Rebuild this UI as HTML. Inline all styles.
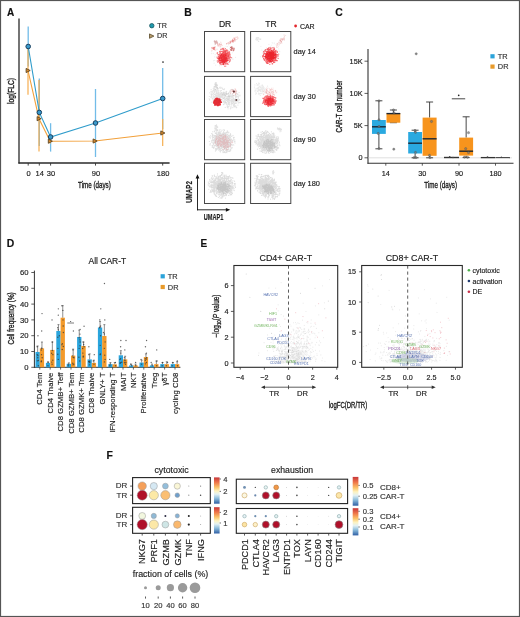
<!DOCTYPE html>
<html><head><meta charset="utf-8"><style>
html,body{margin:0;padding:0;background:#fff;}
svg{display:block;font-family:"Liberation Sans", sans-serif;will-change:transform;}
text{stroke-width:0.16px;}
</style></head><body>
<svg width="520" height="617" viewBox="0 0 520 617" fill="#222">
<defs><filter id="b4" x="-20%" y="-20%" width="140%" height="140%"><feGaussianBlur stdDeviation="0.45"/></filter><filter id="b3" x="-20%" y="-20%" width="140%" height="140%"><feGaussianBlur stdDeviation="0.3"/></filter></defs>
<rect x="0.5" y="0.5" width="519" height="616" fill="none" stroke="#555" stroke-width="1.2"/>
<text x="7" y="16.08" font-size="10" text-anchor="start" font-weight="bold" fill="#111" stroke="#111">A</text>
<line x1="19" y1="18.5" x2="19" y2="163.6" stroke="#2a2a2a" stroke-width="1.3"/>
<line x1="18.4" y1="163" x2="169.6" y2="163" stroke="#2a2a2a" stroke-width="1.3"/>
<line x1="28.2" y1="163" x2="28.2" y2="165.6" stroke="#333" stroke-width="0.9"/>
<text x="28.6" y="175.59" font-size="7.5" text-anchor="middle" fill="#222" stroke="#222">0</text>
<line x1="39.3" y1="163" x2="39.3" y2="165.6" stroke="#333" stroke-width="0.9"/>
<text x="39.7" y="175.59" font-size="7.5" text-anchor="middle" fill="#222" stroke="#222">14</text>
<line x1="50.6" y1="163" x2="50.6" y2="165.6" stroke="#333" stroke-width="0.9"/>
<text x="51" y="175.59" font-size="7.5" text-anchor="middle" fill="#222" stroke="#222">30</text>
<line x1="95.5" y1="163" x2="95.5" y2="165.6" stroke="#333" stroke-width="0.9"/>
<text x="95.9" y="175.59" font-size="7.5" text-anchor="middle" fill="#222" stroke="#222">90</text>
<line x1="162.7" y1="163" x2="162.7" y2="165.6" stroke="#333" stroke-width="0.9"/>
<text x="163.1" y="175.59" font-size="7.5" text-anchor="middle" fill="#222" stroke="#222">180</text>
<text x="94.45" y="187.79" font-size="8.9" text-anchor="middle" fill="#222" stroke="#222" style="stroke-width:0.35px" textLength="32.7" lengthAdjust="spacingAndGlyphs">Time (days)</text>
<text x="14.01" y="91" font-size="8.4" text-anchor="middle" transform="rotate(-90 14.01 91)" textLength="26" lengthAdjust="spacingAndGlyphs" style="stroke-width:0.35px" fill="#222" stroke="#222">log(FLC)</text>
<line x1="28.2" y1="26.5" x2="28.2" y2="66.5" stroke="#72BCE8" stroke-width="1.3"/>
<line x1="39.3" y1="78.6" x2="39.3" y2="146" stroke="#72BCE8" stroke-width="1.3"/>
<line x1="50.6" y1="123.2" x2="50.6" y2="151.6" stroke="#72BCE8" stroke-width="1.3"/>
<line x1="95.5" y1="89" x2="95.5" y2="157" stroke="#72BCE8" stroke-width="1.3"/>
<line x1="162.7" y1="68" x2="162.7" y2="129" stroke="#72BCE8" stroke-width="1.3"/>
<line x1="28" y1="46.5" x2="28" y2="94.8" stroke="#F6AE50" stroke-width="1.2"/>
<line x1="39" y1="80" x2="39" y2="151.6" stroke="#F6AE50" stroke-width="1.2"/>
<line x1="50.2" y1="139" x2="50.2" y2="143.5" stroke="#F6AE50" stroke-width="1.2"/>
<line x1="95" y1="139" x2="95" y2="143" stroke="#F6AE50" stroke-width="1.2"/>
<line x1="162.7" y1="119" x2="162.7" y2="146" stroke="#F6AE50" stroke-width="1.2"/>
<polyline points="28.2,46.5 39.3,112.4 50.6,137 95.5,123 162.7,98.5" fill="none" stroke="#2F9CCB" stroke-width="1.1"/>
<polyline points="28,70.5 39,118.7 50.2,141.2 95,141 162.7,133" fill="none" stroke="#F2A03A" stroke-width="1.1"/>
<polygon points="26.1,68.4 26.1,72.6 30.2,70.5" fill="#D98A2E" stroke="#4d3818" stroke-width="0.8"/>
<polygon points="37.1,116.6 37.1,120.8 41.2,118.7" fill="#D98A2E" stroke="#4d3818" stroke-width="0.8"/>
<polygon points="48.3,139.1 48.3,143.3 52.4,141.2" fill="#D98A2E" stroke="#4d3818" stroke-width="0.8"/>
<polygon points="93.1,138.9 93.1,143.1 97.2,141" fill="#D98A2E" stroke="#4d3818" stroke-width="0.8"/>
<polygon points="160.8,130.9 160.8,135.1 164.9,133" fill="#D98A2E" stroke="#4d3818" stroke-width="0.8"/>
<circle cx="28.2" cy="46.5" r="2.3" fill="#3A9ACC" stroke="#173E5E" stroke-width="1"/>
<circle cx="39.3" cy="112.4" r="2.3" fill="#3A9ACC" stroke="#173E5E" stroke-width="1"/>
<circle cx="50.6" cy="137" r="2.3" fill="#3A9ACC" stroke="#173E5E" stroke-width="1"/>
<circle cx="95.5" cy="123" r="2.3" fill="#3A9ACC" stroke="#173E5E" stroke-width="1"/>
<circle cx="162.7" cy="98.5" r="2.3" fill="#3A9ACC" stroke="#173E5E" stroke-width="1"/>
<circle cx="163" cy="62" r="0.85" fill="#222"/>
<circle cx="151.8" cy="25.7" r="2.2" fill="#1F9AAE" stroke="#175560" stroke-width="0.8"/>
<text x="157.3" y="27.78" font-size="7.2" text-anchor="start" fill="#333" stroke="#333">TR</text>
<polygon points="149.5,33.9 149.5,38.3 153.9,36.1" fill="#B59A6A" stroke="#5a4a2a" stroke-width="0.8"/>
<text x="157.1" y="38.48" font-size="7.2" text-anchor="start" fill="#333" stroke="#333">DR</text>
<text x="184.3" y="15.52" font-size="10.4" text-anchor="start" font-weight="bold" fill="#111" stroke="#111">B</text>
<text x="225.1" y="26.58" font-size="8.6" text-anchor="middle" fill="#222" stroke="#222">DR</text>
<text x="271" y="26.58" font-size="8.6" text-anchor="middle" fill="#222" stroke="#222">TR</text>
<circle cx="295.6" cy="26" r="1.4" fill="#E3262B"/>
<text x="299.9" y="28.61" font-size="7" text-anchor="start" fill="#222" stroke="#222">CAR</text>
<text x="293.6" y="54.35" font-size="7.4" text-anchor="start" fill="#222" stroke="#222">day 14</text>
<text x="293.6" y="99.15" font-size="7.4" text-anchor="start" fill="#222" stroke="#222">day 30</text>
<text x="293.6" y="142.25" font-size="7.4" text-anchor="start" fill="#222" stroke="#222">day 90</text>
<text x="293.6" y="185.95" font-size="7.4" text-anchor="start" fill="#222" stroke="#222">day 180</text>
<path d="M221.96 58.57h0M222.14 53.61h0M217.92 54.22h0M230.17 58.04h0M229.72 56.99h0M225.87 56.61h0M213.5 60.63h0M226.54 58.49h0M218.16 52.69h0M225.33 55.22h0M226.63 51.65h0M225.35 57.86h0M219.53 65.81h0M226.84 62.68h0M219.78 51.06h0M221.44 54.86h0M227.29 56.99h0M220.82 49.76h0M220.38 62.83h0M218.65 56.97h0M226.06 46.56h0M223.79 63.34h0M211.41 53.57h0M222.86 50.6h0M226.48 55.13h0M214.71 60.47h0M227.52 61.18h0M232.14 57.67h0M224.22 47.7h0M227.19 51.83h0M220.78 47.91h0M217.69 52.31h0M214.75 56.94h0M232.16 58.97h0M225.64 51.08h0M216.78 61.36h0M230.11 56.44h0M224.97 58.11h0M233.06 59.21h0M226.61 58.79h0M214.09 63.19h0M229.23 58.68h0M211.66 51.7h0M228.55 44.63h0M222.4 61.62h0M215.63 65.16h0M226.81 54.6h0M225.45 59.4h0M224.22 62.37h0M219.53 53.01h0M229.75 55.66h0M218.22 61.18h0M232.29 52.83h0M215.22 54.69h0M222.61 53.71h0M231.93 49.34h0M231.06 47.89h0M218.78 59.29h0M230.27 60.65h0M225.57 56.35h0M224.41 58.95h0M222.44 57.16h0M226.94 55.51h0M228.08 58.9h0M235.56 57.45h0M220.93 53.26h0M223.42 61.04h0M221.48 57.81h0M216.76 56.96h0M225.89 56.93h0M220.91 59.43h0M225.19 52.37h0M220.17 54.9h0M222.15 55.12h0M229.55 48.49h0M223.1 61.22h0M228.64 64.45h0M213.29 53.38h0M221.45 59.24h0M230.03 46.81h0M227.6 46.55h0M224.56 62.67h0M222.6 56.65h0M228.28 56.35h0M222.97 64.7h0M229.79 53.74h0M228.99 53.91h0M224.29 59.73h0M224.83 59.33h0M214.34 46.44h0" stroke="#a8a8a8" stroke-opacity="0.2" stroke-width="1.2" stroke-linecap="round" fill="none"/>
<path d="M225.95 53.25h0M220.21 51.13h0M228.23 60.44h0M228.96 53.36h0M223.8 52.51h0M226.48 63.98h0M220.68 63.85h0M227.26 56.55h0M223.46 54.77h0M225.2 59.02h0M229.04 53.02h0M227.78 63.55h0M228.88 56.54h0M221.2 61.58h0M224.2 57.82h0M228.78 56.19h0M217.31 60.74h0M224.91 54.73h0M223.77 60.8h0M224.08 62.87h0M223.59 61.67h0M221.45 61h0M217.23 52.75h0M219.49 57.25h0M223.13 57.18h0M221.73 58.28h0M230.07 57.49h0M225.66 61.5h0M223.11 52.01h0M221.86 61.81h0M218.04 54.79h0M227.33 60.63h0M223.83 60.68h0M224.38 52.35h0M218.33 54.62h0M227.03 54.92h0M220.64 54.06h0M218.44 56.81h0M219.67 58.83h0M221.55 49.14h0M226.34 56.14h0M224.82 55.37h0M226.53 60.44h0M226.13 58.67h0M228.47 60.07h0M225.38 48.55h0M226.94 62.8h0M222.76 55.33h0M220.55 60.2h0M230.4 56.8h0M225.76 61.09h0M220.63 56.93h0M224.82 60.77h0M223.68 56.48h0M220.24 55.79h0M226.92 57.73h0M220.81 53.77h0M225.98 59.32h0M229.69 59.1h0M223.56 59.49h0M224.94 54.35h0M218.89 54.5h0M224.82 58.07h0M222.41 53.21h0M219.62 51.65h0M229.76 61.45h0M230.17 60.7h0M220.75 58.39h0M223.59 59.5h0M221.25 56.78h0M225.4 58.88h0M226.03 58.18h0M222.67 60.61h0M223.97 53.83h0M221.61 57.3h0M223.42 57.96h0M223.8 58.04h0M223.33 52.01h0M225.27 61.73h0M225.32 56.51h0M225.36 53.24h0M217.16 57.55h0M220.54 60.41h0M220.16 63.93h0M222.46 51.55h0M221.13 59.49h0M225.54 58.04h0M228.99 60.27h0M223.73 59.81h0M229.59 61.38h0M227.38 52.75h0M223.28 60.37h0M222.76 61.79h0M225.89 61.11h0M228.14 56.4h0M222.6 60.97h0M227.23 57.33h0M219.72 58.09h0M225.06 62.04h0M226.54 57.4h0M226.79 59.57h0M224.52 57.53h0M222.95 60.18h0M220.11 54.66h0M223.82 51.15h0M222.27 48.86h0M221.41 59.69h0M225.78 57.07h0M222.99 51.35h0M230.2 59.47h0M227.63 53.59h0M223.15 49.66h0M226.53 61.23h0M217.16 57.08h0M226.01 49.9h0M217.41 52.83h0M221.6 51.41h0M223.91 58.35h0M226.02 60.25h0M229.06 62.19h0M219.21 55.18h0M220.09 52.78h0M223.52 57.32h0M225.52 50.63h0M219.47 57.2h0M223.1 55.99h0M223.58 54.11h0M226.25 58.79h0M223.49 54.48h0M220.37 57.46h0M218.54 58.14h0M224.32 51.51h0M222.92 55.98h0M225.41 59.87h0M223.67 53.72h0M223.3 57.03h0M226.37 58.54h0M221.27 51.61h0M222.49 54.19h0M219.91 56.81h0M222.08 57.74h0M225.63 55.57h0M227.66 57.81h0M221.17 58.34h0M224.93 62.68h0M226.48 61.28h0M225.59 56.64h0M225.58 52.77h0M227.93 53.03h0M224.67 66.21h0M223.02 57.38h0M227.87 57.41h0M220.97 58.38h0M225.84 60.28h0M221.1 64.66h0M229.63 57.38h0M224.74 55.5h0M228.75 54.34h0M226.16 55.29h0M221.37 60.32h0M228.47 57.26h0M221.43 60.71h0M223.63 58.6h0M229.13 62.05h0M223.81 60.6h0M221.53 57.11h0M228.58 52.2h0M227.92 55.37h0M223.59 55.99h0M223.38 52.73h0M223.88 51.26h0M223.55 58.6h0M225.44 56.33h0M220.64 57.97h0M222.1 63.88h0M226.49 56.82h0M222.15 54.35h0M220.52 55.82h0M224.83 59.47h0M225.79 66.11h0M221.33 57.35h0M221.97 58.01h0M224.34 59.01h0M222.96 58.84h0M223.98 60.54h0M217.18 53.58h0M223.79 52.97h0M220.14 59.94h0M221.53 59.97h0M226.41 58.59h0M225.58 56.86h0M218.87 57.17h0M225.39 55.08h0M223.45 60.45h0M220.73 59.99h0M230.32 54.97h0M224.31 56.67h0M229.19 58.63h0M226.94 54.4h0M223.74 57.26h0M226.95 49.95h0M226.41 56.75h0M225.37 58.84h0M218.55 56.41h0M229.02 54.89h0M220.22 51.59h0M219.53 58.71h0M229.72 59.1h0M221.98 54.47h0M225.65 59.6h0M220.25 52.39h0M224.82 58.34h0M219.23 56.45h0M221.9 59.23h0M223.39 56.94h0M222.56 61.72h0M228.67 55.76h0M226.76 54.12h0M224.05 60.45h0M229.1 55.69h0M223.54 58.12h0M218.56 57.37h0M221.43 58.86h0M223.93 58.39h0M221.88 61.03h0M222.84 54.76h0M225.47 50.71h0M221.43 57.21h0M226.77 56.62h0M224.88 54.55h0M224.86 64.29h0M221.55 57.37h0M224.41 61.6h0M225.92 60.64h0M224.52 58.37h0M227.05 58.85h0M229.62 52.1h0M226.64 55.74h0M223.78 56.23h0M222.05 53.78h0M221.59 59.98h0M223.93 57.58h0M223.19 61.14h0M225.53 56.7h0M226.13 56.66h0M219.76 63.41h0M225.43 53.28h0M227.58 58.75h0M224.97 61.04h0M224.49 56.67h0M218.38 61.38h0M223.91 56.1h0M225.03 57.63h0M226.16 55.74h0M223.67 48.32h0M222.32 60.14h0M228.48 55.77h0M223.38 63.95h0M222.66 60.38h0M229.67 57.47h0M228.09 54.32h0M224.53 56.98h0M224.2 62.04h0M221.79 59.39h0M220.11 59.39h0M225.8 56.13h0M225.66 50.79h0M226.46 50.81h0M221.36 54.96h0M222.4 60.91h0M224.09 55.63h0M225.7 63.94h0M223.82 58.84h0M228.14 58.42h0M223.66 59.05h0M227.18 60.11h0M222.85 52.87h0M224.16 61.64h0M219.99 52.99h0M223.71 49.16h0M222.89 55.47h0M225.38 54.35h0M220.71 55.64h0M223.63 54.51h0M223.84 60.45h0M227.95 64.46h0M221.06 55.54h0M221.26 57.16h0M225.63 51.59h0M225.42 57.19h0M217.41 58.53h0M226.63 58.18h0M225.46 59.15h0M228.36 56.36h0M226.86 55.58h0M226.35 53.88h0M223.42 64.57h0M225.36 56.64h0M219.79 53.98h0M224.48 61.25h0M225.29 59.5h0M223.65 62.98h0M222.43 54.99h0M226.91 57.57h0M222.83 54.88h0M222.9 59.92h0M225.04 52.22h0M225.29 58.05h0M220.3 60.55h0M222.82 55.89h0M226.59 62.85h0M221.39 59.14h0M222.07 62.32h0M221.53 60.71h0M222.28 59.4h0M223.47 54.49h0M231.33 57.63h0M218.04 60.89h0M217.77 62.13h0M221.78 57.91h0M228.21 57.8h0M227.94 60.41h0M220.94 60.91h0M225.54 60.02h0M226.95 60.38h0M224.39 59.37h0M222.65 57.45h0M226.9 55.44h0M227.82 53.99h0M224.73 55.08h0M224.35 54.4h0M218.21 61.89h0M224.86 54.95h0M224.5 61.46h0M220.38 56.84h0M225.69 59.51h0M222.63 48.45h0M228.15 58.68h0M223.85 56.13h0M224.72 55.51h0M220.21 54.19h0M221.71 54.73h0M219.74 59.97h0M219.22 60.07h0M220.25 58.78h0M228.61 58.15h0M221.24 57.5h0M224.32 50.02h0M221.67 57.98h0M222.16 57.63h0M226.37 60.52h0M226.97 59.77h0M222.79 57.22h0M222.85 55.98h0M223.17 50.06h0M222.63 57.2h0M220.39 57.2h0M225.6 56.61h0M223.08 49.63h0M225.62 56.03h0M226.78 58.86h0M223.88 54.83h0M226.03 55.26h0M224.58 55.16h0M224.51 60.47h0M220.73 57.16h0M225.96 57.91h0M220.62 49.23h0M226.8 63.72h0M227.03 60.72h0M221.63 54.3h0M226.91 53.47h0M217.45 53.11h0M221.4 54.24h0M224.61 54.15h0M228.39 56.97h0M220 62.8h0M221.76 58.23h0M223.76 55.98h0M224.94 54.39h0" stroke="#F0141E" stroke-opacity="0.6" stroke-width="1.2" stroke-linecap="round" fill="none"/>
<path d="M220.15 57.1h0M222.95 59.14h0M224.25 59.3h0M221.21 57.23h0M218.23 58.58h0M224.09 60.32h0M222.73 58.56h0M225.11 59.04h0M224.66 60.46h0M223.48 62.27h0M221.71 58.1h0M221.18 57.01h0M223.05 60.42h0M225.64 61.02h0M225.71 55.84h0M221.56 60.13h0M226.23 59.26h0M221.07 58.11h0M221.51 56.85h0M226.38 57.44h0M223.05 64.41h0M225.67 59.84h0M221.62 60.03h0M226.65 60.56h0M225.84 59.25h0M224.16 58.5h0M223.96 62.25h0M219.78 58.84h0M223.54 57.57h0M222.31 60.97h0M227.5 60.57h0M223.73 55.12h0M227.34 59.19h0M222.92 56.2h0M222.87 56.26h0M223.16 60.17h0M223.07 59.7h0M221.08 62.57h0M221.53 54.45h0M222.58 57.09h0M220.73 58.11h0M223.66 56.05h0M222.69 62.57h0M224.54 58.62h0M223.29 58.7h0M222.89 60.83h0M222.95 56.78h0M224.47 57.47h0M223.33 64.44h0M220.64 56.19h0M218.77 59.91h0M221.56 54.33h0M219.66 60.54h0M221.26 58.08h0M223.74 62.39h0M223.32 59.46h0M222.3 60.14h0M223.65 59.13h0M221.87 55.68h0M221.8 55.14h0M225.75 60.34h0M220.29 62.49h0M225.01 54.23h0M227.14 61.02h0M224.19 60.06h0M223.45 59.43h0M225.37 55.26h0M220.21 55.51h0M221.75 57.49h0M223.83 59.67h0M223.07 57.31h0M222.01 61.38h0M224.72 59.25h0M222.27 62.88h0M221.66 60.62h0M225.6 58.34h0M224.86 56.21h0M225.28 59.5h0M219.43 60.67h0M220.99 62.2h0M221.47 58.59h0M223.64 58.17h0M223.58 57.62h0M224.51 59.01h0M225.61 59.08h0M218.99 59.24h0M224.05 61.68h0M220.56 62.87h0M222.67 60.7h0M222.18 56.21h0M225.47 61.27h0M226.46 61.14h0M221.71 54.84h0M221.54 57.31h0M221.17 60.46h0M223.74 58.33h0M223.39 58.64h0M223.48 60.88h0M225.16 57.29h0M219.61 62.57h0M223.26 61.76h0M219.3 58.18h0M223.06 55.4h0M221.84 60.81h0M225.43 62.99h0M221.06 55.5h0M224.17 61.35h0M223.43 55.75h0M224.76 60.98h0M224.25 57.78h0M223.68 60.98h0M221.74 54.39h0M223.74 60.2h0M223.03 61.22h0M221.68 58.79h0M222.31 60.43h0M226.59 58.37h0M224.78 60.47h0M226.98 58.55h0M222.75 56.34h0M224.06 62.36h0M224.2 60.06h0M222.55 59.42h0M219.79 61.62h0M222.08 56.24h0M221.31 56.94h0M224.92 61.65h0M219.95 61.32h0M225 57.55h0M219.66 57.14h0M221.57 59.86h0M222.2 53.93h0M223.53 55.16h0M225.04 55.98h0M221.44 56.86h0M221.78 62.25h0M224.92 60.5h0M223.72 55.13h0M221.83 57.62h0M220.8 60.27h0M221.33 57.23h0M224.34 62.33h0M223.39 56.56h0M225.74 59.74h0M225.09 62.7h0M225.54 57.9h0M225.37 60.94h0M219.54 57.99h0M219.8 58.73h0M224.3 56.33h0M223.85 62.68h0M220.02 61.65h0M222.53 59.67h0M222.65 61.5h0M225.34 59.22h0M219.94 60.85h0M221.94 60.57h0M223.59 63.06h0M225.56 57.87h0M223.79 63.41h0" stroke="#E8101A" stroke-opacity="0.7" stroke-width="1.2" stroke-linecap="round" fill="none"/>
<path d="M225.56 54.26h0M228.58 55.7h0M227.41 51.19h0M224.29 53.93h0M224.99 55.49h0M227.85 50.57h0M225.07 53.79h0M225.64 53.23h0M227.32 52.08h0M227.32 52.39h0M225.55 54.44h0M225.5 54h0M229.3 53.55h0M226.24 54.79h0M225.86 55.39h0M224.25 54.58h0M225.6 52.1h0M229.6 52.01h0M229.57 54.65h0M229.04 51.79h0M228.6 56.05h0M226.3 53.27h0M225.76 52.4h0M227.28 54.08h0M226.81 56.51h0M225.93 54.33h0M229.05 51.74h0M228.32 56.71h0M224.13 51.58h0M224.68 50.27h0M227.29 50.25h0M227.37 56.04h0M223.67 52.95h0M223.14 54.86h0M225.21 53.03h0M226.6 54.45h0M225.89 53.53h0M225.54 53.7h0M224.45 53.61h0M223.12 52.64h0M229.85 53.64h0M224.3 53.95h0M224.8 50.61h0M225.21 54.79h0M227.17 53.33h0M224.88 51.61h0M228.86 53.93h0M224.49 53.37h0M226.87 53.22h0M226.01 51.1h0M224.66 56.46h0M225.18 54.98h0M223.54 53.02h0M226.96 55.31h0M224.54 54.54h0M227.18 52.21h0M227.34 51.93h0M225.11 53.47h0M224.75 50.94h0M225.76 54.84h0" stroke="#F02028" stroke-opacity="0.5" stroke-width="1.2" stroke-linecap="round" fill="none"/>
<path d="M215.21 44.22h0M214.31 41.13h0M217.56 43.18h0M216.83 41.71h0M216.67 43.01h0M216.48 42.73h0M217.15 41.92h0M214.54 40.93h0M217.09 41.81h0M214.45 41.57h0M215.17 41.17h0M215.35 41.95h0M215.04 41.55h0M215.74 42.15h0M215.84 43h0M215.06 41.74h0M216.63 40.81h0M214.84 42.35h0M215.3 43.89h0M215.17 43.86h0M217.16 43.22h0M216.29 42.85h0M216.28 41.24h0M216.84 42.06h0M216.88 42.81h0M217.05 42.54h0M215.23 42.99h0M215.19 42.05h0M215.82 42.87h0M217.52 42.75h0" stroke="#B05050" stroke-opacity="0.45" stroke-width="1.2" stroke-linecap="round" fill="none"/>
<path d="M234.02 49.97h0M232.43 48.95h0M232.16 48h0M232.23 48.1h0M233.94 49.39h0M231.85 46.69h0M232.25 48.34h0M231.21 47.55h0M232.27 48.64h0M233.74 48.95h0M232.47 48.39h0M231.69 50.45h0M233.3 50.69h0M231.95 48.83h0M231.42 49.86h0M230.91 49.42h0M233.4 50.35h0M231.36 50h0M231.59 47.97h0M230.98 50.07h0M233.95 48.15h0M231.54 48.43h0M231.76 46.83h0M231.63 50.11h0M234.17 48.51h0M231.61 48.24h0M230.41 49.8h0M231.21 49.97h0M230.59 47.4h0M232.59 47.96h0" stroke="#B02020" stroke-opacity="0.6" stroke-width="1.2" stroke-linecap="round" fill="none"/>
<path d="M234.84 39.58h0M229.29 43.63h0M234.11 37.99h0M238.18 38.04h0M233.89 38.18h0M230.19 42.05h0M235.03 37.91h0M231.94 41.71h0M227.19 43.63h0M234.77 41.28h0M234.34 39.55h0M228.54 42.44h0M230.59 42.33h0M233.14 42.37h0M232.85 39.65h0M237.55 38.9h0M232.46 40.26h0M226.44 43.64h0M234.84 38.72h0M228.65 43.56h0M233.51 41.02h0M235.12 40.88h0M230.46 43.29h0M229.88 43.34h0M233.15 40.86h0M235.38 39.22h0M236.23 39.64h0M232.64 40.32h0M230 41.97h0M231.88 41.35h0M234.39 38.93h0M230.23 42.05h0M232.59 39.85h0M237.04 37.62h0M232.61 41.23h0M233.35 41.11h0M233.41 40.61h0M226.52 43.91h0M233.33 40.29h0M229.78 42.06h0M232.93 42.09h0M230.65 41.21h0M230.92 42.17h0M232.78 41.12h0M232.84 41.78h0M237.21 36.8h0M232.86 40.5h0M232.84 39.17h0M234.16 40.19h0M231.03 41.1h0M227.85 42.88h0M234.84 40.14h0M232.67 41.44h0M230.73 42.16h0M232.88 41.35h0M232.22 41.02h0M231.79 40.75h0M235.95 37.24h0M234.97 40.37h0M234.25 38.69h0" stroke="#E07070" stroke-opacity="0.4" stroke-width="1" stroke-linecap="round" fill="none"/>
<path d="M211.98 48.77h0M214.38 47.48h0M212.83 48.1h0M213.61 48.84h0M213 47.26h0M215.67 50.1h0M213.31 49.52h0M214.28 49.16h0M214.34 47.74h0M214.5 49.51h0M211.93 50.47h0M216.98 49.24h0M212.91 47.9h0M212.08 48.62h0M213.44 49.17h0M214.68 48.98h0M213.98 48.29h0M213.29 47.68h0M213.81 48.48h0M214.06 47.64h0M213.57 48.55h0M214.56 47.44h0M214.23 49.48h0M214.55 48.13h0M212.64 48.26h0M214.78 50.05h0M213.22 47.86h0M214.16 48.7h0M211.91 47.76h0M213.32 49.17h0M211.41 47.48h0M214.37 47.28h0M213.69 48.85h0M213.31 47.48h0M213.4 48.17h0M214.09 47.66h0M215.41 46.82h0M213.19 48.51h0M215.18 47.89h0M214.46 47.93h0" stroke="#E87070" stroke-opacity="0.4" stroke-width="1" stroke-linecap="round" fill="none"/>
<path d="M220.61 46.67h0M218.9 45.05h0M218.11 45.72h0M221.32 44.54h0M217.8 45h0M221.22 45.86h0M220.72 42.21h0M218.48 46.28h0M217.66 45.91h0M222.32 45.45h0M221.18 44.08h0M217.66 44.37h0M219.2 44.44h0M220.55 44.32h0M219.79 45.03h0M219.49 46.8h0M220.16 44.61h0M219.19 43.72h0M221.52 44.69h0M217.88 43.8h0M219.3 43.94h0M221.13 43.05h0M220.24 44.68h0M217.73 44.56h0M219.36 45.13h0M218.82 44.88h0M217 43.15h0M220.68 45.8h0M219.48 43.75h0M218.3 45.34h0" stroke="#E89090" stroke-opacity="0.35" stroke-width="1" stroke-linecap="round" fill="none"/>
<rect x="204.5" y="31.5" width="40.2" height="40.2" fill="none" stroke="#484848" stroke-width="1"/>
<path d="M273.52 47.82h0M270.52 48.57h0M269.93 58.46h0M274.23 43.71h0M276.44 55.69h0M269.63 59.26h0M265.76 49.62h0M267.37 53.1h0M263.11 56.16h0M272.86 53.89h0M279.8 51.7h0M277.44 50.49h0M274.13 42.86h0M270.79 52.54h0M266.63 50.14h0M267.52 49.54h0M266.3 50.62h0M263.25 52.75h0M274.31 52.12h0M266.64 60.97h0M275.46 58.57h0M276.53 51.7h0M268.82 59.62h0M266.28 52.84h0M271.87 55.55h0M267.94 58.91h0M268.53 57.49h0M276.02 57.13h0M274 47.12h0M261.73 50.1h0M272.45 61.75h0M262.27 55.19h0M264.48 49.47h0M267.94 57.3h0M270.88 59.99h0M263.69 58.39h0M275.18 53.88h0M272.46 50.4h0M263.06 51.27h0M266.69 62.58h0M270.81 55.22h0M274.06 49.22h0M275.1 55.57h0M260.51 56.81h0M272.92 55.99h0M279.11 51.22h0M272.67 57.62h0M264.2 60.1h0M260.9 46.35h0M272.73 47.51h0M268.9 44.45h0M270.01 47.27h0M271.65 45.07h0M272.29 52.03h0M269.98 53.13h0M270.38 46.23h0M263.99 51h0M272.16 42.58h0M265.02 50.14h0M263.26 55.3h0M268.76 48.99h0M263.69 57.94h0M265.64 56.72h0M272.3 43.08h0M263.1 53.52h0M271.65 57.79h0M274.41 59.19h0M267.36 52.34h0M274.25 51.16h0M275.94 44.76h0M273.52 52.55h0M271.47 53.62h0M263.14 50.94h0M278.67 48.95h0M262.4 52.77h0M267.24 48.48h0M264.55 59.26h0M266.34 47.49h0M274.32 56.6h0M263.34 57.62h0" stroke="#a8a8a8" stroke-opacity="0.18" stroke-width="1.2" stroke-linecap="round" fill="none"/>
<path d="M263.61 51.91h0M274.88 54.58h0M265.65 57.66h0M274.08 55.51h0M263.73 54.21h0M272.19 58.67h0M277.64 54.59h0M268.77 55.45h0M275.18 51.83h0M273.63 52.9h0M272.34 58.35h0M266.11 55.25h0M271.51 57.95h0M267.07 51.63h0M269.87 54.71h0M264.92 59.32h0M268.57 61.34h0M273.84 55.68h0M273.36 51.15h0M269.36 53.3h0M265.78 55.67h0M270.05 61.34h0M267.11 53.74h0M272.2 57.22h0M270.71 53.7h0M272.48 57.04h0M263.6 54.55h0M265.38 50.87h0M271.16 55.84h0M271.03 52.1h0M269.84 51.95h0M272.05 58.35h0M277.27 60.66h0M267.54 53.77h0M267.03 56.82h0M278.13 58.43h0M265.69 57.66h0M270.6 56.8h0M277.37 52.29h0M267.38 63.46h0M271.9 52.48h0M270.77 59.57h0M270.07 52.83h0M267.78 63.2h0M263.89 56.29h0M270.7 58.07h0M269.06 57.6h0M273.7 55.01h0M268.86 54.85h0M266.93 54.77h0M269.45 56.44h0M275.68 60.83h0M268.91 58.01h0M271.72 58.65h0M270.68 56.66h0M268.82 52.46h0M273.91 60.8h0M273.12 57.34h0M271.61 53.8h0M263.82 58.25h0M271.36 53.38h0M266.93 60.71h0M267.87 55.51h0M268.68 56.22h0M269.8 52.61h0M274.68 52.46h0M268.67 57.82h0M268.56 53.86h0M271.95 54.13h0M265.86 55.19h0M269.76 62.42h0M266.43 59.48h0M267.61 54.18h0M269.36 56.68h0M273.88 62.6h0M268.18 60.92h0M274.38 58.85h0M267.71 59.2h0M270.19 57.01h0M269.58 58.26h0M274.84 60.12h0M269.82 59.58h0M276.12 51.86h0M276.19 50.26h0M272.66 57.98h0M276.23 56.72h0M268.77 52.41h0M265.85 58.66h0M269.7 52.73h0M272.62 52.54h0M268.94 53.77h0M270 49.32h0M271.65 55.89h0M271.93 57.86h0M269.38 59.3h0M273.78 56.44h0M269.06 53.68h0M273.23 51.2h0M269.99 52.6h0M265.3 58.01h0M270.5 55.74h0M273.92 49.62h0M270.35 56.75h0M273.76 51.26h0M273.32 56.48h0M275.75 60.16h0M270.6 53.9h0M269.31 51.84h0M270.49 48.09h0M270.28 57.3h0M274.37 54.21h0M275.88 52.99h0M270.09 48.09h0M267.71 52.43h0M276.14 57.67h0M266.5 57.68h0M272.39 54.69h0M270.69 54.41h0M268.59 48.68h0M270.26 60.62h0M275.91 54.51h0M267.83 54.77h0M273.93 56.97h0M268.43 57.01h0M269.84 57.61h0M269.09 49.86h0M270.82 58.57h0M266.5 55.18h0M273.85 54.14h0M268.19 63.52h0M273.67 59.61h0M267.1 61.96h0M264.47 53.58h0M273.34 60.78h0M267.16 53.02h0M271.33 48.09h0M272.96 57.78h0M268.95 57.69h0M273.47 56.8h0M272.53 61.48h0M268.84 56.23h0M268.67 59.61h0M269.1 57.44h0M271.1 55.86h0M276.92 55.27h0M275.82 58.8h0M275.46 54.96h0M274.01 58.53h0M268.34 56.64h0M270.13 55.46h0M275.38 52.81h0M268.94 53.11h0M270.65 57.78h0M277.06 56.79h0M272.3 52.76h0M272.73 60.84h0M273.86 61.71h0M273.63 49.84h0M269.48 57.86h0M272.12 52.47h0M267.34 59.32h0M265.72 61.13h0M270.67 56.76h0M265.72 53.3h0M273.12 49.94h0M266.13 55.77h0M272.36 58.42h0M269.24 54.8h0M269.74 53.39h0M271.52 56.21h0M268.3 56.57h0M270.55 55.3h0M274.64 48.98h0M271.52 51.5h0M269.44 61.36h0M266.64 55.22h0M268.44 59.25h0M267.02 49.13h0M272.48 54.24h0M269.43 59.75h0M267.36 54.17h0M271.14 57.19h0M268.71 59.58h0M278.78 54.03h0M275.73 54.28h0M271.1 54.3h0M268.28 50.69h0M269.16 60.58h0M274.76 54.26h0M268.67 52.9h0M266.22 62.53h0M273.02 56.05h0M268.81 51.67h0M275.4 58.6h0M267.12 59.4h0M266.56 58.07h0M267.09 54.01h0M272.41 57.26h0M274.29 52.39h0M276.36 60.76h0M270.56 57.39h0M267.76 55.01h0M265.78 55.94h0M271.33 60.76h0M274.06 58.73h0M269.28 54.74h0M269.36 56.45h0M263.56 58.56h0M264.88 53.62h0M270.68 53.63h0M276.67 55.22h0M276.33 60.11h0M268.79 57.14h0M275.34 54.32h0M270.92 53.46h0M270.81 54.24h0M270.9 59.45h0M275.68 56.11h0M271.34 58.89h0M269.54 51.54h0M274.65 52.01h0M273.99 51.9h0M277.28 51.59h0M273.7 61.36h0M267.09 61.3h0M267.6 48.83h0M273.23 58.29h0M270.4 54.43h0M269.22 54.49h0M264.07 53.42h0M269.28 52.87h0M272.05 59.68h0M273.24 51.11h0M271.19 56.14h0M275.85 60.19h0M272.51 60.27h0M269.16 61.51h0M269.05 57.12h0M273.95 52.09h0M268.04 48.85h0M271.2 55.39h0M269.41 57.51h0M262.88 55.51h0M270.92 54.58h0M273.5 62.33h0M268.97 51.99h0M268.4 55.96h0M272.74 52.29h0M274.25 51.67h0M273.62 57.24h0M272.29 63.89h0M269.64 54.96h0M272.34 58.91h0M265.72 56.66h0M267.89 58.02h0M275.6 55.8h0M270.21 56.3h0M272.65 56.23h0M269.16 52.79h0M269.95 60.26h0M270.23 60.77h0M271.6 55.55h0M264.54 53.05h0M275.16 50.64h0M266.99 51.39h0M268.59 58.07h0M272.77 47.8h0M275.93 53.33h0M268.45 62h0M270.3 50.84h0M268.27 52.81h0M266.92 54.32h0M273.8 56.95h0M266.99 56.04h0M270.71 58.52h0M269.4 57.35h0M278.28 55.97h0M266.65 56.86h0M267.67 54.18h0M271.29 56.89h0M269.56 58.86h0M269.9 50.59h0M273.8 54.2h0M275.02 53.09h0M272.69 56.81h0M266.52 61h0M263.71 59.11h0M274.58 57.5h0M273.06 53.7h0M270.56 56.46h0M272.14 58.32h0M269.85 52.91h0M268.55 57.18h0M264.54 50.79h0M269.1 53.48h0M269.36 54.64h0M273.43 48h0M269.48 57.42h0M272.39 60.19h0M274.45 51.57h0M272.92 54.31h0M267.67 61.5h0M268.3 52.32h0M269.11 52.32h0M274.28 57.06h0M275.72 57.18h0M268.35 59.63h0M268.21 53.82h0M269.99 55.75h0M274.97 53.27h0M271.89 55.49h0M266 51.39h0M269.8 57.16h0M271.77 57.44h0M270.78 53.87h0M272.16 51.74h0M265.68 54.32h0M265.37 53.62h0M267.86 53.46h0M270.44 52.52h0M269.05 49.01h0M271.13 52.2h0M267.66 56.54h0M270.95 56h0M265.12 56.49h0M271.15 51.85h0M273.33 55.41h0M270.67 53.87h0M272.61 55.98h0M274.77 57.34h0M268.34 54.74h0M273.97 54.19h0M272 57.62h0M271.08 56.43h0M271.1 52.66h0M275.04 55.08h0M268.31 52.83h0M271.92 51.38h0M266.92 63.34h0M275.41 59.68h0M275.62 57.9h0M264.41 60.22h0M275.15 57.5h0M275.62 53.7h0M271.07 58.61h0M270.29 59.85h0M270.9 58.28h0M270.91 49.87h0M271.63 60.68h0M274.79 62.25h0M272.64 53.29h0M270.67 48.16h0M269.91 59.12h0M262.63 56.36h0M273.64 60.75h0M267.19 53.07h0M263.69 51.64h0M272.57 63.63h0M266.37 60.95h0M272.18 53.68h0M270.35 56.45h0M274.22 60.9h0M272.49 57h0M269.92 54.01h0M268.95 47.52h0M271.58 55.47h0M271.25 62.66h0M270.21 54.57h0M267.84 55.51h0M268.98 56.4h0M267.43 63.11h0M273.79 58.78h0M273.24 58.79h0M273.09 61.09h0M274.32 60.85h0M268.74 55.59h0M267.9 59.33h0M273.67 53.79h0M275.17 51.25h0M270.26 58.07h0M270.47 57.11h0M274.96 56.88h0M266.54 58.38h0M270.24 56.04h0M268.5 50.21h0M265.99 54.22h0M274.85 51.08h0M267.92 57.67h0M267.76 58.17h0M268.82 56.79h0M270.99 55.6h0M270.45 61.09h0M268.58 57.67h0M271.2 57.48h0M274.27 49.76h0M271.62 54.91h0M269.44 52.27h0M267.69 51.59h0M276.89 55.64h0M273.35 51.8h0M271.12 61.21h0M270.44 51.7h0M269.71 51.71h0M265.44 54.69h0M269.12 52.44h0M267.32 51.97h0M271.47 61.03h0M269.82 64.31h0M264.61 56.67h0M266.32 54.97h0M270.98 57.78h0M274.78 53.44h0M266 54.87h0M271.69 52.88h0M273.91 62.16h0M265.33 57.01h0M274.36 48.11h0M271.36 54.72h0M265.33 60.73h0M271.4 53.73h0M272.24 58.11h0M273.45 57.86h0M272.11 51.01h0M269.04 56.1h0M269.19 51.49h0M263.86 56.57h0M270.72 53.32h0M269.06 52.14h0M267.82 55.22h0M268.22 58.25h0M270.07 56.11h0M272.1 60.55h0M272.83 56.49h0M270 52.46h0M269.33 58.26h0M271.44 54.09h0M265.67 49.62h0M271.79 59.6h0M271.98 50.25h0M269.81 56.47h0M267.2 56.95h0M269.86 52.35h0M266 58.76h0M271.92 52.14h0M266.84 59.07h0M272.81 54.41h0M276.5 54.47h0M266.69 59.86h0M269.9 56.95h0M270.74 51.7h0M266.21 54.84h0M275.8 51.69h0M275.63 56.46h0M266.48 56.64h0M272.7 52.1h0M262.72 56.99h0M266.49 57.32h0M263.53 55.05h0M267.61 49.84h0M269.71 56.27h0" stroke="#F0141E" stroke-opacity="0.7" stroke-width="1.2" stroke-linecap="round" fill="none"/>
<path d="M269.24 53.01h0M271.12 51.58h0M271.9 57.24h0M274.68 58.23h0M271.46 56.67h0M270.67 52.65h0M274.16 57.33h0M269.9 53.1h0M274.21 57.34h0M267.72 57.7h0M275.21 55.94h0M271.57 54.95h0M269.07 58.71h0M270.3 58h0M269.86 57.84h0M272.61 53.43h0M268 55.81h0M272.62 56.7h0M273.61 52.52h0M271.8 54.43h0M270.84 56.81h0M268.25 55.42h0M267.78 56.67h0M268.54 54.75h0M271.13 54.35h0M273.39 54.39h0M272.66 56.71h0M268.09 55.45h0M268.57 55.09h0M269.94 60.59h0M269.58 59.96h0M271.68 52.71h0M265.78 57.81h0M273.09 56.98h0M270.09 55.37h0M271.23 55.24h0M269.3 55.07h0M273.43 54.44h0M271.52 53.1h0M268.87 52.54h0M270.12 57.72h0M271.34 54.76h0M272.08 55.13h0M271.5 56.69h0M267.45 57.95h0M270.34 61.65h0M270.03 54.61h0M274.21 57.4h0M275.19 57.28h0M270.11 57.82h0M268.69 54.88h0M269.26 55.44h0M272.48 54.79h0M271.38 54.75h0M270.1 56.42h0M267.99 58.55h0M271.12 59.22h0M272.92 57.61h0M270.24 53.27h0M270.07 54.84h0M271.2 54.83h0M273.44 54.82h0M270.01 58.33h0M270.61 52.95h0M271.6 55.51h0M265.63 56.5h0M268.05 54.13h0M271.77 56.75h0M269.9 61.45h0M271.61 54.46h0M271.17 55.7h0M270.16 55.31h0M269.24 58.46h0M270.67 60.28h0M272.5 60.13h0M270.32 56.94h0M269.56 55.58h0M266.43 54.54h0M268.31 54.37h0M273.53 56.66h0M273.55 58.15h0M272.82 58.52h0M269.14 58.01h0M269.82 54.67h0M268.24 60.35h0M272.6 53.88h0M271.26 56.93h0M271.5 55.11h0M267.5 56.08h0M272.68 57.97h0M272.19 58.76h0M268.21 55.89h0M271.42 58.5h0M270.98 57.3h0M270.92 61.26h0M265.34 55.94h0M266.19 56.34h0M267.15 54.3h0M271.14 60.29h0M271.71 57.67h0M273.05 56.5h0M268.54 55.75h0M271.41 55.31h0M268.99 55.1h0M266.98 53.43h0M270.38 55.1h0M270.69 59.51h0M271.32 55.92h0M267.78 53.3h0M271.5 53.81h0M271.63 53.31h0M270.92 55.82h0M273 55.02h0M269.7 56.62h0M270.73 60.23h0M269.98 54.66h0M269.83 57.19h0M271.16 57.73h0M275.03 55.92h0M267.69 56.39h0M271.6 50.41h0M270.63 52.3h0M271.7 59.46h0M273.09 52.23h0M273.92 58.27h0M269.73 57.26h0M274.25 55.17h0M270.56 54.6h0M274.01 53.58h0M272.83 51.93h0M268.35 54.5h0M272.59 51.94h0M272.05 54.41h0M273.59 55.22h0M271.77 55.57h0M274.91 55.1h0M270.54 60.96h0M270.79 57.72h0M268.83 56.5h0M265.14 56.26h0M269.04 52.24h0M267.19 58.86h0M271.63 52.21h0M274.96 54.26h0M269.71 56.62h0M267.86 51.95h0M268.81 58.96h0M272.89 52.05h0M273.5 56.09h0M271.8 56.13h0M271.59 53.5h0M268.41 54.24h0M269.71 57.55h0M267.67 59.99h0M269.08 54.53h0M272.29 57.09h0M269.78 53.32h0M268.19 52h0M273.35 58.71h0M275.09 57.25h0M271.4 57.89h0M272.89 55.35h0M271.45 61.39h0M266.52 52.48h0M268.28 57.89h0M273.46 55.15h0M272.22 55.88h0M271.32 54.65h0M270.53 55.99h0M266.23 57.33h0M270.59 58.42h0M273.15 57.95h0M272.55 53.62h0M273.51 53.62h0M273.71 57.67h0M268.22 58.92h0M268.96 54.14h0M266.88 55.46h0M273.05 54.32h0M275.04 57.73h0M269.31 52.97h0M266.65 57.4h0M273.73 53.35h0M270.6 55.3h0M269.98 57.26h0M275.64 54.4h0M272.65 58.73h0M269.92 55.63h0M267.37 58.7h0M269.32 54.36h0M270.76 53.85h0M268.09 55.25h0M274.18 55.49h0M271.87 52.32h0M269.64 52.14h0M270.34 57.52h0M266.44 53.79h0M271.23 53.69h0M272.52 58.41h0M271.67 54.92h0" stroke="#E8101A" stroke-opacity="0.75" stroke-width="1.2" stroke-linecap="round" fill="none"/>
<path d="M280.5 40.89h0M281.06 41.69h0M281.19 42.59h0M282.52 40.48h0M282.36 38.94h0M280.81 43.17h0M282.9 39.42h0M279.79 43.98h0M282.74 38.5h0M284.26 40.29h0M277.36 47.34h0M277.4 44.01h0M281 42.15h0M280.3 40.28h0M277.43 45.31h0M280.48 40.59h0M279.09 43.65h0M279.41 42.5h0M280.96 40.81h0M281.56 38.49h0M281.54 41.77h0M284.19 37.7h0M279.96 40.11h0M278.26 46.69h0M283.07 39.29h0M277.79 43.76h0M280.65 40.02h0M284.18 35.76h0M280.51 43.36h0M281.13 39.56h0M284.47 39.59h0M278.14 44.83h0M277.14 43.4h0M283.06 39.52h0M283.64 38.27h0M276.53 47.44h0M278.66 42.55h0M279.21 45.03h0M281.98 43.15h0M280.66 38.53h0M284.11 38.98h0M280.21 40.32h0M284.06 34.77h0M279.4 40.29h0M276.92 44.11h0M284.5 38.32h0M279.11 41.62h0M281.26 41.51h0M276.73 45.28h0M281.42 41.82h0M281.63 41.12h0M281.08 39.59h0M280.52 41.28h0M281.58 39.14h0M284.4 36.54h0M282.8 39.78h0M283.78 38.04h0M276.63 46.3h0M285.7 35.46h0M282.75 39.58h0" stroke="#E09090" stroke-opacity="0.35" stroke-width="1" stroke-linecap="round" fill="none"/>
<path d="M257.06 38.17h0M257.05 40.41h0M258.53 41.18h0M258.73 41.31h0M258.67 37.55h0M260.56 39.41h0M259.75 39.26h0M257.52 39.21h0M256.35 37.54h0M256.69 38.36h0M256.01 38.87h0M258.45 41.49h0M260.71 38.94h0M259.3 38.73h0M258.58 38.96h0M257.2 39.09h0M255.82 39.54h0M257.57 37.67h0M257.47 39.68h0M257 39.58h0" stroke="#a8a8a8" stroke-opacity="0.3" stroke-width="1.2" stroke-linecap="round" fill="none"/>
<rect x="250.6" y="31.5" width="40.2" height="40.2" fill="none" stroke="#484848" stroke-width="1"/>
<path d="M221.3 101.53h0M213.16 94.96h0M221.02 101.31h0M219.79 98.37h0M211.28 93.1h0M226.68 94.28h0M217.13 89.12h0M221.63 96.44h0M228.45 96.05h0M217.27 89.85h0M218.09 99.13h0M222.15 100.25h0M222.77 95.22h0M221.48 96.08h0M211.92 102.16h0M220.35 91.25h0M220.4 96.54h0M223.42 101.11h0M226.06 91.65h0M209.31 96.51h0M220.16 96.79h0M213.01 93.55h0M219.46 98.35h0M229.35 96.56h0M223.82 94.88h0M217.96 91.49h0M222.14 88.3h0M219.04 95.88h0M219.99 100.57h0M218.01 95.77h0M222.75 89.25h0M217.05 95.67h0M223.24 92.22h0M222.49 96.93h0M211.12 89.53h0M211.39 95.95h0M219.53 98.27h0M222.58 93.21h0M223.81 98.65h0M220.84 97.3h0M212.11 96.84h0M213.37 90.66h0M216.76 95.95h0M218.23 94.09h0M213.53 96.14h0M214.82 89.8h0M218.96 101.18h0M216.49 91.18h0M225.38 102.21h0M217.04 94.56h0M219.17 99.36h0M220.71 88.16h0M213.02 90.49h0M220.66 95.82h0M227.41 94.32h0M220.03 95.7h0M219.92 101.26h0M224.96 92.98h0M221.91 93.88h0M219.05 96.03h0M218.6 93.53h0M226.26 94.34h0M222 102.09h0M221.62 99.49h0M225.42 99.74h0M228.26 95.51h0M209.79 92.85h0M211.55 95.31h0M211.07 91.39h0M219.98 96.03h0M214.52 94.47h0M218.01 95.7h0M218.47 94.52h0M222.88 88.99h0M216.04 95.93h0M216.5 93.19h0M216.32 96.23h0M224.72 94.66h0M217.17 96.82h0M217.29 87.67h0M219.84 93.89h0M215.64 97.91h0M218.72 93.14h0M218.57 94.93h0M220.69 96.29h0M216.11 90.34h0M213.03 94.84h0M212.76 98.42h0M217.53 88.3h0M226.63 91.43h0M218.24 94.42h0M214.4 88.33h0M209.2 98.86h0M211.19 97.64h0M218.43 98.78h0M215.93 98.29h0M222.98 97.83h0M225.73 94.7h0M226.22 92.6h0M218.57 92.2h0M218.51 99.52h0M222.09 95.78h0M214.43 101.44h0M220.14 87.1h0M220.2 90.66h0M225.89 99.98h0M215.77 100.57h0M214.33 99.08h0M221.39 94.89h0M211.39 94.28h0M221.42 96.88h0M215.97 103.87h0M222.37 95.67h0M220.9 99.24h0M215.54 89.75h0M218.29 88.71h0M218.54 98.48h0M226.05 96.46h0M219.48 98.4h0M225.5 94.12h0M212.36 92.23h0M212.21 91.84h0M217.9 96.77h0M219.28 95.68h0M216.71 97.09h0M222.93 98.44h0M225.99 94.24h0M217.24 102.18h0M219.51 97.05h0M216.82 99.28h0M216.49 91.37h0M218.2 93.63h0M222.67 93.89h0M219.12 94.53h0M220.2 92.88h0M224.02 89.7h0M216.57 92.57h0M221.74 95.56h0M220.92 94.08h0M214.91 90.92h0M216.83 93.26h0M219.9 96.82h0M223.38 94.97h0M214.76 91.16h0M218.81 96.84h0M228.24 96.13h0M213.26 100.24h0M224.18 100.78h0M218.45 99.22h0M216.09 95.12h0M218.6 102.53h0M217.42 99.22h0M218.83 92.56h0M219.71 98.04h0M214.94 97.94h0M214.94 91.89h0M219.6 94.46h0M213.59 88.88h0M218.62 96.37h0M216.2 96.15h0M210.86 96.97h0M220.58 96.51h0M215.44 95.72h0M219.15 99.68h0M219.88 96.42h0M214.88 98.85h0M224.36 93.43h0M221.69 96.63h0M218.27 90.26h0M220.01 93.9h0M224.22 93.71h0M218.7 97.84h0M220.78 93.32h0M221.9 96.97h0M223.44 93.36h0M218.27 93.84h0M214.32 96.42h0M220.54 101.07h0M216.88 96.95h0M224.2 94.95h0M218.82 95.94h0M215.06 91.46h0M224.07 96.09h0M218.13 90.44h0M219.09 100.08h0M212.76 91.84h0M224.03 101.1h0M226.24 93.2h0M221.49 92.41h0M221.09 93.95h0M219.48 100.74h0M220.18 94.44h0M218.78 96.46h0M215.95 96.22h0M221.49 101.61h0M212.35 98.88h0M219.1 99.93h0M215.97 93.47h0M220.19 93.08h0M224.02 95.39h0M216.27 99.08h0M214.39 100.36h0M223.29 95.96h0M223.42 101.79h0M225.34 95.41h0M218.23 99.8h0M211.2 93.01h0M220.9 97.66h0M220.11 97.15h0M211.97 94.67h0M219.79 94.5h0M218.8 97.81h0M213.79 93.15h0M209.7 99.94h0M213.28 88.66h0M222.31 94.55h0M223.28 93.94h0M219.25 95.86h0M217.48 98.6h0M228.39 93.73h0M213.12 97.76h0M223.78 89.5h0M215.08 91.46h0M221.28 97.4h0M214.87 90.95h0M221.87 87.28h0M221.68 94.79h0M227.98 99.33h0M215.64 94.32h0M217.13 92.53h0M218.9 99.21h0M211.06 94.5h0M225.86 98.33h0M214.49 92.22h0M214.29 89.07h0M224.17 95.67h0M215.06 89.75h0M216.61 93.38h0M226.98 93.59h0M219.07 99.62h0M221.79 94.69h0M221.44 93.69h0M218.06 91.64h0M214.08 89.56h0M220.97 97.44h0M219.36 98.47h0M221.14 95.88h0M214.16 97.72h0M224.33 97.88h0M224.63 93.54h0M213.69 100.32h0M215.63 96.35h0M217.56 95.49h0M217.17 93.28h0M219.5 87.84h0M214.05 90.98h0M221.32 101.83h0M217.29 98.32h0M221.45 90.52h0M224.48 88.79h0" stroke="#a8a8a8" stroke-opacity="0.35" stroke-width="1.2" stroke-linecap="round" fill="none"/>
<path d="M228.96 97.64h0M237.04 99.98h0M230.95 95.46h0M231.9 99.61h0M234.72 106.23h0M234.75 99.49h0M230.83 107.24h0M232.39 99.32h0M234.01 98.87h0M228.7 104.62h0M229.5 104.1h0M228.05 99.91h0M233.27 100.11h0M232.53 101.27h0M226.56 93.97h0M230.85 108.23h0M230.95 94.87h0M228.6 99.57h0M236.7 96.63h0M233.97 100.31h0M229.93 94.78h0M230.83 95.87h0M233.86 90.79h0M236.46 103.11h0M234.04 106.72h0M234.15 91.05h0M231.73 101.6h0M228.5 93.88h0M233.4 101.9h0M229.63 98.22h0M229.27 96.63h0M231.25 104.64h0M224.43 97.74h0M238.59 100.95h0M232.18 103.48h0M227.1 93.5h0M224.22 92.29h0M232.59 103.54h0M229.67 96.09h0M233.27 102.39h0M232.63 90.12h0M232.57 95.26h0M228.62 106.72h0M237.3 101.75h0M232.71 100.24h0M228.93 99.15h0M239.88 95.14h0M228.6 100.19h0M235.41 103.46h0M227.27 98.77h0M230.34 93.4h0M231.84 97.06h0M235.53 101.51h0M228.08 99.79h0M229.94 96.31h0M229.37 104.58h0M229.69 91.06h0M228.11 103.33h0M229.94 97.8h0M225.34 101.35h0M231.28 100.76h0M234.97 103.46h0M228.72 96.52h0M238.32 102.88h0M232.13 94.08h0M235.37 101.97h0M235.02 100.7h0M231.77 96.72h0M232.85 100.59h0M234.35 104.68h0M232.87 96.76h0M235.03 106.95h0M227.85 101.44h0M233.9 102.01h0M233.71 98.96h0M231.06 107.6h0M239.08 92.59h0M228.55 96.89h0M224.53 101.12h0M231.26 96.78h0M237.95 105.11h0M229.7 102.6h0M231.34 105.02h0M234.05 99.23h0M233.92 95.91h0M234.97 106.71h0M229.92 102.1h0M224.22 103.95h0M235.34 94.44h0M239.12 99.96h0M223.94 92.75h0M235.32 98.08h0M236.33 91.87h0M231.07 104.15h0M228.54 102.71h0M229.93 101.07h0M226.09 103.19h0M237.24 93.94h0M230.46 91.1h0M232.83 95.87h0M229.05 95.34h0M232.79 97.14h0M227.55 98.3h0M233.28 95.24h0M236.36 91.34h0M233.28 97.51h0M238.38 96.28h0M228.6 92.88h0M240.18 102.4h0M226.76 97.77h0M227.31 106.8h0M233.33 89.51h0M232.42 103.85h0M231.51 101.7h0M231.02 100.42h0M232.43 95.96h0M233.02 100.2h0M231.33 96.08h0M227.07 100.6h0M229.16 105.98h0M235.5 95.94h0M237.41 94.61h0M228.05 108.83h0M229.59 98.35h0M224.29 94.49h0M226.36 98.73h0M223.47 104.57h0M229.94 96.46h0M228.73 103.02h0M238.21 97.42h0M237.37 100.85h0M224.98 102.68h0M229.71 100.35h0M223.25 98.03h0M232.52 94.84h0M232.79 107.54h0M232.51 96.07h0M227.47 101.39h0M232.64 103.44h0M228.02 106.54h0M233.69 105.2h0M224.81 99.39h0M237.28 99.4h0M232.3 96.35h0M236.31 96.01h0M232.04 89.35h0M231.76 100.45h0M221.87 99.24h0M229.17 98.38h0M225.98 92.78h0M226.08 102.53h0M231.29 103.41h0M226.76 102.28h0M229.56 99.84h0M235.6 99.56h0M229.96 91.27h0M231.78 103.23h0M228.72 99.08h0M223.72 92.88h0M233.27 105.74h0M230.13 91.22h0M229.83 91.75h0M230.29 108.85h0M232.82 98.65h0M236.07 97.54h0M232.96 100.38h0M233.47 92.2h0M234.63 103.72h0M227.55 106.71h0M231.59 102.73h0M233.95 103.76h0M228.68 96.53h0M233.16 102.39h0M234.04 101.07h0M229.36 104.83h0M233.58 104.63h0M228.56 99.99h0M229.39 97.87h0M232.35 101.1h0M228.04 102.07h0M227.76 101.51h0M229.87 94.75h0M236.68 107.57h0M231.04 99.15h0M235.75 92.85h0M227.63 104.99h0M235.5 96.97h0M228.05 101.13h0M225.25 96.94h0M234.13 103.18h0M236.24 92.29h0M225.79 95.37h0M227.15 97.85h0M232.42 101.66h0M237.96 94.01h0M235.42 100.14h0M226.28 100.15h0M225.25 107.43h0M228.25 104.39h0M237.3 96.34h0M227.5 100.05h0M226.82 103.86h0M232.28 95.61h0M228.44 103h0M227.99 98.43h0M227.37 107.47h0M235.18 105.87h0M234.42 99.85h0M239.08 102.7h0M233.45 102.27h0M234.79 100.79h0M230.75 91.46h0M228.8 100.72h0M231.39 89.51h0M230 100.85h0M236.76 93.41h0M232.98 99.8h0M232.17 100.14h0M229.86 92.59h0M233.54 101.33h0M234.09 105.62h0M227.39 101.39h0M231.43 103.04h0M230.74 96.42h0M232.6 102h0M227.14 105.98h0M236.66 101.62h0M231 98.22h0M224.11 102.68h0M227.11 96.89h0M235.98 94.8h0M229.15 103.69h0M239.86 95.95h0M236.47 96.13h0M233.25 101.82h0M226.38 104.53h0M239.6 99.66h0M232.71 93.54h0M239.54 99.72h0M225.76 103.22h0M224.92 95.97h0M228.56 96.51h0M228.96 102.17h0M238.06 94.36h0M233.48 90.39h0M238.36 98.96h0M228.35 107.05h0M231.02 106.25h0M236.33 107.68h0M227.9 99.68h0M233.16 98.43h0M238.35 95.83h0M236.01 106.22h0M222.71 94.55h0M227.43 96.67h0M233.26 98.53h0M231.86 97.1h0M231.13 101.82h0M234.85 95.49h0M230.99 95.59h0" stroke="#a8a8a8" stroke-opacity="0.35" stroke-width="1.2" stroke-linecap="round" fill="none"/>
<path d="M215.52 83.03h0M216.65 87.24h0M215.58 84.53h0M215.24 84.57h0M214.53 87.06h0M216.31 82.75h0M213.78 86.98h0M215.2 86.07h0M215.7 84.78h0M215.56 85.3h0M216.94 85.72h0M215.67 84.84h0M215.07 84.43h0M215.71 89.57h0M216.82 86.37h0M217.37 87.93h0M215.91 85.57h0M214.6 86.4h0M215.38 82.73h0M215.91 86.9h0M215.9 84.97h0M216.16 88.07h0M215.39 86.92h0M216.73 84.93h0M215.87 84.42h0M216.3 85.16h0M216.85 84.37h0M217.39 85.28h0M214.86 84.09h0M216.36 84.19h0" stroke="#a8a8a8" stroke-opacity="0.45" stroke-width="1.2" stroke-linecap="round" fill="none"/>
<path d="M234.88 88.9h0M233.85 90.22h0M230.46 92.41h0M235.44 94.04h0M232.07 90.95h0M234.41 92.5h0M231.72 92.01h0M233.7 93.41h0M230.86 90.53h0M232.94 91h0M235.27 90.41h0M235.5 93.54h0M235.73 91.21h0M232.32 91.12h0M235.16 91.83h0M235.01 92.69h0M232.22 89.82h0M236.64 90.68h0M232.32 89.83h0M235.74 89.45h0M232.25 93.59h0M234.15 91.71h0M232.68 91.18h0M232.95 91.56h0M235.37 89.18h0M236.76 91.46h0M233.87 91.49h0M235.81 92.21h0M235.52 91.28h0M233.67 91.49h0M230.36 93.67h0M230.9 89.71h0M235.17 91.7h0M235.44 94.84h0M233.47 95.49h0M232.23 91.44h0M235.79 91.19h0M233.67 90.93h0M236.32 93.61h0M233.76 92.67h0" stroke="#E8A0A0" stroke-opacity="0.45" stroke-width="1" stroke-linecap="round" fill="none"/>
<path d="M215.36 104.11h0M220.09 101.89h0M216.62 101.07h0M216.92 99.62h0M214.58 105.16h0M217.26 103.05h0M217.92 102.91h0M214.25 100.2h0M218.57 103.9h0M215.01 100.9h0M215.16 103.24h0M217.99 102.06h0M216 102.65h0M217.36 100.59h0M217.97 100.74h0M219.2 103.19h0M215.92 103.12h0M217.43 100.66h0M215.47 98.84h0M215.04 102.66h0M219.72 100.81h0M217.62 102.65h0M218.86 102.84h0M219.75 103.46h0M215.78 102.75h0M217.34 103.1h0M216.7 103.58h0M219.94 100.41h0M216.21 102.49h0M218.28 102.27h0M218.96 99.75h0M218.85 104.22h0M219.52 102.81h0M216.82 102.76h0M217.15 98.99h0M216.09 101.92h0M216.27 100.23h0M216.84 101.29h0M217.44 101.91h0M217.64 103.89h0M217.57 102.77h0M216.5 103.29h0M216.62 100.82h0M214.82 103.69h0M216.24 102.47h0M219.56 103.02h0M219.21 103.32h0M215.99 102.09h0M216.17 100.05h0M217.9 100.53h0M220.66 100.59h0M216.21 102.17h0M216.26 102.1h0M216.08 99.3h0M220.34 102.84h0M217.61 101.12h0M217.01 102.57h0M214.52 100.48h0M215.52 104.39h0M215.19 104.23h0M217.14 102.06h0M220 103.66h0M219.18 99.97h0M219.57 105.19h0M217.1 101.08h0M215.12 103.93h0M217.89 102.01h0M214.83 105.08h0M219.05 101.96h0M220.25 100.19h0M219.06 100.1h0M220.12 101.48h0M219.75 101.21h0M218.1 104.17h0M215.5 102.18h0M215.62 103.62h0M216.09 101.29h0M216.89 104.21h0M215.22 101.95h0M216.64 100.96h0M215.73 101.7h0M217.69 99.06h0M217.77 99.75h0M215.36 101.87h0M216.79 103.87h0M216.35 98.61h0M214.08 102.34h0M217.81 104.03h0M216.23 103.27h0M215.17 104.46h0M217.16 100.71h0M217.66 105.31h0M215.61 99.64h0M215.27 99.81h0M217.2 102.67h0M216.97 102.37h0M219.67 101.45h0M217.78 100.71h0M216.8 102.78h0M218.23 99.02h0M215.39 102.14h0M217.01 104.18h0M216.3 98.08h0M219.64 98.89h0M215.36 102.74h0M217.78 103.02h0M218.38 100.64h0M219.81 98.79h0M216.13 102.55h0M217.58 100.18h0M220.46 104.8h0M215.43 102.71h0M216.03 101.18h0M219.27 102.24h0M217.08 102.2h0M214.96 104.32h0M215.8 104.49h0M216.38 101.13h0M220.27 102.36h0M216.02 100.98h0M218.51 105.55h0M218.53 101.25h0M215.06 100.72h0M217.06 102.47h0M215.99 104.43h0M215.38 100.64h0M218.29 102.91h0M216.52 103.83h0M214.48 105.1h0M217.54 105.74h0M217.41 104.53h0M216.9 102.37h0M218.35 98.68h0M216.88 105.26h0M219.14 102.62h0M217.69 104.64h0M217.97 98.41h0M215.41 101.44h0M217.59 101.15h0M217.09 105.17h0M219.17 103.14h0M217.33 102.12h0M218.03 102.46h0M215.85 103.48h0M215.65 101.92h0M216.58 99.81h0M218.51 101.87h0M214.97 101.85h0M214.55 104.72h0M218.33 105.77h0M216.17 103.34h0M215.37 100.38h0M217.12 102.78h0M219.15 101.49h0M219.5 103.83h0M215.55 101.66h0M215.47 105.23h0M216.2 103.68h0M219.12 101.52h0M216.33 102.65h0M215.75 99.6h0M215.37 102.64h0M217.68 105.34h0M213.66 102.95h0M215 104.19h0M218.69 102.24h0M220.24 101.29h0M216.24 100.01h0M215.99 102.22h0M218.64 104.42h0M216.77 100.62h0M216.63 101.19h0M216.37 101.24h0M215.57 101.9h0M216.28 101.68h0M214.55 102.27h0M218.44 103.22h0M216.21 99.85h0M214.71 99.79h0M216.02 101.42h0M213.78 103.26h0M214.24 100.71h0M215.87 103.56h0M220.95 101.33h0M216.76 101.26h0M216.9 101.68h0M217.08 100.51h0M218.01 101.02h0M218.44 99.97h0M221.48 102.39h0M213.8 103.32h0M216.37 99.83h0M218.17 101.03h0M218.76 100.97h0M219.09 102.28h0M218.01 102.3h0M216.58 101.32h0M218.19 103.33h0M220.65 99.85h0M219.45 101.87h0M217.76 100.52h0M220.57 100.46h0M217.14 100.64h0M214.69 101.16h0M218.02 101.19h0M216.6 99.98h0M217.8 99.96h0M216.66 105.08h0M218.04 100.75h0M216.62 100.2h0M217.53 103.31h0M219.14 101.48h0M214.95 101.86h0M220.6 102.53h0M217.18 98.12h0M216.45 103.02h0M215.43 104.52h0M216.18 100.38h0M216.16 101.83h0M219.27 100.95h0M213.79 101.86h0M218.33 104.88h0M215.09 104.77h0M218.63 102.85h0M215.79 100.36h0M215.42 103.75h0M217.73 104h0M220.88 102.04h0M217.21 105.58h0M214.73 101.17h0M216.57 101.3h0M217.58 100.44h0M219.59 99.47h0M215.7 98.86h0M214.54 103.1h0M218.54 101.64h0M218.96 103.16h0M216.17 101.94h0M218.02 105.75h0M216.43 102.7h0M218.37 104.28h0M218.14 104.01h0M215.21 101.52h0M213.49 101.92h0M217.48 102.5h0M217.59 99.55h0M215.94 101.69h0M217.63 100.41h0M217.09 100.65h0M214.71 100.79h0M215.72 103.57h0M219.93 103.09h0M216.88 100.98h0M214.21 101.03h0M220.38 104.15h0M217.74 101.56h0M217.31 102.8h0M217.29 102.81h0M215.79 102.1h0M216.61 104.01h0" stroke="#E00A14" stroke-opacity="0.85" stroke-width="1.2" stroke-linecap="round" fill="none"/>
<circle cx="233.9" cy="91.6" r="1.1" fill="#6a3a3a"/>
<circle cx="236.3" cy="99.9" r="1" fill="#5a3a3a"/>
<rect x="204.5" y="76.4" width="40.2" height="40.2" fill="none" stroke="#484848" stroke-width="1"/>
<path d="M256.33 93.36h0M260.31 87.2h0M260.67 89.34h0M259.8 90.37h0M258.61 83.14h0M263 88.84h0M266.33 90.24h0M258.24 90.79h0M256.84 88.61h0M255.07 91.21h0M262.53 85.42h0M262.16 92.12h0M263.38 86.64h0M258.22 85.1h0M256.16 90h0M260.74 93.37h0M261.54 87.83h0M255.7 94.19h0M261.17 88.82h0M257.15 85.36h0M262.78 85.61h0M262.61 91.07h0M259.29 83.4h0M262.01 93.72h0M257.77 84.63h0M264.34 89.42h0M258.46 93.11h0M259.65 90.47h0M259.22 86.37h0M261.36 86.01h0M254.5 87.09h0M264.84 92.67h0M266.15 89.78h0M259.11 90.52h0M257.34 91.43h0M259.06 89.81h0M257.67 88.48h0M263.97 88.2h0M258.29 89.9h0M263.63 88.3h0M256.59 83.64h0M256 92.55h0M260.3 90.56h0M264.29 89.9h0M262.26 87.22h0M255.07 91.07h0M260.27 90.89h0M256.94 88.46h0M267.52 86.09h0M260.94 93.38h0M259.81 89.36h0M259.09 93.3h0M260.29 87.68h0M262.1 88.13h0M258.83 94.16h0M263.97 89.31h0M263.37 91.73h0M262.59 89.1h0M260.85 90.32h0M262.54 90.14h0M258.71 88.69h0M262.17 85.62h0M260.57 91.5h0M261.18 87.98h0M260.52 87.32h0M263.97 87.68h0M254.89 84.88h0M261.63 89.65h0M258.98 84.53h0M260.09 86.12h0M258.35 88.94h0M257.97 90h0M258.07 87.39h0M259.82 93.86h0M266 92.12h0M258.08 88.97h0M263.73 91.66h0M255.02 88.76h0M258.07 91.47h0M262.79 87.15h0M267.94 88.02h0M260.31 95.32h0M258.8 87.37h0M265.65 88.82h0M262.24 84.74h0M266.73 92.25h0M261.82 91.32h0M258.89 87.37h0M255.22 90.19h0M264.84 91.82h0" stroke="#a8a8a8" stroke-opacity="0.25" stroke-width="1.2" stroke-linecap="round" fill="none"/>
<path d="M272.75 93.96h0M266.45 89.63h0M271.8 92.79h0M272.98 91.84h0M266.58 93.39h0M267.69 88.91h0M267.52 90.55h0M265.78 91.25h0M275.52 91.55h0M273.51 92.28h0M270.98 90.99h0M269.35 88.84h0M275.74 90.8h0M271.61 91.18h0M270.53 89.91h0M268.32 94.39h0M271.64 88.27h0M272.52 89.63h0M270.58 93.55h0M267.4 91.76h0M268.76 93.3h0M272.73 95.35h0M270.72 96.71h0M266.36 96.24h0M268.7 94.08h0M269.17 92.62h0M266.46 93.27h0M276.54 92.75h0M269.53 92.45h0M272.04 92h0M269.59 92.9h0M274.06 94.47h0M265.99 91.09h0M269.67 94.25h0M272.92 91.99h0M276.89 92.09h0M274.42 95.48h0M275.07 92.87h0M271.57 89.17h0M263.5 91.13h0M272.06 94.71h0M269.25 94.66h0M271.58 95.69h0M264.15 90.67h0M266.32 90.21h0M275.25 90.46h0M266.76 91.59h0M272.63 91.45h0M272.12 93.61h0M266.46 89.77h0M275.21 90.9h0M265.93 93.24h0M269.79 90.44h0M273.35 94.39h0M270.56 90.82h0M266.61 88.05h0M270.91 93.27h0M266.45 92.49h0M263.75 93.74h0M268.14 91.38h0M271.73 92.15h0M273.01 93.54h0M273.58 92.69h0M263.76 94.66h0M270.46 89.46h0M269.83 94.31h0M266.1 92.52h0M267.07 90.28h0M267.48 95.16h0M271.95 92.37h0M269.32 92.7h0M270.58 92.82h0M263.71 94.39h0M272.01 89.85h0M269.11 92.23h0M267.57 93.57h0M268.66 91.83h0M266.32 91.83h0M266.04 92.52h0M274.15 94.58h0M271.07 89.51h0M273.13 94.42h0M269.66 91.71h0M273.34 90.1h0M273.02 88.16h0M269.67 95.35h0M267.48 93.7h0M269.94 89.29h0M267.45 94.85h0M273.68 91.13h0" stroke="#EAA0A0" stroke-opacity="0.4" stroke-width="1" stroke-linecap="round" fill="none"/>
<path d="M273.16 99h0M270.23 100.77h0M265.23 101.65h0M266.63 98.65h0M266.61 98.31h0M272.38 101.01h0M270.25 100.14h0M269.61 100.15h0M265.76 96.91h0M269.65 103.44h0M270.18 104.97h0M264.84 100.14h0M267.34 103.99h0M275.07 99.48h0M271.85 100.19h0M266.06 100.53h0M265.92 104.81h0M271.37 103.88h0M272.08 101.05h0M272.78 105.22h0M265.98 102.85h0M270.51 100.37h0M268.45 102.18h0M271.33 102.51h0M268.04 97.41h0M273.81 104.16h0M267.51 100.73h0M272.1 96.28h0M270.31 98.99h0M276.23 100.83h0M270.11 99.71h0M270 96.17h0M265.11 97h0M272.42 100.57h0M267.4 104.57h0M266.75 95.99h0M266.91 99.92h0M269.36 104.18h0M273.84 104.82h0M271.34 99.51h0M267.74 96.98h0M273.66 104.05h0M269.7 98.5h0M271.66 102.07h0M269.92 97.8h0M270.2 99.34h0M271.87 102.35h0M270.87 99.7h0M274.49 102.81h0M273.64 102.98h0M271.62 101.82h0M265.83 96.1h0M266.27 102.39h0M272.44 101.28h0M269.7 105.55h0M268.07 96.19h0M264.23 99.97h0M271.74 102.71h0M268.66 102.92h0M269.24 98.93h0M268.14 102.76h0M272.58 97.9h0M266.1 101.12h0M265.22 101.89h0M271.1 99.22h0M269.31 102.06h0M263.58 100.74h0M271.4 103.19h0M273.29 100.62h0M264.59 104.28h0M271.97 99.16h0M272.85 103.49h0M267.84 98.84h0M266.61 100.59h0M265.8 101.81h0M275.7 97.72h0M272.87 99.43h0M271.21 100.47h0M273.68 98.96h0M271.84 98.8h0M270.16 100.77h0M273.03 96.72h0M264.91 104.4h0M270.69 105.19h0M265.97 101.35h0M271.41 105.37h0M269.22 99.64h0M271.78 100.54h0M266.91 102.77h0M263.06 98.18h0M273.93 99.51h0M268.32 101.76h0M273.13 102.17h0M266.19 99.33h0M272.89 100.49h0M267.3 103.06h0M265.82 98.97h0M267.1 101.72h0M267.82 103.69h0M267.26 100.09h0M271.29 101.33h0M266.04 104.69h0M271.32 99.53h0M270.09 97.94h0M265.32 100.02h0M270.61 101.06h0M266.83 97.21h0M270.63 98.73h0M273.34 102.2h0M268.03 99.21h0M273.18 101.65h0M274.83 101.74h0M267.46 99.25h0M267.07 101.46h0M270.24 102.37h0M270.9 98.08h0M268.72 98.36h0M271 97.39h0M267.47 98.58h0M267.35 100.14h0M274.41 100.14h0M264.65 100.02h0M271.88 102.23h0M270.19 105.96h0M273.08 101.04h0M273.43 97.33h0M268.84 98.56h0M269.99 104.99h0M267.76 104.93h0M266.02 104.49h0M263.8 98.6h0M272.7 100.56h0M269.88 100.77h0M270 100.34h0M266.16 100.05h0M269.77 98.47h0M270.94 105.37h0M263.98 99.39h0M268.47 100.85h0M269.72 98.92h0M269.29 100.82h0M269.12 104.79h0M269.83 96.97h0M264.22 102.33h0M268.27 99.2h0M264.92 100h0M269.1 99.02h0M268.24 103.1h0M271.99 102.22h0M268.83 97.28h0M271.97 104.68h0M273.61 103.82h0M270.32 101.77h0M269.36 104.05h0M268.51 106.36h0M271.97 99.97h0M269.4 96.64h0M266.98 100.02h0M272.43 101h0M268.42 102.42h0M262.82 103.25h0M275.79 101.57h0M269.2 101.22h0M271.59 99.53h0M269.8 102.11h0M268.25 101.81h0M270.5 102.65h0M266.14 99.41h0M267.99 103.9h0M270.22 96.52h0M270.52 97.45h0M266.4 101.17h0M274.11 105h0M268.2 100.03h0M275.74 98.26h0M274.56 101.68h0M269.71 104.13h0M270.99 98.63h0M264.37 100.84h0M271.09 104.34h0M271.44 104.73h0M272.03 101.35h0M270.83 101.83h0M267.33 100.5h0M269.82 99.63h0M264.56 97.06h0M271.07 102.15h0M269.76 97.77h0M272.21 99.79h0M271.16 99.66h0M274.29 104.33h0M270.26 96.36h0M268.14 100.07h0M270.93 100.48h0M270.54 96.57h0M267.28 104.54h0M264.6 103.2h0M264.82 104.03h0M263.28 101.68h0M268.05 104.02h0M273.29 101.29h0M275.32 103.35h0M267.82 98.25h0M270.76 100.5h0M267.84 96.63h0M268.92 100.5h0M272.64 99.46h0M264.24 98.01h0M269.27 101.45h0M271.79 99.81h0M271.18 101.17h0M274.98 100.66h0M269.88 102.27h0M273.42 98.41h0M267.84 100.09h0M272.94 100.86h0M272.39 97.12h0M274.46 101.89h0M265.45 100.94h0M271.89 103.36h0M269.98 99.44h0M271.93 98.82h0M269.15 102.79h0M264.65 101.78h0M262.93 98.39h0M265.33 100.57h0M271.76 100.67h0M272.42 101.05h0M268.72 102.08h0M268.61 101.15h0M272.84 99.32h0M273.21 97.92h0M268.68 96.28h0M267.65 104.94h0M270.58 104.11h0M264.55 98.17h0M270.94 102.96h0M272.16 96.44h0M271.09 100.61h0M269.8 102.04h0M268.48 96.39h0M265.87 97.03h0M265.05 100.45h0M273.72 98.94h0M266.88 97.81h0M263.69 100.97h0M267.8 100.18h0M266.22 102.07h0M265.43 102.23h0M267.21 102.85h0M266.46 101.95h0M270.86 100.59h0M274.81 101.26h0M266.46 102.6h0M266.67 99.39h0M269.44 101.27h0M268.55 103.74h0M268.87 101.64h0M274.45 97.59h0M269.55 102.87h0M267.46 96.23h0M266.09 101.31h0M270.03 105.61h0M273.8 96.77h0M272.84 103.19h0M274.77 100.4h0M267.56 101.18h0M274.52 102.43h0M275.02 102.85h0M267.45 98.16h0M268.24 99.97h0M266.38 99.31h0M269.19 99.43h0M269.81 103.25h0M266.7 99.74h0M263.61 102.63h0M271.66 104.72h0M272.29 100.08h0M268.1 99.99h0M265.38 102.81h0M267.39 98.91h0M271.11 101.09h0M267.47 100.19h0M267.77 104.32h0M272.72 98.9h0M269.27 104.38h0M268.45 105.45h0M270.88 102.55h0M262.52 103.02h0M270.53 102.32h0M271 102.18h0M267.72 103.15h0M269.61 98.06h0M266.03 101.22h0M270.51 95.03h0M264.32 100.15h0M267.41 102.26h0M274.07 105.02h0M266.05 104.03h0M265.37 101.61h0M269.97 102.42h0M266.75 104.3h0M269.17 100.75h0M268.52 98.01h0M271.79 101.68h0M270.91 105.68h0M266.52 100.06h0M269.43 103.04h0M268.81 103.25h0M270.92 96.2h0M267.14 95.48h0M268.45 99.71h0M271.36 101.25h0M269.19 104.11h0M271.37 97.58h0M267.11 101.66h0M275.05 100.28h0M268.83 101.5h0M272 100.56h0M270.38 99.7h0M267.57 98.72h0M271.59 99.34h0M271.23 101.86h0M266.19 97.6h0M268.86 102.91h0M273.91 101.8h0M268.12 102.2h0M269.43 102.42h0M265.98 97.93h0M267.27 100.69h0M270.56 99.87h0M270.56 102.58h0M265.55 100.53h0M264.23 99.36h0M272.41 98.93h0M275.59 102.13h0M272.35 101.07h0M272.27 103.67h0M269.76 99.41h0M267.57 105.87h0" stroke="#F0141E" stroke-opacity="0.65" stroke-width="1.2" stroke-linecap="round" fill="none"/>
<path d="M269.02 100.44h0M267.95 98.42h0M268.38 101.74h0M268.4 99.95h0M270.24 101.96h0M268.5 101.71h0M267.4 102.62h0M267.38 100.64h0M269.68 100.51h0M269.65 99.1h0M270.04 99.05h0M270.59 102.08h0M272.91 103.19h0M268.46 102.76h0M268.46 101.01h0M268.37 98.29h0M270.64 97.84h0M268.92 102.07h0M269.63 98.59h0M268.07 102.33h0M271.66 103.84h0M265.68 101.96h0M268.41 102.46h0M265.94 100.97h0M270.85 100.13h0M268.66 99.58h0M271.69 99h0M267.53 100.65h0M268.75 104.7h0M269.96 99.82h0M270.59 101.77h0M269.98 101.09h0M270.35 99.26h0M266.93 100.5h0M267.13 102.36h0M270.32 101.76h0M267.99 99.05h0M270.53 98.75h0M270.02 100.97h0M270.94 101.28h0M269.62 100.24h0M265.87 100.63h0M270.83 102.93h0M272.23 99.55h0M267.48 102.36h0M270.05 98.69h0M268.26 103.8h0M265.66 101.45h0M266.55 103.85h0M268.48 99.49h0M265.89 100.02h0M273.88 101.36h0M268.86 99.28h0M270.1 100.42h0M267.66 103.49h0M270.3 99.73h0M272.44 101.11h0M270.43 101.44h0M271.82 102.22h0M268.69 102.39h0M268.6 101.42h0M272.77 99.44h0M267.28 100.54h0M268.38 103.36h0M272.65 100.45h0M269.78 100.6h0M270.78 102.3h0M270.94 102.47h0M273.37 100.92h0M270.84 100.89h0M269.48 101.56h0M269.29 101.77h0M267.65 100.95h0M268.16 99.26h0M267.95 100.38h0M269.09 98.61h0M268.87 99.33h0M267.72 101.51h0M271.68 101.67h0M268.4 100.47h0M272.15 98.51h0M271.74 98.71h0M268.1 101.28h0M268.95 103.96h0M270.42 101.12h0M271.36 101.26h0M267.75 103.06h0M272.48 103.32h0M266.99 104.36h0M268.54 102.47h0M266.08 99.51h0M271.82 102.02h0M270.31 100.89h0M269.39 101.59h0M270.95 100.76h0M267.56 100.6h0M273.46 100.06h0M269.24 104.35h0M271.56 101.4h0M270.91 100.75h0M267.54 102.86h0M269.68 103.86h0M268.86 100.58h0M270.11 100.88h0M268.76 99.71h0M269.92 101.74h0M273.17 101.16h0M265.79 101.97h0M267.75 100.92h0M269.01 98.69h0M270.59 99.75h0M265.59 100h0M270.71 104.39h0M271.98 101.52h0M268.35 100.77h0M271.39 100.34h0M270.26 102.81h0M267.53 100.22h0M270.32 101.21h0M269.14 100.32h0" stroke="#E8101A" stroke-opacity="0.7" stroke-width="1.2" stroke-linecap="round" fill="none"/>
<rect x="250.6" y="76.4" width="40.2" height="40.2" fill="none" stroke="#484848" stroke-width="1"/>
<path d="M216.87 149.57h0M233.47 137.38h0M222.02 141.58h0M225.76 134.59h0M220.92 141.32h0M217.52 140.48h0M221.54 143.14h0M222.29 138.35h0M220.2 146.66h0M227.04 143.27h0M216.75 144.65h0M222.63 146.76h0M222.73 136.12h0M224.62 138.6h0M225.98 148.42h0M226.49 149.82h0M221.67 135.54h0M224.61 148.65h0M225.3 135.72h0M213.09 137.77h0M219.31 135.36h0M221.68 147.27h0M212.62 131.76h0M229.1 144.62h0M218.51 143.01h0M219.03 131.87h0M218.08 148.45h0M227.48 143.96h0M228.51 142.04h0M219.98 129.62h0M221.13 146.05h0M224.1 141.92h0M217.03 144.97h0M225.47 134.06h0M231.06 141.97h0M224.1 142.17h0M227.04 145.27h0M228.06 145.61h0M220.83 137.24h0M227.65 139h0M227.62 142.6h0M219.26 134.14h0M216.65 148.94h0M226.1 143.36h0M212.2 147.35h0M220.51 140.18h0M216.27 146.06h0M224.13 139.36h0M225.58 136.82h0M216.75 137.14h0M225.31 133.12h0M222.38 142.51h0M229.44 136.88h0M220.43 136.17h0M221.03 140.22h0M217.21 143.27h0M233.03 140.43h0M227.63 144.25h0M226.01 149.69h0M229.86 135h0M224.01 139.03h0M224.32 142.5h0M231.8 136.5h0M218.2 138.46h0M224.77 140.03h0M221.7 141.18h0M227.94 143.55h0M228.01 133.11h0M224.46 141.75h0M223.9 137.55h0M217.58 143.7h0M224 141.93h0M218.82 140.57h0M228.47 144.42h0M223.07 134.34h0M224.91 136.95h0M211.99 140.89h0M223.91 129.51h0M213.35 147.61h0M224.85 134.41h0M214.19 141.16h0M223.64 143.21h0M219.69 142.72h0M229.05 147.85h0M224.74 133.89h0M220.34 149.74h0M228.75 136.95h0M219.63 147.71h0M217.29 141.47h0M224.29 152.33h0M222.2 145.44h0M220.14 139.86h0M216.68 145.49h0M216.85 134.01h0M216.08 132.16h0M221.8 141.06h0M232.22 145.23h0M222.95 143.7h0M219.59 148.72h0M222.36 142.12h0M221.38 140.69h0M219.11 145.56h0M221.93 141.38h0M219.78 144.46h0M217.01 144.07h0M217.11 142.61h0M231.77 147.77h0M224.59 135.13h0M225.96 143.25h0M228.62 140.57h0M220.12 151.13h0M225.02 140.63h0M214.98 137.11h0M224.01 145.79h0M218.62 132.81h0M219.37 133.26h0M219.82 141.45h0M231.89 147.62h0M234.16 137.43h0M228.27 149.36h0M222.24 146.23h0M220.37 151.93h0M230.88 135.1h0M218.11 147.05h0M221.85 136.87h0M219.32 141.49h0M224.62 138.6h0M223.3 145.53h0M219.93 132.98h0M212.18 133.74h0M223.87 137.72h0M219.08 138.58h0M220.67 143.8h0M225.37 145.55h0M230.58 139.7h0M224.31 144.57h0M218.11 134.69h0M224.21 142.67h0M216.63 134.65h0M228.07 149.53h0M218.93 147.67h0M217.53 137.5h0M228.07 142.24h0M214.42 140.48h0M226.09 135.5h0M224.06 133.38h0M224.08 137.77h0M217.82 135.9h0M218.56 149.97h0M219.48 149.32h0M216.04 138.19h0M223.71 132.24h0M225.29 138.13h0M221.58 134.36h0M228.61 142.12h0M220.74 141.43h0M214.75 138.48h0M219.91 142.62h0M219.81 140.04h0M222.29 147.14h0M215.73 143.6h0M217.15 137.18h0M222.33 142.08h0M218.59 144.86h0M214.25 146.12h0M212.03 136.03h0M224.88 142.68h0M221 146.24h0M216.1 141.43h0M228.37 143.04h0M220.13 133.42h0M226.43 138.44h0M215.67 135.77h0M228.51 148.77h0M213.78 142.92h0M217.45 142.21h0M226.22 140.55h0M218.15 146.07h0M224.86 142.19h0M219.85 150.65h0M225.81 146.03h0M227.86 134.52h0M224 139.08h0M227.55 140.27h0M227.17 137.31h0M228.75 140.18h0M220.34 143.67h0M220.23 140.08h0M223.14 152.58h0M214.57 131.35h0M223.21 147.49h0M219.18 140.05h0M224.02 134.73h0M216.91 130.32h0M230.08 143h0M230.9 149.82h0M222.4 145.21h0M223.89 147.73h0M218.16 135.45h0M218.76 139.88h0M223.85 134.38h0M213.58 147.47h0M224.16 141.95h0M215.56 141.89h0M217.28 148.75h0M225.29 140.87h0M228.45 140.11h0M225.01 146.88h0M212.94 134.84h0M221.77 145.55h0M222.88 141.39h0M220.88 138.59h0M224.79 135.94h0M226.33 141.35h0M226.15 140.13h0M223.9 142.82h0M225.63 145.84h0M227.49 142.97h0M222.38 139.59h0M215.53 136.69h0M225.89 147.89h0M216.61 139.91h0M229.61 136.75h0M223.03 143.6h0M225.39 144.44h0M233.78 144.99h0M225.61 150.79h0M225.45 135.81h0M229.51 144.87h0M223.57 144.82h0M224.53 148.65h0M217.96 130.09h0M222.74 141.46h0M226.57 142.66h0M215.75 150.12h0M226.43 150.58h0M229.67 140.32h0M221.72 140.42h0M218.33 133.63h0M226.03 135.7h0M223.71 144.85h0M221.6 138.69h0M224.02 145.07h0M227.16 136.27h0M219.41 137.33h0M214.19 131.8h0M215.96 142.62h0M221.04 137.45h0M218.94 136.61h0M212.76 137.6h0M228.08 145.27h0M215.81 145.42h0M227.32 137.55h0M220.48 136.4h0M218.61 146.63h0M218.56 138.22h0M225.7 135.68h0M217.83 142.5h0M232.99 135.46h0M226.59 141.71h0M227.38 147.77h0M231.87 148.3h0M222.01 135.88h0M212.81 139.39h0M222.67 146.41h0M227.78 134.94h0M220.43 138.65h0M220.88 145.11h0M228.95 146.55h0M214.89 138.58h0M217.91 145.63h0M229.03 142.04h0M227.09 143.86h0M220.98 148.74h0M215.95 137.28h0M232.32 141.94h0M222.82 142.27h0M223.13 133.57h0M220.82 134.32h0M227.22 145.38h0M228.88 137.45h0M224.35 143.17h0M229.55 140.69h0M222.85 149.9h0M234.18 141.94h0M219.7 130.75h0M225.68 146.67h0M226.09 137.91h0M224.65 152.31h0M222.12 140.33h0M227.14 146.92h0M230.33 143.07h0M224.71 140.41h0M219.68 137.91h0M219.16 142.55h0M220.17 140.44h0M220.79 132.81h0M232.29 140.58h0M229.4 150.82h0M219.69 139.87h0M222.6 137.62h0M229.12 144.11h0M228.99 140.61h0M214.82 145.27h0M223.31 134.98h0M218.37 145.48h0M222.98 137.13h0M222.91 147.53h0M221.71 138.89h0M216.48 148.7h0M220.15 142.49h0M210.51 135.82h0M223.11 139.67h0M223.31 133.36h0M213.51 137.39h0M218.77 138.69h0M222.34 138.08h0M213.27 147.62h0M217.34 135.34h0M223.38 134.69h0M214.59 142.24h0M226.71 144.39h0M230.79 140.81h0M223.53 152.17h0M215.3 148.42h0M220.57 133.27h0M223.84 137.07h0M228.31 137.68h0M227.51 132.03h0M219.13 145.87h0M219.78 141.7h0M230.75 139.06h0M214.92 137.63h0M224.21 140.57h0M213.64 143.87h0M216.39 136.34h0M219.92 144.31h0M221.71 135.82h0M235.09 142.98h0M226.73 142.65h0M219.55 139.39h0M219.83 141.72h0M224.91 136.65h0M230.36 149.5h0M224.06 140.27h0M230.69 143.01h0M215.79 141.85h0M218.82 134.43h0M233.99 137.73h0M221.36 141.38h0M227.17 134.92h0M221.65 138.77h0M229.84 151.43h0M215.68 142.9h0M225.85 142.42h0M221.41 139h0M215.29 133.48h0M223.37 150.59h0M233.03 144.73h0M223.81 134.27h0M230.74 135.64h0M219.23 132.73h0M222.01 146.13h0M212.4 146.79h0M225.04 137.57h0M223.95 141.98h0M225.64 145.1h0M216.54 142.84h0M228.72 138.56h0M220.04 135h0M217.68 146.18h0M218.81 139.72h0M223.46 147.72h0M226.43 137.06h0M225.23 152.66h0M228.56 147.12h0M222.96 145.39h0M211.8 140.4h0M215.67 140.13h0M214.72 141.4h0M221.76 143.98h0M217.87 136.99h0M222.46 139.5h0M221.92 135.62h0M227.14 141.47h0M216.68 140.34h0M218.09 137.8h0M221.64 135.16h0M222.93 136.48h0M214.35 138.98h0M224.19 133.26h0M219.42 140.74h0M223.39 144.05h0M221.87 144.58h0M221.42 135.81h0M226.41 140.91h0M220.42 144.12h0M223.97 149.55h0M219.27 137.25h0M228.72 135.94h0M213.67 140.17h0M221.09 134.88h0M225.01 145.9h0M227.85 142.18h0M221.35 138.58h0M228.86 132.36h0M216.48 142.31h0M217.99 138.42h0M221.38 143.84h0M222.38 134.31h0M223.14 140.44h0M229.92 139.15h0M219.64 135.13h0M218.59 140.74h0M218.43 137.56h0M226.3 152.13h0M214.44 131.08h0M216.71 146.02h0M215.37 149.02h0M220.33 148.84h0M218.21 137.05h0M226.08 146.72h0M212.68 134.24h0M221.4 144.51h0M214.16 147.33h0M219.15 148.28h0M224.01 142.62h0M223.32 134.63h0M224.77 147.13h0M228.05 142.02h0M217.6 136.3h0M220.39 140.06h0M229.68 139.66h0M217.66 142.83h0M227.06 138.62h0M218.47 134.28h0M221.79 142.43h0M223.26 137.97h0M221.26 140.13h0M225.04 143.17h0M220.68 133.18h0M230.26 145h0M221.18 140.41h0M228.93 142.89h0M223.61 140.45h0M227.76 138.02h0M220.53 146.45h0M226.86 147.41h0M219.62 149.27h0M222.29 149.67h0M218.4 132.38h0M227.04 142.15h0M222.16 135.33h0M233.1 139.83h0M226.19 134.84h0M215.39 151.04h0M212.47 145.7h0M222.01 130.19h0M226.69 137.03h0M211.39 142.04h0M220.86 133.93h0M223.46 140.66h0M227.86 144.79h0M227.72 151.04h0M228.78 151.52h0M221.06 143.81h0M226.16 133.85h0M213.86 141.06h0M215.33 136.99h0M215.87 139.18h0M222.21 138.28h0M225.77 135.24h0M219.54 141.92h0M225.91 147.41h0M233.64 138.76h0M221.7 150.36h0M227.03 137.04h0M225.54 139.8h0M215.9 144.14h0M223.97 135.31h0M213.44 148.24h0M215.82 141.73h0M220.05 147.04h0M222.99 135.83h0M221.26 134.38h0M217.15 146h0M226.07 142.13h0M224.72 144.15h0M223.91 152.07h0M220.49 139.97h0M217.99 146.24h0M222.14 145.84h0M228.52 140.73h0M219.24 147.9h0M224.97 147.56h0M221.5 138.56h0M218.18 137.29h0M225.39 134.19h0M230.26 140.9h0M221.89 144.61h0M223.74 131h0M226.21 145.79h0M217.84 145.61h0M229.31 139.23h0M226.14 132.61h0M217.08 146.88h0M215.49 142.46h0M214.76 135.27h0M222.75 151.84h0M222.58 145.92h0M221.77 142.47h0M223.81 138.28h0M222.32 140.43h0M223.93 146.2h0M225.83 146.67h0M213.34 144.72h0M225.21 139.56h0M234.88 141.44h0M217.12 135.29h0M222.29 145.99h0M220.97 144.5h0M219.87 136.19h0M226.21 135.17h0M224.09 139.77h0M228.32 138.34h0M220.7 136.88h0M222.68 135.34h0M224.14 134h0M223.23 145.76h0M222.49 140.14h0M219.78 133.99h0M223.22 136.21h0M215.39 138.42h0M223.02 139.12h0M217.89 138.44h0M219.49 137.04h0M221.24 144.96h0M227.66 140.43h0M231.47 139.18h0M217.85 146.64h0M221.12 138.27h0M216 136.85h0M221.75 136.31h0M230.44 140.91h0M228.95 149.9h0M226.99 140.18h0M224.46 130.28h0M224.23 140.6h0M225.85 139.06h0M228.48 135.5h0M209.24 136.92h0M229.8 143.16h0M225.14 133.42h0M214.96 141.48h0M218.27 138.75h0M216.19 149.89h0M230.17 137.49h0M222.45 134.31h0M216.45 133.85h0M227.8 144.48h0M225.99 142.38h0M219.63 140.21h0M216.77 149.82h0M230.65 148.02h0M230.35 133.51h0M215.76 142.54h0M229.56 142.74h0M222.04 138.27h0M226.24 143.46h0M227.02 150.94h0M221.99 137.31h0M223.07 136.26h0M220.03 139.5h0M230.82 136.25h0M216.63 133.39h0M219.3 142.29h0M214.05 145.82h0M219.83 138.51h0M219.37 146.67h0M223.58 142.04h0M218.77 140.27h0M225.1 140.58h0M226.65 132.39h0M216.24 145.03h0M229.77 144.81h0M217.32 144.54h0M215.3 145.68h0M230.91 139.42h0M223.98 134.74h0M224.55 139.97h0M216.82 131.81h0M227.25 134.63h0M226.63 146.27h0M217.53 147.08h0M215.42 141.58h0M215.73 135.6h0M226.81 140.38h0M219.79 143.75h0M226.78 151.53h0M225.15 141.15h0M210.02 144.9h0M226.77 143.35h0M224.99 144.56h0M221.04 140.46h0M218.88 146.38h0M222.07 137.73h0M223.86 145.94h0M223.63 143.62h0M226.99 150.51h0M223.71 140.66h0M230.33 134.18h0M221.11 136.21h0M223.95 139.73h0M222.86 139.53h0M226.43 148.47h0M223.84 149.37h0M221.83 136.89h0M217.99 139.44h0M230.04 138.99h0M222.66 133.22h0M230.55 150.55h0M226.33 135.95h0M218.27 135.03h0M225.48 135.17h0M217.72 146.1h0M221.87 141.53h0M211.7 133.72h0M223.06 137.36h0M214.93 136.71h0M218.05 135.52h0M213.88 136h0M229 139.7h0M227.65 134.84h0M223.71 145.25h0M217.73 144.07h0M217.3 138.72h0M230.98 145.77h0M213.17 143.21h0M225.59 141.27h0M210.22 143.63h0M225.78 137.87h0M224.36 151.24h0M216.37 140.87h0M212.42 138.04h0M223.98 138.21h0M221.33 141.18h0M221.24 146.03h0M222.06 147.43h0M224.57 149.12h0M217.44 141.01h0M222.25 135.99h0M231.6 148.03h0M227.7 131.26h0M218.85 144h0M222.38 137.88h0M230.61 143.8h0M220.55 139.6h0M218.1 145.3h0M225.22 142.34h0M220.73 138.93h0M231.73 144.45h0M229.54 135.49h0M221.97 145.19h0M227.92 146.17h0M224.26 144.21h0M225.2 137.77h0M225.46 142.22h0M223.42 146.52h0M223.98 139.4h0M226.87 136.04h0M225.77 137.64h0M224.1 142.9h0M224 134.74h0M224.06 137.97h0M219.52 143.89h0M230.37 137.7h0M223.46 150.13h0M227.25 145.56h0M217.1 148.97h0M224.3 132.93h0M221.79 142.64h0M219.75 132.33h0M232.16 147.25h0M227.65 140.52h0M214.55 135.85h0M230.81 141.73h0M213.1 135.08h0M220.54 140.31h0M217.38 136.58h0M216.93 143.63h0M220.61 145.57h0M227.28 130.84h0M210.41 137.95h0M224.4 147.67h0M226.26 132.41h0M218.43 141.52h0M230.17 143.37h0M221.1 135.77h0M225.17 148.04h0M209.36 141.52h0M221.01 131.46h0M215.56 133.04h0M217.26 134.3h0M221.82 143.44h0M223.63 132.2h0M221.65 136.65h0M212.28 136.58h0M227.6 149.82h0M229.35 145.74h0M220.12 139.45h0M212.98 140.61h0M224.26 140.38h0M212.53 135.15h0M226.87 152.53h0M227.56 141.89h0M221.36 144.05h0M220.39 146.53h0M213.09 140.2h0M227.71 144.13h0M224.69 142.95h0M224.19 139.31h0M216.87 145.49h0M220.76 140.07h0M225.8 149.1h0M219.35 141.11h0M216.41 138.76h0M223.72 141.93h0M221.98 143.22h0M223.73 138.93h0M217.61 137.15h0M231.09 144.57h0M219.88 136.91h0M214.57 139.91h0M214.54 142.51h0M225.36 146.35h0M227.74 143.61h0M212.99 135.69h0M229.4 135.58h0M212.82 142.7h0M220.89 148.65h0M225.4 143.27h0M222.13 146.27h0M222.46 139.97h0M224.53 140.45h0M217.43 130.59h0M228.61 142.13h0M223.45 140.48h0M227.27 134.99h0M224 138.58h0M226.18 147.09h0M217.93 132.85h0M221.98 148.31h0M226.5 142.53h0M221.76 134.89h0M215.18 140.73h0M222.8 143.18h0M219.77 143.59h0M227.67 140.59h0M229.4 139.35h0M234.73 139.97h0M223.35 135.1h0M218.88 147.37h0M213.52 147.26h0M228.53 146.93h0M216.63 143.61h0M227.25 143.63h0M215.59 136.18h0M220.73 150.77h0M212.34 136.69h0M230.5 141.51h0M222.79 133.99h0M223.99 147.18h0M224.56 143.91h0M227.64 143.33h0M223.76 146.99h0M227.64 147.24h0M220.69 144.63h0M230.3 146.38h0M217.99 135.24h0M221.09 140.95h0M215.44 143.54h0M212.01 145.76h0M229.98 135.01h0M215.4 137.77h0M224.62 139.82h0M221.72 141.85h0M215.82 138h0M214.95 141.24h0M226.55 149.91h0M218.89 138.85h0M223.7 140.64h0M221.4 147.35h0M225.02 142.59h0M216.35 148.95h0M225.79 143.61h0M213.33 147.58h0M226.21 148.92h0M223.41 139.87h0M217.98 139.27h0M223.59 145.11h0" stroke="#a8a8a8" stroke-opacity="0.38" stroke-width="1.2" stroke-linecap="round" fill="none" filter="url(#b4)"/>
<path d="M215.85 126.05h0M216.7 128.9h0M216.04 126.3h0M216.26 129.11h0M216.63 129.97h0M214.75 126.98h0M216.23 126.18h0M215.27 130.05h0M216.38 127.85h0M215.32 128.07h0M215.98 126.41h0M216.99 126.11h0M217.59 127.5h0M216.37 126.71h0M217.68 127.1h0M217.62 127.35h0M215.96 125.98h0M216.09 128.6h0M215.94 126.36h0M217.13 129.35h0M215.91 129.16h0M217.24 126.54h0M215.97 125.24h0M214.74 128.64h0M214.93 128.58h0M216.46 124.93h0M215.41 130.26h0M216.03 128.18h0M215.14 125.62h0M215.79 126.7h0" stroke="#a8a8a8" stroke-opacity="0.35" stroke-width="1.2" stroke-linecap="round" fill="none" filter="url(#b4)"/>
<path d="M227.21 136.86h0M220.06 141.9h0M218.59 143.22h0M220.49 140.29h0M227.81 146.93h0M224.8 137.19h0M215.29 142.78h0M225.47 143.8h0M228.24 145.67h0M220.87 140.65h0M223.19 142.28h0M225.05 142.35h0M222.53 138.03h0M216.92 137.08h0M226.88 149.3h0M225.3 139.51h0M217.11 137.97h0M227.35 146.37h0M218.89 137.35h0M218.63 144.4h0M224.8 139.31h0M223.24 134.52h0M218.71 143.45h0M215.67 138.99h0M221.73 144.78h0M217.49 142.84h0M217.16 138.91h0M222.5 142.45h0M218.19 143.02h0M220.73 138.69h0M226.2 144.51h0M218.45 144.67h0M223.87 146.78h0M220.69 146.07h0M223.57 138.08h0M225.85 138.21h0M227.27 147.48h0M216.58 139.4h0M227.49 143.25h0M226.16 141.62h0M223.4 142.11h0M227.07 140.59h0M218.5 141.08h0M220.64 143.01h0M223.73 137.39h0M226.01 144.93h0M227 143.06h0M219.98 145.62h0M225.66 143.45h0M222.86 144.57h0M220 141.7h0M222.84 134.76h0M224.15 143.25h0M225.16 145.63h0M224.97 146.46h0M217.29 143.97h0M217.37 141.89h0M225.45 147.61h0M231.94 141.57h0M224.24 144.76h0M229.98 142.47h0M224.24 141.42h0M223.12 141.71h0M225.89 136.74h0M223.26 142.64h0M221.86 138.99h0M217.37 145.56h0M227.5 143.94h0M218.87 141.86h0M218.63 145.79h0M228.13 144.53h0M227.29 141.38h0M215.81 141.67h0M230.53 145.12h0M224.44 135.84h0M219.99 139.8h0M228.24 145.3h0M223.4 142.53h0M226.94 144.23h0M224.26 142.62h0M216.84 144.24h0M222.98 136.94h0M221.72 141.66h0M229.25 139.75h0M218.17 140.3h0M226.88 139.95h0M218.71 140.59h0M225.67 137.2h0M217.53 145.18h0M217.54 143.45h0M214.92 143.76h0M230.94 144.02h0M219.74 142.97h0M217.66 141.52h0M227.9 145.96h0M225.06 142.72h0M228.87 142.15h0M229.87 145.88h0M224.97 136.76h0M221.36 142.28h0M231.17 140.22h0M224.16 140.11h0M218.74 139.92h0M219.03 143.54h0M226.14 142.59h0M225.64 139.8h0M220.58 137.96h0M224.7 139.79h0M223.29 138.94h0M226.35 139.5h0M223.27 142.76h0M228.57 142.3h0M221.49 135.43h0M227.56 142.22h0M227.55 144.4h0M225.55 136.17h0M219.49 143.47h0M219.94 143.27h0M215.27 142.07h0M226.85 139.39h0M222.52 139.34h0M227.64 136.68h0M218.74 143.07h0M222.83 145.11h0M228.81 140.82h0M217.38 141.02h0M223.5 142.82h0M218.56 143.88h0M223.55 147.09h0M220.93 143.87h0M224.85 139.47h0M225.97 137.22h0M222.49 142.66h0M228.03 140.76h0M219.47 137.37h0M216.39 136h0M221.64 138.76h0M232.47 142.74h0M223.18 142.01h0M221.81 138.7h0M218.26 136.28h0M226.27 149.68h0M221.2 144.06h0M225.14 143.84h0M220.91 145.95h0M226.14 143.04h0M221 144.87h0M222.36 139h0M223.25 140.37h0M227.9 146.33h0M224.04 140.69h0M228.36 146.92h0M223.57 140.34h0M222.07 142.44h0M225.81 145.71h0M226 138.19h0M220.44 138.42h0M222.55 138.1h0M215.57 142.72h0M220.61 144.78h0M219.66 143.92h0M220.62 142.51h0M216.89 144.46h0M223.45 146.67h0M220.24 145.84h0M224.61 141.15h0M220.87 141.28h0M221.91 136.86h0M222.82 144.97h0M220.93 144.46h0M231.91 142.03h0M226.14 140.09h0M220.65 141.65h0M225.91 145.98h0M223.01 149.49h0M220.21 145.07h0M228.4 147.14h0M216.7 138.15h0M225.06 136.87h0M221.99 144.7h0M222.78 141.38h0M230.35 143.78h0M219.7 140.58h0M226.94 146.75h0M224.62 141.14h0M226.89 147.89h0M216.07 139.77h0M226.98 141.88h0M218.89 138.78h0M215.61 140.45h0M224.45 135.94h0M221.43 146.09h0M219.07 138.65h0M230.38 146.99h0M220.98 141.88h0M228.28 141.09h0M225.86 137.25h0M226.32 145.28h0M224.35 147.82h0M223.29 143.32h0M224.32 144.81h0M219.75 139.35h0M222.84 142.28h0M220.75 140.46h0M224.32 143.69h0M224.45 146.3h0M224.08 146.67h0M224.48 148.6h0M227.03 141.95h0M227.22 147.44h0M225.61 139.08h0M225.83 142.35h0M225.51 135.05h0M231.6 142.25h0M218.36 141.55h0M227.08 141.28h0M223.04 143.26h0M223.23 144.46h0M227.19 143.04h0M223.64 138.61h0M225.48 145.92h0M222.83 143.37h0M225.15 142.47h0M226.95 139.17h0M218.81 147.33h0M227.67 143.14h0M223.73 136.62h0M223.32 141.69h0M223.59 136.3h0M223.41 144.12h0M227.15 146.55h0M227.51 149.48h0M224.85 139.04h0M223.6 146.39h0M219.44 135.34h0M227.16 142.28h0M228.91 146.32h0M223.55 137.21h0M228.77 138.49h0M220.54 135.63h0" stroke="#E07078" stroke-opacity="0.3" stroke-width="1.1" stroke-linecap="round" fill="none"/>
<rect x="204.5" y="119.5" width="40.2" height="40.2" fill="none" stroke="#484848" stroke-width="1"/>
<path d="M266.52 139.87h0M269.29 149.7h0M264.24 147.52h0M260.09 150.94h0M267.94 135.4h0M279.48 142.21h0M269.12 135.89h0M270.8 144.37h0M266.16 139.65h0M265.03 137.56h0M257.22 145.76h0M274.5 136.78h0M259.86 142.17h0M265.78 140.37h0M268.9 141.75h0M271.9 149.07h0M267.92 151.1h0M266.72 139.01h0M270.92 137.45h0M267.02 139.98h0M259.24 145.9h0M264.2 143.75h0M263.93 142.01h0M264.5 141.77h0M267.68 138.59h0M270 142.04h0M263.25 135.18h0M267.67 149.67h0M260.3 137.75h0M268.17 148.24h0M273.14 137.5h0M266.01 146.78h0M268.93 141.48h0M260.13 140.92h0M266.77 142.24h0M274 150.85h0M262.27 141.95h0M265.25 142.14h0M275.17 149.71h0M268.46 138.95h0M265.69 143.73h0M262.61 146.85h0M269.16 136.28h0M265.83 141.1h0M271.16 149.56h0M273.16 152.64h0M268.85 143.33h0M273.1 143.88h0M260.65 137.66h0M270.06 146.45h0M258.97 146.25h0M271.32 135.18h0M268.32 148.09h0M270.75 141.58h0M260.84 146.41h0M268.51 142.57h0M266.51 136.29h0M256.94 137.12h0M272.39 148.01h0M260.9 148.67h0M267.45 136.72h0M270.67 150.91h0M266.86 135.35h0M265.13 149.96h0M269.92 138.99h0M272.05 140.97h0M275.05 142.65h0M279.48 144.06h0M269.76 137.81h0M259.3 141.65h0M270.73 137.93h0M271.07 141.12h0M264.13 140.85h0M268.34 146.56h0M273.72 146.32h0M264.08 137.45h0M271.19 136.84h0M266.81 139.96h0M266.35 142.93h0M270.64 152.29h0M270.71 148.85h0M259.43 145.51h0M276.76 137.69h0M268.81 138.28h0M262.24 146.56h0M269.26 140.77h0M275.28 139.53h0M263.19 137.86h0M261.82 144.34h0M267.51 136.49h0M267.64 131.39h0M268 143h0M271.07 142.1h0M270.94 138.21h0M267.1 143.02h0M259.3 142.98h0M267.94 142.71h0M261.34 151.41h0M268.39 138.34h0M261.39 143.66h0M267.22 137.86h0M261.59 145.6h0M266.05 147.65h0M268.94 136.23h0M271.69 145.34h0M263.92 139.48h0M260.32 144.64h0M264.06 143.86h0M269.1 141.36h0M269.71 141.61h0M261.06 138.01h0M259.26 143.89h0M271.85 140.41h0M270.38 144.54h0M274.24 139.24h0M268.89 137.26h0M261.15 147.85h0M268.79 146.96h0M265.85 130.61h0M256.76 140.98h0M272.12 148.71h0M260.9 147.67h0M265.17 144.95h0M263.63 149.84h0M265.1 142.59h0M269.9 139.09h0M267.63 136.09h0M265.72 142.21h0M266.03 150.87h0M254.93 141.25h0M271.47 137.16h0M267.61 142.29h0M260.33 144.03h0M277.1 148.96h0M270 148.92h0M264.95 146.85h0M262.3 141.66h0M269.21 150h0M266 140.22h0M270 142.63h0M266.74 146.46h0M261.46 145.22h0M269.78 141.55h0M261.01 136.83h0M265.49 146.81h0M254.84 142.27h0M270.05 136.89h0M271.48 145.7h0M271.2 138.08h0M259.47 144.78h0M274.65 146.5h0M266.79 139.6h0M255.89 144.08h0M264.75 148.18h0M261.46 146.17h0M262.22 143.86h0M276.12 141.11h0M272.39 143.76h0M261.54 141.54h0M271.98 139.78h0M266.55 138.9h0M263.14 139.8h0M272.66 141.18h0M274.88 142.5h0M261.62 146.32h0M276.2 141.43h0M272.33 137.44h0M265.46 139.62h0M273.16 137.2h0M265.35 137.87h0M269.67 136.26h0M270.73 135.09h0M273.96 137.12h0M275.59 140.22h0M260.28 142.64h0M277.81 148.74h0M272.77 137.47h0M256.5 140.99h0M272.73 144.65h0M265.05 149.05h0M260.75 146.16h0M272.87 140.56h0M267.73 142.95h0M271.99 138.37h0M265.74 142.24h0M267.33 142.35h0M268.91 141.69h0M262.79 146.44h0M264.05 139.49h0M263.97 134.98h0M269.8 142.77h0M265.75 144.2h0M265.18 145.26h0M276.88 147.08h0M263.16 149.92h0M273.74 135.2h0M274.4 145.57h0M273.78 137.98h0M263.4 137.51h0M272.04 137.6h0M261.74 145.67h0M263.39 141.65h0M264.73 132.22h0M266.91 141.46h0M257.63 144.5h0M270.47 148h0M266.07 135.64h0M266.43 142.85h0M267.11 139h0M262.7 136.83h0M267.47 139.64h0M277.01 143.74h0M270.46 140.69h0M267.65 137.07h0M266.75 133.97h0M260.59 142.49h0M267.35 139.17h0M272.13 140.72h0M270.2 141.13h0M271.2 148.59h0M265.89 147.7h0M267.66 150.74h0M268.86 134.37h0M268.02 143.73h0M265.47 140.54h0M267.59 135.56h0M278.02 141.36h0M263.58 132.55h0M262.51 140.54h0M274.57 147.7h0M265 134.81h0M261.03 139.84h0M272.8 141.34h0M271.37 131.82h0M273.47 143.6h0M269.44 148.2h0M261.44 140.76h0M269.33 138.8h0M271.29 142.76h0M262.07 150.72h0M265.65 150.5h0M264.75 147.02h0M262.74 141.61h0M270.62 141.79h0M273.02 144.96h0M268.71 135.76h0M266.47 138.07h0M265.15 142.74h0M258.09 145.05h0M264.81 144.68h0M256.16 135.97h0M266.11 139.76h0M262.97 142.54h0M270.96 138.07h0M255.08 142.36h0M263.76 146.88h0M272.23 143.18h0M259.72 137.93h0M261.22 147.01h0M256.29 143.74h0M259.42 136.7h0M260.32 136.3h0M264.14 143.24h0M262.83 144.53h0M276.73 146h0M261 139.31h0M267.15 140.23h0M271.86 149.84h0M277.59 148.22h0M272.15 139.37h0M262.43 145.6h0M269.69 136.9h0M269.01 136.16h0M268.68 136.25h0M262.76 138.03h0M261.35 137.48h0M271.89 147.93h0M271.55 141.79h0M269.05 138.61h0M267.38 137.9h0M260.54 134.78h0M277.35 147.46h0M263.13 140.33h0M262.79 147.38h0M267.97 139h0M270.48 144.92h0M264.51 137.19h0M270.44 134.37h0M260.51 145.55h0M270.3 149.14h0M265.58 138.47h0M266.36 139.34h0M274.65 143.29h0M275.8 141.02h0M266.8 150.78h0M263.99 137.68h0M266.25 133.21h0M266.47 138.49h0M272.52 143.64h0M267.67 146.18h0M263.95 141.39h0M265.43 150.55h0M274.78 145.43h0M258.31 144.18h0M265.07 147.8h0M267.17 143.14h0M271.92 139.71h0M260.89 145.24h0M269.71 147.35h0M276.82 137.94h0M266.92 143.9h0M271.24 149.26h0M262.34 139.21h0M267.31 138.47h0M263.57 137.49h0M271.48 150.82h0M268.77 151.72h0M269.29 136.97h0M263.18 142.03h0M271.03 149.9h0M260.68 145.31h0M263.25 144.17h0M270 151.03h0M263.82 142.45h0M270.16 140.84h0M266.74 145.24h0M258.93 136.16h0M266.81 132.18h0M261 143.06h0M270.24 145.53h0M271.35 140.22h0M277.73 139.39h0M270.38 141.74h0M256.23 143.66h0M264.51 145.18h0M273.97 145.17h0M263.77 139.97h0M264.55 149.15h0M269.49 151.44h0M272.52 139.72h0M270.82 148.54h0M265.74 144.23h0M267.27 135.41h0M265.46 145.77h0M261.01 146.14h0M266.67 148.08h0M263.56 138.8h0M262.73 136.61h0M269.76 143.74h0M263.97 142.8h0M260.43 137.99h0M261.06 132.2h0M261.22 134.41h0M273.82 151.65h0M275.02 141.48h0M272.33 137.65h0M263.73 142.42h0M257.91 140.38h0M273.7 133.02h0M266.21 142.66h0M259.94 143.02h0M268.92 138.77h0M275.87 146.27h0M268.42 152.59h0M264.7 140.23h0M257.77 138.04h0M269.94 144.13h0M261.37 135.78h0M267.28 143.83h0M262.35 139.51h0M261.68 143.84h0M271.53 140.5h0M266.43 135.31h0M265.72 146.39h0M268.09 150.46h0M266.68 137.13h0M271.49 148.51h0M261.74 146.44h0M267.1 141.93h0M276.55 147.97h0M269.34 141.13h0M266.61 147.73h0M270.81 139.22h0M269.79 142.35h0M269.12 141.74h0M271.68 141.08h0M266.98 147.47h0M270.17 136h0M273.33 141.2h0M263.61 142.16h0M262.29 151.75h0M263.04 152.58h0M271.54 136.79h0M267.02 142.43h0M273.17 151.01h0M261.55 142.38h0M277.67 139.92h0M266.31 137.86h0M269.44 145.07h0M265.88 145.37h0M263.28 138.93h0M266.62 153.01h0M266.8 142.4h0M274.33 144.82h0M274.02 145.61h0M273.29 145.07h0M263.27 136.33h0M266.61 152.28h0M278.04 143.82h0M260.92 145.34h0M257.16 144.07h0M268.25 145.95h0M259.76 141.98h0M272.46 143.54h0M272.84 144.08h0M269.53 141.2h0M259.74 139.02h0M271.08 139.25h0M274.83 143.33h0M260.91 147.02h0M268.46 134.35h0M266 137h0M267.48 137.29h0M266.78 144.58h0M264.21 140.17h0M264.96 146.03h0M261.91 144.68h0M274.42 143.37h0M262.15 138.95h0M257.99 136.38h0M260.66 139.24h0M264.22 144.11h0M267.12 144.49h0M266.41 143.5h0M259.72 143.51h0M272.72 149.99h0M258.9 141.93h0M256.8 143.13h0M266.67 139.51h0M263.28 139.69h0M268.58 137.34h0M267.04 143.57h0M270.14 142.87h0M272.29 145.55h0M258.34 142.86h0M265.6 143.8h0M267.17 142.73h0M264.1 148.83h0M269.7 141.42h0M262.6 152.23h0M263.07 138.03h0M268.72 143.49h0M266.72 149.5h0M272.88 146.27h0M267.46 141.94h0M264.26 146.81h0M261.6 134.76h0M266.04 136.56h0M261.12 146.88h0M260.09 138.67h0M265.42 136.2h0M258.64 139.95h0M263.22 147h0M278.04 143.95h0M263.04 139.35h0M268.33 147.68h0M261 142.89h0M265.18 147.86h0M265.14 140.42h0M264.37 134.05h0M267.56 146.22h0M273.07 145.49h0M265.95 136.77h0M261.7 136.53h0M268.89 143.22h0M267.12 136.43h0M266.19 144.81h0M263.38 133.59h0M264.9 142.94h0M263.28 149.48h0M269.52 137.41h0M272.53 140.29h0M270.88 143.89h0M275.66 139.34h0M270.57 145.58h0M260.93 144.13h0M263.03 140.08h0M274.12 145.75h0M276.54 141.5h0M277.01 136.57h0M266.66 140.41h0M262.47 147.47h0M263.19 142.89h0M276.38 149.58h0M265.93 137.79h0M255.18 140.57h0M270.46 149.3h0M265.17 153.42h0M260.9 144.64h0M263.58 145.69h0M279.84 145.67h0M258.64 140.09h0M273.2 140.86h0M277.49 140.59h0M264.62 146.47h0M266.81 139.02h0M266.04 145.45h0M274.91 152.05h0M277.86 145.34h0M257.78 139.06h0M266.36 136.47h0M264.33 140.95h0M266.04 146.88h0M260.18 146.34h0M266.28 145.96h0M276.18 138.18h0M277.38 141.4h0M267.75 148.35h0M274.86 135.96h0M266.33 148.18h0M266.6 141.58h0M265.03 150.56h0M265.54 136.51h0M261.69 137.59h0M265.29 143.52h0M269.37 133.43h0M257.13 142.83h0M273.42 136.67h0M256.91 141.83h0M267.69 139.86h0M265.43 140.42h0M268.01 137.48h0M263.07 143.99h0M272.27 136.45h0M261.94 149.19h0M268.71 151.75h0M261.07 134.59h0M266.67 136.26h0M262.03 136.77h0M264.82 146.05h0M273.13 134.36h0M276.23 143.18h0M261.5 140.27h0M267.05 134.51h0M277.01 142.05h0M262.91 143.84h0M276.03 147.6h0M261.36 142.81h0M272.95 146.07h0M271.65 140.94h0M269.41 133.62h0M264.84 135.22h0M264.91 149.72h0M262 140.1h0M275.07 140.36h0M260.8 146.91h0M268.51 145.51h0M273.13 139.95h0M269.5 139.29h0M262.84 141.59h0M271.67 136.57h0M261.82 143.9h0M267.12 145.84h0M266.64 137.6h0M270.75 146.61h0M261.78 144.21h0M276.65 143.59h0M261.22 141.77h0M266.83 145.21h0M258.74 140.94h0M271.24 147.31h0M268.94 149.35h0M260.55 146.88h0M269.94 137.57h0M265.06 143.03h0M267 149.58h0M269.09 139.97h0M261.02 145.4h0M266.03 137.5h0M259.23 146.28h0M260.92 140.83h0M264.87 140.43h0M262.26 141.51h0M269.03 148.58h0M266.94 135.71h0M258.65 139.61h0M267.17 142.88h0M260.17 136.49h0M261.87 144.28h0M263.88 144.6h0M273.15 133.45h0M263.89 148.14h0M264.05 141.96h0M268.37 135.83h0M271.56 141.11h0M273.46 150.51h0M272.51 149.11h0M269.07 150.45h0M269.29 143.63h0M273.23 139.18h0M269.16 138.97h0M267.13 136.96h0M262.06 141.68h0M266.6 146.63h0M265.68 145.25h0M272.21 139.93h0M258.54 135.79h0M266.56 139.11h0M271.1 139.25h0M273.12 137.14h0M272.38 144.85h0M266.74 135.53h0M277.68 142.31h0M257.47 149.2h0M277.42 145.51h0M271.99 147.07h0M264.92 142.26h0M262.66 133.48h0M266.76 146.13h0M270 136.39h0M271.92 144.2h0M271.95 142.14h0M264.02 147.05h0M276.94 138.67h0M259.31 145.14h0M269.17 143.16h0M259.98 145.58h0M267.92 143.68h0M270.22 140.32h0M269.26 143.62h0M270.73 145.44h0M260.91 136.43h0M263.84 147.61h0M261.69 146.78h0M272.03 148.56h0M267.14 148.94h0M267.98 147.96h0M264.24 149.12h0M272.17 133.31h0M273.71 143.23h0M262.56 139.2h0M263.78 147.5h0M269.2 142.51h0M268.49 137.75h0M264.22 138.79h0M267.68 136.04h0M263.32 146.57h0M269.78 143.07h0M269.54 141.68h0M258.99 144.57h0M259.4 142.74h0M265.64 140.28h0M257.77 138.93h0M271.94 134.99h0M266.66 139.43h0M260.44 143.65h0M275.98 147.28h0M271.92 147.9h0M265.91 145.06h0M275.46 142.51h0M268.46 135.13h0M257.74 134.89h0M271.77 145.69h0M266.65 149.29h0M266.46 146.3h0M276.38 140.68h0M261.55 142.74h0M267.75 139.27h0M267.57 138.44h0M268.55 140.6h0M278.57 140.1h0M270.4 143.69h0M277.77 140.27h0M261.83 150.07h0M263.98 139.21h0M266.43 136.7h0M271.87 151.99h0M267.47 138.26h0M258.37 143.15h0M263.28 144.06h0M270.15 145.46h0M267.95 142.4h0M265.89 139.46h0M267.22 145.07h0M272.87 142.83h0M275.65 139.8h0M276.71 150.46h0M273.04 152.71h0M260.47 139.59h0M268.28 148.34h0M269.61 135.95h0M274.47 143.61h0M270.2 141.46h0M268.65 135.24h0M271.99 140.34h0M256.33 141.16h0M265.51 146.97h0M273.77 137.7h0M266.17 141.94h0M269.32 137.19h0M266.11 147.27h0M272.08 151.72h0M266.46 139.08h0M272.44 143.85h0M268.51 145.32h0M263.82 148.7h0M276.42 149.59h0M263.59 142.52h0M271.7 147.57h0M261.77 145.78h0M270.47 146.44h0M264.82 141.38h0M256.24 138.71h0M265.09 140h0M266.06 140.17h0M267.53 142.89h0M263.87 140.52h0M265.91 144.54h0M270.27 141.26h0M264.95 132.65h0M259.36 142.05h0M259.43 148.59h0M266.87 140.06h0M267.11 139.27h0M263.46 141.46h0M258.65 140.34h0M268.04 137.61h0M272.53 145.87h0M274.45 140.88h0M261.86 134.16h0M276.93 142.68h0M269.12 139.95h0M263.94 149.81h0M258.71 134.28h0M269.35 137.99h0M269.18 149.9h0M271.17 147.55h0M264.72 146.92h0M264.41 134.92h0M266.07 140.54h0M275.74 139.54h0M274.96 140.43h0M262.52 131.59h0M269.2 135.02h0M268.34 142.85h0M267.84 131.98h0M263.52 143.53h0M255.87 142.49h0M268.12 139.58h0M267.36 145.83h0M268.25 138.35h0M272.75 140.27h0M267.77 147.71h0M272.27 152.47h0M272.86 144.78h0M265.74 142.81h0M272.24 139.31h0M278.38 137.07h0M274.92 137.69h0M261.7 137.81h0M267.63 135.04h0M270.93 142.77h0M276.47 139.58h0M255.73 142.42h0M264.4 146.67h0M264.72 152.08h0M262.41 148.43h0M278.37 138.3h0M266.51 132.02h0M263.83 135.96h0M267.9 148.63h0M271.56 144.77h0M264.95 152.04h0M268.84 151.23h0M267.6 147.05h0M270.26 142.66h0M263.81 138.99h0M267.86 140.36h0M266.32 138.12h0M272.5 142.54h0M266.86 140.93h0M275.56 141.89h0M276.63 140.46h0M275.04 147.98h0M263.68 143.62h0M275.19 139.52h0M265.42 143.37h0M266.45 140.42h0M266.84 143.81h0M269.39 150.93h0M262.59 150.46h0M268.7 134.8h0M265.23 139.74h0M263.77 140.45h0M270.37 145.35h0M272.37 142.96h0M264.01 147.8h0M276.49 147.17h0M269.41 138.25h0M278.66 147.94h0M273.21 135.37h0M266.58 140.93h0M276.29 144.02h0M269.07 153.36h0M261.78 136.04h0M270.92 144.02h0M267.7 141.47h0M267.4 144.22h0M264.91 140.01h0M270.21 137.25h0M271.06 142.76h0M258.42 146.83h0M261.19 146.95h0M264.37 150.12h0M264.36 146.95h0M268.26 132.36h0M268.71 145.28h0M266.94 151.24h0M265.2 133.83h0M269.74 139.24h0M266.63 142.03h0M260.86 146.2h0M263.78 150.9h0M267.02 147.92h0M266.57 138.44h0M265.55 136.93h0M269.56 143.71h0M263.42 132.68h0M265.12 131.65h0M264.49 133.13h0M273.03 137.71h0M264.05 140.58h0M266.76 144.38h0M270.58 146.77h0M263.34 147.83h0M270.42 139.36h0M277.57 138.99h0M267.99 149.3h0M267.34 144.15h0M266.89 145.75h0M268.49 142.66h0M274.14 134.05h0M269.12 141.17h0M277.94 147.12h0M262.47 144.32h0M266.87 135.66h0M264.86 144.23h0M272.37 149.53h0M268.77 141.83h0M266.5 148.59h0" stroke="#a8a8a8" stroke-opacity="0.4" stroke-width="1.2" stroke-linecap="round" fill="none" filter="url(#b4)"/>
<path d="M269.21 148.17h0M267.06 144.98h0M272.11 146.92h0M270.26 143.61h0M263.84 143.81h0M266.89 143.91h0M274.7 142.91h0M272.34 144.96h0M266.06 145.31h0M272.03 141.78h0M265.89 143.97h0M271.95 143.37h0M270.97 146.26h0M269.66 146.23h0M273.69 144.49h0M270.66 142.11h0M267.3 144.74h0M272.23 143.18h0M265.16 147.53h0M266.21 145.34h0M271.17 142.43h0M270.69 148h0M268.74 146.99h0M270.03 142.48h0M267.65 143.35h0M273.87 148.15h0M270.39 140.76h0M268.05 143.92h0M263.45 144.95h0M270.53 141.41h0M268.25 143.77h0M275.51 146.81h0M272.07 145.24h0M265.52 147.51h0M267.46 139.78h0M271.94 144.07h0M269.61 146.4h0M268.87 146.12h0M273.72 144.13h0M268.48 145.05h0M271.67 143.92h0M269.87 143.15h0M269.37 146.48h0M267.01 144.51h0M264.96 143.11h0M269.86 146.44h0M266.33 144.73h0M266.66 145.86h0M270.45 146.21h0M268.94 141.14h0M267.83 141.37h0M267.46 144.85h0M273.04 143.26h0M267.16 145.56h0M264.72 147.76h0M272.72 147.62h0M269.28 146.99h0M268.52 147.61h0M267.54 142.79h0M270.81 143.78h0M271.74 142.68h0M270.46 142.34h0M269.29 150.83h0M266.2 141.67h0M264.53 144.39h0M274.74 143.78h0M272.56 144.51h0M267.6 150.44h0M273.03 140.02h0M266.51 146.12h0M271.67 144.4h0M270.6 146.46h0M268.5 147.7h0M266.92 147.05h0M272.5 145.55h0M268.52 144.95h0M262.59 145.69h0M272.02 142.53h0M270.73 145.13h0M264.05 142.56h0M268.75 146.27h0M269.83 141.58h0M267.94 145.29h0M265.6 143.81h0M267.88 139.25h0M275.05 147.38h0M268.14 147.57h0M266.32 149.15h0M268.43 145.38h0M267.78 145.25h0M270.64 145.09h0M267 147.05h0M271.36 145.01h0M272.92 143.01h0M273.63 144.57h0M274.38 143.8h0M268.81 145.57h0M273.05 148.9h0M268.17 143.03h0M272.01 148.36h0M271.82 144.11h0M273.62 144.93h0M270.14 146.69h0M270.29 146.94h0M270.98 146.47h0M270.12 147.83h0M269.97 149.04h0M269.76 147.16h0M267.87 145.82h0M270.94 145.38h0M274.46 145.13h0M273.14 145.96h0M273.04 142.56h0M268.46 147.62h0M267.03 146.07h0M271.39 145.53h0M270.98 146.47h0M268.86 146.12h0M267.98 143.78h0M264.61 144.72h0M264.26 145.08h0M270.27 142.06h0M269.82 145.79h0M268.51 142.54h0M269.26 146.11h0M272.52 150.25h0M263.4 145.93h0M270.97 143.28h0M270.62 150.67h0M269.96 148.7h0M272.95 143.8h0M268.98 143.11h0M270.25 145.17h0M273.2 143.4h0M269.3 146.71h0M272.41 144.05h0M263.58 145.58h0M271.91 139.47h0M268.07 146.52h0M264.61 141.36h0M270.88 148.09h0M273.27 143.22h0M271.2 140.19h0M264.95 146.48h0M268.35 142.24h0M263.72 144.37h0M266.32 148.06h0M263.57 143.31h0M269.82 148.08h0M269.37 149.95h0M269.51 144.7h0M270.99 145.96h0M264.88 142.42h0M268.86 145.93h0M265.74 143.06h0M267.26 145.93h0M268.25 146.64h0M270.83 142.51h0M268.67 141.62h0M269.94 147.21h0M266.49 140.19h0M271.23 144.21h0M269.51 146.25h0M270.8 147.52h0M268.07 144.17h0M268.31 146.07h0M268.82 148.53h0M267.6 144.98h0M268.47 150.77h0M266.59 142.27h0M268.4 147.08h0M269.64 144.52h0M268.93 144.35h0M275.17 146.02h0M270.95 147.64h0M266.77 141.64h0M268.44 149.05h0M272.73 143.41h0M265.67 147.54h0M273.06 142h0M274.69 142.89h0M271.98 144.44h0M268.56 143.33h0M271.8 146.69h0M272.16 144.23h0M275.04 144.47h0M265.97 149.09h0M270.02 145.16h0M272.31 145.96h0M269.96 150.44h0M263.61 146.76h0M266.47 145.2h0M269.06 145.73h0M272.47 146.71h0M270.55 143.63h0M271.62 145.74h0M274.21 147.28h0M274.41 146.34h0M270.15 143.34h0M269.91 143.99h0M271.43 148.72h0M271.26 147.59h0M270.44 145.98h0M265.56 145.34h0M269.76 144.8h0M268.83 145.84h0M267.75 144.46h0M266.75 141.7h0M267.88 143.86h0M274.86 147.8h0M268.39 146.53h0M266.04 140.56h0M270.67 146.58h0M267.4 144.99h0M272.99 145.47h0M270.18 146.59h0M265.52 145.66h0M267.58 139.83h0M272.46 144.49h0M264.29 141.5h0M273.07 148.87h0M270.87 145.99h0M271.83 146.8h0M265.5 147.04h0M272.78 143.89h0M266.66 143.66h0M267.71 146.45h0M272.1 145.07h0M268.61 140.15h0M268.23 142.27h0M267.82 145.94h0M266.78 143.54h0M265.91 144.3h0M268.68 147.75h0M263.3 147.49h0M271.68 143.57h0M267.39 145.54h0M271.28 144.56h0M269.1 145.05h0M266.1 145.74h0M271.46 145.14h0M265.92 145h0M269.24 145.87h0M268.25 147.27h0M273.1 147.26h0M270.35 148.33h0M269.46 144.55h0M264.97 145.05h0M273.52 142.4h0M272.11 141.55h0" stroke="#a8a8a8" stroke-opacity="0.45" stroke-width="1.2" stroke-linecap="round" fill="none" filter="url(#b4)"/>
<path d="M279.97 131.76h0M279.65 128.06h0M279.95 129.32h0M280.58 128.86h0M277.45 128.91h0M280.33 130.77h0M279.94 129.53h0M280.45 129.26h0M279.03 129.78h0M280.95 128.89h0M280.21 128.71h0M278.68 129.72h0M277.94 128.45h0M278.12 128.76h0M280.35 129.59h0M280.14 128.73h0M280.89 129.02h0M277.97 128.72h0M277.7 127.77h0M280.48 128.85h0M280.45 128.82h0M279.3 128.83h0M278.91 128.7h0M281.45 129.44h0M281.15 130.88h0" stroke="#a8a8a8" stroke-opacity="0.35" stroke-width="1.2" stroke-linecap="round" fill="none" filter="url(#b4)"/>
<rect x="250.6" y="119.5" width="40.2" height="40.2" fill="none" stroke="#484848" stroke-width="1"/>
<path d="M221.18 184.58h0M218.53 185.72h0M224.58 186.18h0M217.65 179.01h0M214.66 180.37h0M220.71 188.93h0M220.65 186.83h0M222.58 192.61h0M212.23 190.25h0M223.75 189.25h0M212.5 182.38h0M219.27 188.94h0M225.11 190.41h0M212.11 191.17h0M220.97 191.03h0M222.38 181.57h0M226.93 183.93h0M218.96 191.69h0M222.39 196.17h0M230.37 180.98h0M210.66 190.29h0M225.68 184.89h0M220.45 182.06h0M233.02 186.95h0M211.95 189.03h0M220.67 187.53h0M219.27 184.9h0M209.24 186.29h0M217.77 182.56h0M222.11 193.29h0M208.31 182.11h0M223.85 192.08h0M215.55 186.27h0M223.03 191.41h0M217.94 183.77h0M217.09 191.43h0M228.9 184.47h0M220.5 186.69h0M216.1 183.83h0M226.11 191.11h0M218.09 181.07h0M222.55 177.16h0M223.4 186.69h0M213.52 182.61h0M217.76 183.25h0M214.55 192.23h0M214.68 188.71h0M221.23 194.05h0M221.22 185.56h0M224.16 175.07h0M220.9 178.88h0M218.89 194.53h0M216.35 187.15h0M226.96 192.26h0M221.04 175.3h0M223.48 189.35h0M220.03 182.81h0M219.06 181.57h0M212.59 179.77h0M215.17 191.61h0M212.22 175.71h0M224.97 177.28h0M209.74 179.59h0M215.13 178.64h0M220.06 187.98h0M217.84 183.27h0M226.22 185.69h0M226.83 183.28h0M223.19 193.4h0M219.93 183.34h0M220.04 188.03h0M213.96 184.33h0M216.3 192.88h0M210.03 187.08h0M220.44 181.07h0M222.7 184.49h0M221.55 187.03h0M229.55 184.92h0M231.61 194.75h0M231.12 188.74h0M224.49 180.35h0M231.25 180.88h0M216.59 184.64h0M222.65 187.84h0M214.68 182.26h0M223.29 192.88h0M225.89 188.93h0M220.55 182.3h0M218.47 184.47h0M225.44 183.51h0M226.9 185.56h0M221.12 183.36h0M231.5 185.94h0M224.88 187.01h0M225.59 189.87h0M232.72 183.68h0M214.52 194.04h0M229.45 187.68h0M219.49 186.71h0M230.58 183.05h0M230.71 187.19h0M219.76 183h0M208.1 184.79h0M213.97 180.89h0M215.7 185.83h0M226.03 186.79h0M222.29 188.19h0M230.96 190.91h0M231.45 187.3h0M224.5 182.5h0M226.24 181.66h0M225.22 182.74h0M217.99 191.98h0M221.59 190.25h0M222.17 175.01h0M230.98 186.53h0M216.45 190.09h0M215.31 180.09h0M229.51 183.25h0M228.97 185.4h0M220.17 185.78h0M217.24 190.98h0M228.34 187.42h0M224.77 189.44h0M226.94 192.03h0M219.59 185.35h0M218.01 192.09h0M213.73 187.58h0M228.95 190.47h0M219.09 182.51h0M229.47 181.82h0M211.61 182.23h0M211.75 186.32h0M215.05 189.84h0M222.43 177.67h0M217.48 181.11h0M214.91 191.45h0M214.89 186.42h0M217.26 188.2h0M214.39 175.19h0M223.16 194.24h0M213.28 182.18h0M219.45 179.85h0M227.57 187.17h0M213.16 182.73h0M230.7 183.44h0M219.28 180.44h0M223.21 182.81h0M228.08 182.2h0M211.95 186.33h0M223.06 187.4h0M218.46 182.48h0M216.74 183.67h0M218.1 188.16h0M221.01 188.76h0M232.09 186.24h0M219.34 187.39h0M235.1 186.35h0M230.81 194.39h0M214.99 186.63h0M229.83 187.67h0M220.16 197.89h0M221.39 198.05h0M214.13 193.67h0M216.93 182h0M220.46 189.81h0M225.31 189.45h0M214.9 194.62h0M229.04 187.4h0M218.06 184.69h0M220.97 181.54h0M222.26 181.99h0M226.33 182.88h0M224.29 188.08h0M222.04 188.79h0M216.43 188.87h0M222.21 183.31h0M231.24 194h0M219.24 188.46h0M224.09 195.32h0M228.13 186.03h0M221.32 178.91h0M222.27 190.82h0M218.4 188.87h0M222.94 183.28h0M212.71 190.31h0M216 178.56h0M222.45 189.61h0M233.01 188.95h0M222.02 188h0M219.7 183.63h0M230.17 177.38h0M220.26 188.64h0M211.46 182.69h0M230.78 189.69h0M225.25 190.5h0M222.59 187.95h0M216.75 183.48h0M234.58 181.19h0M221.99 178.41h0M219.14 180.7h0M213.66 185.46h0M215.1 187.42h0M222.95 173.79h0M220.42 187.6h0M221.58 192.68h0M224.57 176.26h0M232.14 182.3h0M220.68 187.36h0M216 185.06h0M232.91 178.16h0M211.68 181.06h0M222.03 178.33h0M225.58 178.77h0M225.3 186.05h0M224.16 178.42h0M219.72 188.07h0M211.83 177.58h0M225.46 198.06h0M225.87 186.11h0M215.31 182.02h0M219.56 187.82h0M214.31 184.17h0M227.35 189.18h0M229.45 190.69h0M222.82 194.82h0M219.47 182.05h0M215.01 185.77h0M223.35 191.48h0M230.04 191.01h0M229.68 185.84h0M214.77 188.54h0M226.51 194.47h0M221.16 182.82h0M218.97 187.22h0M221.57 184.56h0M223.59 184.35h0M224.46 182.73h0M212.31 181.95h0M234.47 183.51h0M225.88 194.39h0M217.96 186.42h0M231.12 188.66h0M209.83 179.86h0M216.87 185.34h0M223.94 183.69h0M220.66 180.66h0M225.05 187.51h0M224.42 183.26h0M225.12 184.6h0M223.72 185.13h0M218.76 178.63h0M212.29 178.96h0M221.72 178.81h0M221.93 197.96h0M230.79 180.66h0M221.74 181.95h0M228.14 178.41h0M223.38 187.28h0M224.74 188.78h0M224.68 175.79h0M220.73 179.88h0M225.29 185h0M221.38 192.07h0M219.08 195.04h0M228.64 178.3h0M216.61 191.79h0M217.18 191.77h0M218.29 184.23h0M229.96 178.01h0M222.69 183.16h0M220.79 195.55h0M226.32 178.6h0M228.25 184.29h0M221.4 192.41h0M218.64 190.66h0M223.85 180.73h0M221.31 177.53h0M228.93 188.06h0M229.06 180.54h0M228.39 179.93h0M223.47 185.9h0M217.63 186.61h0M222.91 180.74h0M218.53 177.27h0M230.13 188.22h0M218.62 189.08h0M217.62 177.92h0M222.1 195.08h0M223.4 186.88h0M222.78 177.89h0M214.34 182.71h0M217.51 186.36h0M215.6 182.85h0M220.14 183.55h0M218.62 184.29h0M210.92 180.82h0M219.61 179.09h0M227.71 181.7h0M230.04 190.26h0M215.87 188.01h0M217.41 188.13h0M226.14 193.36h0M215.23 183.54h0M223.13 178.65h0M223.51 190.08h0M213.67 180.71h0M216.23 176.95h0M213.42 192.07h0M217.99 182.51h0M226.72 192.7h0M228.47 176.56h0M218.2 182.43h0M215.85 196.08h0M219.29 192.08h0M220.64 185.03h0M224.39 188.78h0M226.84 176.35h0M224.51 188.07h0M225.52 186.06h0M225.78 178.69h0M230.21 180.12h0M229.33 193.16h0M221.64 183.84h0M226.93 184.85h0M213.92 185.68h0M214.56 181.44h0M232.02 192.5h0M218.95 184.64h0M217.65 184.71h0M211.82 187.66h0M222.49 182.13h0M219.47 182.31h0M218.62 182.04h0M229.13 191.14h0M223.9 188.23h0M230.34 191.62h0M222.74 187.47h0M222.93 185.98h0M222.64 172.53h0M225.21 186.6h0M227.48 188.6h0M219.21 188.69h0M223.39 183.31h0M219.84 182.7h0M220.34 182.67h0M219.69 191.86h0M218.91 184.11h0M218.62 176.88h0M216.96 181.59h0M223.05 183.87h0M214.6 181.96h0M232.21 182.49h0M220.94 191.45h0M217.31 181.31h0M218.21 185.84h0M222.16 186.57h0M224.96 184.48h0M224.23 177.98h0M217.93 193.78h0M223.95 182.15h0M221.35 191.77h0M212.41 176.27h0M218.05 182.25h0M221.82 182.17h0M222.27 186.24h0M215.11 180.55h0M213.59 185.67h0M222.58 189.67h0M216.83 181.45h0M211.16 185.52h0M227.95 189.51h0M225.37 187.7h0M222.94 191.43h0M219.07 190.02h0M226.64 189.14h0M224.84 178.72h0M229.55 181.93h0M218.6 179.89h0M226.32 180.78h0M223.91 189.4h0M222.73 183.79h0M223.91 193.84h0M220.02 179.01h0M218.95 179.82h0M220.39 184.41h0M217.1 182.12h0M215.08 185.62h0M229.11 176.35h0M221.34 194.52h0M218.87 190.48h0M224.71 180.72h0M228.62 183.38h0M224.38 183.76h0M220.17 186.2h0M231.92 177.67h0M214.6 184.76h0M228.01 185.76h0M219.92 188.36h0M232.61 182.44h0M212.03 181.97h0M228.01 179.07h0M227.66 192.38h0M227.61 181.78h0M212.85 187.7h0M222.54 189.84h0M227.55 192.72h0M219.97 185.21h0M223.67 190.43h0M221.11 182.43h0M214.4 190.21h0M224.51 182.77h0M214.32 181.06h0M214.22 181.41h0M217.68 187.82h0M217.46 173.94h0M219.5 176.99h0M226.57 185.36h0M212.24 178.48h0M221.57 185.33h0M210.32 182.52h0M222.41 191.6h0M228.7 186.28h0M213.98 181.81h0M226.83 181.17h0M230.68 181.73h0M213.69 188.89h0M220.69 187.29h0M219.75 185.38h0M215.85 195.65h0M225.94 185.71h0M223.69 190.94h0M218.2 185.93h0M223.63 182.64h0M217.09 183.47h0M220.29 182.89h0M209.45 183.56h0M225.71 186.83h0M231.43 192.67h0M220.25 181.3h0M225.26 184.1h0M211.44 184.23h0M220.1 183.94h0M225.3 187.47h0M235.21 183.95h0M220.73 187.23h0M219.53 182.11h0M225.89 176.06h0M226.03 175.1h0M213.09 190.57h0M231.18 188.28h0M224.5 179.61h0M221 177.63h0M221.21 184.98h0M221.55 190.24h0M215.84 176.96h0M219.89 182.64h0M219.85 193.3h0M223.1 179.5h0M220.79 180.22h0M219.52 188.58h0M213.81 188.15h0M231.75 188.16h0M221.11 186.84h0M220.55 179.81h0M227.17 178.45h0M212.47 186.98h0M220.32 180.36h0M223.17 194.28h0M220.08 184.47h0M224.12 191.62h0M227.38 190.75h0M216.94 187.77h0M223.69 175.99h0M228.76 190.4h0M230.33 186.96h0M226.33 186.12h0M221.67 190.95h0M221.36 189.12h0M220.08 192.49h0M227.67 177.05h0M231.56 190.18h0M219.23 181.43h0M234.02 188.62h0M224.2 189.61h0M215.96 194.74h0M230.66 177.82h0M219.53 185.52h0M221.37 188.89h0M223.79 188.21h0M220.51 187.14h0M215.99 196h0M220.67 192.68h0M222.53 184.89h0M222.05 178.09h0M234.19 190.56h0M223.04 183.16h0M230.06 185.36h0M219.45 181.97h0M230.97 189.31h0M221.53 181.8h0M229.38 188.86h0M218.62 190.24h0M228.31 181.11h0M227.62 193.2h0M221.72 177.81h0M228.92 185.06h0M220.78 183.73h0M219.07 189.98h0M214.31 187.23h0M227.72 193.01h0M225.9 188.02h0M220.64 184.69h0M214.37 193.92h0M222.14 179.79h0M225.18 195.15h0M223.82 184.18h0M214.08 187.84h0M220.98 181.59h0M226.94 179.12h0M219.53 176.82h0M219.32 189.79h0M212.13 191.62h0M218.07 182.06h0M228.72 182.78h0M230.98 186.3h0M222.25 180.11h0M228.93 186.7h0M219.83 179.7h0M217.94 184.29h0M216.41 189.18h0M222.23 182.12h0M222.98 194.19h0M208.5 185.03h0M228.27 187.74h0M228.59 178.04h0M216 190.33h0M221.13 185.85h0M225.22 188.47h0M225.1 183.41h0M218.44 192.57h0M220.37 176.96h0M218.6 190.18h0M232.65 188.7h0M217.28 188.25h0M222.3 192.61h0M224.12 190.48h0M224.44 188.6h0M216.37 183.58h0M230.12 195.05h0M227.28 189.04h0M220.73 187.44h0M218.55 191.29h0M220.74 181.01h0M210.15 192.3h0M218.16 179.9h0M222.26 196.16h0M226.28 184.61h0M226.22 181.74h0M220.25 185.49h0M221.03 190h0M223 196.81h0M227.25 185.1h0M224.37 181.23h0M218.48 182.99h0M228.83 183.07h0M213.44 178.07h0M214.71 183.13h0M221.32 178.78h0M217.48 182.36h0M223.57 189.54h0M230.23 185.86h0M225.63 186.85h0M215.91 180.77h0M235.4 187.47h0M231.01 192.29h0M232.23 186.66h0M227.92 185.12h0M216.45 177.79h0M226.39 177.25h0M225.11 181.27h0M225.61 178.47h0M227.34 185.43h0M214.22 175.78h0M224.15 176.65h0M223.37 188.76h0M216.35 192.61h0M230.36 189.19h0M224.16 188.85h0M218.86 192.63h0M221.56 188.14h0M228.18 180.54h0M231.31 182.82h0M224.94 190.49h0M221.74 192.18h0M216.63 196.44h0M225.39 183.94h0M210.5 191.55h0M231.98 184.36h0M214.66 190.72h0M223.38 180.4h0M218.94 185.45h0M226.15 195.57h0M216.45 193.43h0M211.97 187.77h0M220.61 187.92h0M220.1 181.18h0M222.4 192.29h0M208.45 183.23h0M220.71 179.21h0M213.2 186.89h0M224.59 189.93h0M218.72 182.5h0M233.08 185.69h0M221.6 191.36h0M231.67 189.79h0M221.85 196.86h0M221.53 175.19h0M217.75 183h0M229.55 189.04h0M229.15 187.72h0M222.87 182.51h0M213.9 186.97h0M223.51 189.3h0M219.19 182.67h0M223.57 189.51h0M235.03 183.26h0M226.96 191.81h0M220.21 186.11h0M219.9 194.11h0M219.34 190.64h0M225.17 185.25h0M225.55 191.45h0M218.61 189.92h0M219.9 186.17h0M211.46 192.1h0M219.5 186.05h0M220.85 189.82h0M217.61 189.09h0M218.6 176.4h0M224.9 187.2h0M229.5 175.95h0M223.36 182.22h0M221.27 183.24h0M220.44 181.48h0M230.1 177.34h0M211.43 185.53h0M235.03 183.89h0M217.8 178.04h0M214.36 191.38h0M225.08 191.53h0M223.8 187.4h0M219.53 179.55h0M218.3 192.29h0M217.65 185.02h0M232.35 187.34h0M226.45 183.32h0M225.63 185.03h0M222.75 187.93h0M228.94 192.17h0M227.94 189.01h0M213.97 191.84h0M230.75 190.25h0M227.04 185.35h0M212.11 189.39h0M215.39 195.46h0M226.17 186.41h0M218.11 185.51h0M216.26 182.33h0M231.99 185.98h0M233.23 187.39h0M225.53 181.02h0M220.63 182.8h0M225.63 185.92h0M215.27 184.5h0M216.66 178.95h0M218.36 197.5h0M210.75 186.65h0M213.52 183.17h0M223.18 181.52h0M232.12 190.84h0M219.98 175.68h0M223.76 182.12h0M229.34 181.07h0M229.73 184.56h0M223.43 184.38h0M224.43 192.85h0M219.66 179.93h0M232.37 193.34h0M232.45 193.36h0M220.89 194.96h0M218.34 182.44h0M218.72 189h0M216.95 183.62h0M217.05 183.3h0M227.48 193.26h0M217.13 187.35h0M221.53 172.65h0M213.3 191.14h0M220.86 187.02h0M229.51 187.37h0M218.74 181.45h0M215.56 187.58h0M218.46 187.95h0M213.26 181.38h0M234.04 190.24h0M219.93 192.18h0M221.84 194.6h0M213.95 188.53h0M214.67 188.16h0M216.2 186.96h0M225.51 182.17h0M224.59 179.97h0M226.75 191.98h0M220.12 189.31h0M210.11 185.23h0M220.02 180.7h0M226.24 192.39h0M223.66 195.56h0M218.51 182.53h0M220.51 185.72h0M215.75 185.74h0M229.04 183.4h0M225.5 185.48h0M220.77 186.11h0M230.48 190.44h0M225.88 187.34h0M221.64 186.16h0M220.54 176.35h0M226.57 179.7h0M221.31 182.52h0M218.94 180.54h0M218.02 189.41h0M230.63 192.85h0M221.94 184.81h0M220.37 185.22h0M218.26 183.87h0M227.29 185.43h0M217 183.95h0M222.45 185.3h0M219.43 189.28h0M222.71 179.9h0M226.12 182.33h0M225.63 191.19h0M224.44 187.97h0M213.81 182.85h0M221.86 189.39h0M215.13 183.37h0M212.21 184.73h0M222.17 186.42h0M231.11 191.82h0M221.3 182.14h0M218.2 189.49h0M228 183.94h0M221.6 183.05h0M225.81 187.56h0M218.41 179.76h0M231.39 179.37h0M234.9 185.14h0M226.42 189.85h0M225.67 193.07h0M218.96 184.96h0M227.22 190h0M218.03 180.44h0M212.64 185.3h0M220.31 176.22h0M218.01 186.76h0M223.19 184.61h0M222.07 189.5h0M215.37 179.55h0M226.96 190.99h0M214 179.82h0M229.88 191.68h0M219.75 191.19h0M228.64 195.29h0M214.71 176.61h0M218.73 184.72h0M219.35 186.56h0M229.69 193.67h0M227.93 186.86h0M231.47 190.28h0M223.33 185.84h0M220.64 190.66h0M213.47 189.91h0M224.38 180.63h0M227.75 186.91h0M215.24 186.55h0M214.31 189.8h0M223.3 185.49h0M227.1 186.9h0M226.61 194.92h0M228.18 181.3h0M226.23 185h0M222.65 191.47h0M217.49 185.97h0M231.84 182.8h0M219.8 189.48h0M219.22 191.1h0M217.27 175.96h0M224.3 185.35h0M222.66 191.43h0M228.71 185.01h0M221.62 174.29h0M215.5 185.79h0M224.84 177.6h0M226.72 186.4h0M229.03 185.04h0M229.05 180.66h0M211.25 178.8h0M225.68 188.82h0M209.95 184.1h0M224.06 195.88h0M226.07 189.48h0M211.59 185.74h0M209.95 181.52h0M220.62 179.74h0M215.68 183.58h0M226.14 182.76h0M222.87 189.99h0M219.5 196.3h0M220.7 181.16h0M208.82 189.25h0M226.22 185.46h0M223.88 185.31h0M227.23 186.67h0M223.3 185.49h0M226.59 179.38h0M223.55 189.71h0M234.33 183.85h0M221.66 191.12h0M218.32 181.52h0M222.25 197.73h0M227.41 192.33h0M215.08 188.11h0M230.31 180.03h0M222.09 184.58h0M227.77 176.74h0M226.18 186.53h0M222.54 173.51h0M209.56 180.01h0M225.36 188.83h0M228.38 177.12h0M221.54 193.4h0M211.45 187.32h0M216.66 187.78h0M224.26 176.7h0M213.85 191.41h0M219.73 192.39h0M222.89 191.03h0M219.1 186.36h0M218.46 190.22h0M216.98 191.09h0M232.93 180.85h0M220.13 188.44h0M231.52 194.27h0M224.29 176.11h0M227.68 183.42h0M222.54 188.12h0M211.84 189.79h0M226.84 189.99h0M225.09 188.37h0M213.69 181.05h0M227.23 184.82h0M221.53 187.73h0M222.04 187.18h0M224.8 186.25h0M215.25 182.75h0M228.49 183.07h0M224.36 187.93h0M222.55 181.3h0M216.85 190.04h0M216.64 186.6h0M222.29 186.89h0M227.94 186.04h0M220.81 181.57h0M221.98 185.94h0M214.26 193.58h0M217.34 183.94h0M213.76 184.88h0M222.78 192.1h0M228.43 184.09h0M231.85 187.06h0M220.5 179.16h0M223.53 194.29h0M223.02 192.2h0M224.47 191.31h0M230.32 185.66h0M213.15 183.19h0M218.23 178.03h0M219.95 189.37h0M227.73 181.71h0M217.84 192.64h0M228.33 189.02h0M224.8 188.44h0M212.97 184.89h0M224.74 185.56h0M225.69 191.51h0M222.38 184.32h0M213.2 190.46h0M217.88 186.67h0" stroke="#a8a8a8" stroke-opacity="0.4" stroke-width="1.2" stroke-linecap="round" fill="none" filter="url(#b4)"/>
<path d="M228.46 189.81h0M219.47 187.58h0M221.26 183.54h0M220.97 189.32h0M224.63 187.27h0M224.1 184.79h0M221.08 187.37h0M226.09 186.98h0M223.01 188.67h0M228.25 184.54h0M225.25 188.28h0M223.31 188.44h0M217.19 187.88h0M222.78 184.61h0M226.25 187.49h0M222.44 189.77h0M220.59 185.95h0M226.18 190.06h0M230.01 186.62h0M218.88 183.96h0M219.71 188.08h0M222.77 186.06h0M220.31 186h0M222.37 190.88h0M225.54 191.35h0M226.16 189.77h0M227.31 188.97h0M228.47 190.73h0M229.35 188.37h0M222.64 189.15h0M222.32 186h0M224.93 184.91h0M223.03 191.46h0M223.93 189.93h0M225.58 188.8h0M223.87 189.39h0M220.43 189.31h0M220.09 185.85h0M221.65 184.34h0M217.23 188.79h0M225.14 189.51h0M225.93 185.87h0M225.8 184.85h0M229.85 185.31h0M222.21 189.74h0M220.48 188.32h0M226.67 188.2h0M226.52 186.5h0M225.43 182.17h0M228.37 186.08h0M220.76 187.85h0M228.97 185.98h0M223.45 186.87h0M220.53 184.42h0M225.41 189.63h0M221.11 188.39h0M224.96 188.79h0M222.99 187.92h0M224.41 185.05h0M223.06 189.86h0M221.72 191.2h0M222.75 184.95h0M222.57 184.3h0M225.47 183.68h0M223.57 187.19h0M222.54 188.9h0M224.44 186.36h0M226.14 186.64h0M226.39 191.28h0M224.72 190.2h0M219.23 189.26h0M218.73 187.35h0M221.01 185.8h0M220.5 187.86h0M225.56 184.81h0M221.52 183h0M221.25 182.38h0M218.69 189.01h0M226.32 185.7h0M224.63 185.79h0M226.93 192.33h0M221.46 186.57h0M228.52 191.87h0M223.47 189.45h0M218.41 187.03h0M222.59 187.41h0M224.46 183.76h0M217.95 187.95h0M225.84 189.07h0M223.69 183.63h0M222.01 183.77h0M229.8 188.73h0M225.84 188.33h0M222.26 190.86h0M226.33 189.45h0M225.37 189.71h0M222.61 188.92h0M223.76 187.15h0M225.58 193.34h0M222.11 190.91h0M220.24 187.32h0M226.79 187.62h0M224.63 184.67h0M219.83 192.12h0M224.01 187.58h0M219.07 185.12h0M220.2 187.67h0M223.13 186.22h0M221.36 188.09h0M227.25 184.17h0M218.96 190.72h0M218.93 186.74h0M223.88 192.52h0M223.25 190.58h0M223.96 185.71h0M224.11 182.47h0M226.14 191.63h0M222.85 189.93h0M220.12 191.63h0M221.43 185.74h0M221.06 183.22h0M225.66 192.99h0M218.92 187.29h0M224.94 186.33h0M218.49 188.67h0M226.72 188.07h0M220.07 187.02h0M217.31 187.65h0M227.41 190.68h0M223.23 188.93h0M221.84 188.14h0M221.59 188.23h0M221.84 188.31h0M225.73 187.75h0M219.35 189.1h0M222.71 186.51h0M225.31 185.63h0M226.49 189.25h0M221.29 185.99h0M223.11 185.45h0M223.98 186.9h0M219.99 189.44h0M221.96 188.98h0M222.11 187.07h0M225.18 190.28h0M226.7 187.75h0M228.25 186.92h0M218.88 185.56h0M217.8 188.65h0M223.61 187.71h0M224.26 187.52h0M222.7 186.98h0M223.63 184.87h0M227.59 191.8h0M223.61 193.71h0M220.4 190.14h0M218.32 189.37h0M221.12 190.41h0M223.87 190.27h0M225.45 189.17h0M222.63 191.94h0M224.65 189.06h0M228.09 187.13h0M229.08 190.62h0M223.76 184.03h0M227.4 186.99h0M223.82 188.12h0M226.56 189.45h0M217.68 186.09h0M224.63 188.25h0M226.05 189.28h0M228.71 185.93h0M227.68 188.8h0M224.47 189.58h0M222.44 189.66h0M222.84 189.68h0M221.08 190.86h0M218.65 186.1h0M223.36 188.43h0M220.97 186.76h0M224.33 190.53h0M227.65 186.57h0M223.3 186.99h0M218.65 186.64h0M227.13 184.31h0M229.04 188.28h0M228.59 186.31h0M227.57 189.78h0M226.02 189.75h0M225.39 189.5h0M227.33 188.91h0M225.53 188.92h0M223.96 185.54h0M217.79 185.17h0M219.56 183.96h0M225.72 186.95h0M225.99 186.6h0M224.73 187.28h0M224.43 193.23h0M228.63 191.13h0" stroke="#a8a8a8" stroke-opacity="0.45" stroke-width="1.2" stroke-linecap="round" fill="none" filter="url(#b4)"/>
<rect x="204.5" y="163.3" width="40.2" height="40.2" fill="none" stroke="#484848" stroke-width="1"/>
<path d="M263.03 194.14h0M268.58 193.65h0M263.28 179.19h0M268.77 186.8h0M270.93 177.51h0M263.81 182.88h0M272.18 184.55h0M260.83 192.27h0M274.25 180.82h0M266.29 185.89h0M272.99 193.35h0M273.09 194.32h0M268.84 196.83h0M274.34 194.63h0M260.46 181.71h0M271.86 186.6h0M271.91 190.09h0M270.62 191.13h0M259.22 185.96h0M274.41 199.31h0M274.11 182.22h0M268.96 188.18h0M269.32 176.54h0M266.4 192.17h0M256.58 179.07h0M262.57 191.48h0M270.14 183.31h0M265.56 187.97h0M266.03 180.65h0M265.8 190.99h0M264.52 187.34h0M265.79 183.25h0M265.13 190.97h0M275.61 193.77h0M263.24 195.58h0M272.57 189.45h0M273.82 183.84h0M259.13 174.36h0M267.91 178.86h0M273.83 190.03h0M267.45 187.43h0M269.94 181.82h0M264.87 188.99h0M266.56 185.48h0M268.04 189.04h0M262.13 188.89h0M265 194.28h0M274.04 180.43h0M260.59 177.32h0M274.72 183.35h0M260.46 188.41h0M271.19 185.92h0M266.34 186.67h0M266.15 183.76h0M263.37 184.58h0M270.56 199.14h0M271.12 181.46h0M259.34 180.34h0M270.45 185.69h0M263.94 182.32h0M266.42 190.31h0M263.46 184.92h0M266.58 191.26h0M254.84 185.22h0M261.95 180.56h0M266.45 183.02h0M260.79 185.97h0M270.07 191.66h0M262.91 178.74h0M265.71 187.9h0M265.36 183.31h0M258.33 188.88h0M275.27 186.66h0M270.65 191.04h0M260.78 185.83h0M265.19 182.94h0M266.7 187.62h0M264.14 185.79h0M266.66 187.49h0M271.23 186.43h0M260.69 180.21h0M272.35 193.65h0M270.75 185.32h0M265.54 177.27h0M263.9 181.28h0M259.98 179.25h0M257.38 181.75h0M272.73 180.68h0M263.81 185.06h0M266.69 191.21h0M265.99 184.68h0M264.37 187.58h0M264.35 183.05h0M269.1 186.3h0M257.58 186.44h0M272.65 186h0M279.46 193.29h0M264.11 181.52h0M265.17 194.39h0M272.32 195.03h0M265.5 189.39h0M265.61 180.78h0M269.26 189.94h0M271.67 184.43h0M273.07 183.04h0M271.83 191.13h0M265.57 182.24h0M259.44 188.24h0M266.55 187.77h0M266.69 177.92h0M269.86 186.39h0M266.4 192.76h0M264.99 188.11h0M267.39 188.43h0M263.94 185.24h0M269.18 189.09h0M269.66 179.75h0M257.01 187.23h0M271.36 192.5h0M269.19 187.65h0M267.59 193.23h0M265.05 186.72h0M277.03 185.83h0M264.44 180.54h0M262.92 179.96h0M264.35 181.57h0M273.38 185.01h0M263.38 191.98h0M272.11 183.53h0M260.57 188.02h0M267.97 183.47h0M273.42 187.99h0M259.82 183.78h0M269.43 184.69h0M266.07 192.73h0M272.29 192.15h0M267.96 190.62h0M254.65 185.67h0M265.78 181.87h0M266.28 179.75h0M272.67 191.88h0M270.24 177.92h0M268.26 187.42h0M262.49 181.74h0M256.19 180.63h0M259.67 182.92h0M274.51 180.03h0M263.83 179.44h0M269.28 192.5h0M265.06 195.44h0M267.47 183.77h0M261.29 174.68h0M272.73 186.54h0M259.94 186.06h0M279.34 186.64h0M269.62 188.95h0M272.82 189.84h0M262.19 191.09h0M263.02 185.53h0M270.75 189.34h0M269.94 192.62h0M276.78 184.83h0M261.24 183.08h0M268.47 197.08h0M269.71 184.35h0M268.08 175.17h0M262.97 186.52h0M271.62 181.47h0M266.63 186.55h0M258.96 188.38h0M265.93 192.6h0M270.86 183.97h0M269.08 195.57h0M268.63 179.61h0M273.09 188.64h0M261.82 181.23h0M272.38 186.8h0M264.29 190.39h0M275.91 184.94h0M265.15 196.18h0M272.07 190.75h0M274.1 183.15h0M266.05 182.38h0M277.47 196.35h0M257.1 188.16h0M278.58 186.83h0M271.67 180.14h0M279.75 191.72h0M268.78 190.5h0M274.64 187.38h0M272.46 189.88h0M269.1 190.01h0M278.18 188.78h0M258.37 182.71h0M264.31 188.38h0M261.05 181.62h0M258.66 179.56h0M265.41 195.96h0M261.84 187.72h0M277.2 189.4h0M271.84 179.24h0M261.58 184.34h0M258.27 176.55h0M266.24 195.06h0M260.4 184.22h0M264.93 189.16h0M263.69 187.72h0M265.61 179.04h0M272.06 180.1h0M274.12 191.63h0M265.23 179.4h0M262.14 182.85h0M262.72 188.12h0M261.85 181.32h0M261.37 178.36h0M274.31 192.62h0M271.83 190.68h0M264.73 178.82h0M260.66 182.87h0M272.73 197.35h0M262.12 182.77h0M259.99 187.55h0M258.21 183.3h0M262.75 179.64h0M267.66 188.08h0M267.18 186.33h0M263.4 182.52h0M269.91 183.3h0M269.48 190.01h0M259.4 187.85h0M270.55 177.67h0M274.65 191.29h0M273.04 194.99h0M259.32 186.61h0M266.55 192.1h0M262.47 192.37h0M272.88 189.9h0M260.03 179.8h0M270.76 183.73h0M261.51 191.1h0M261.34 188.53h0M265.8 179.2h0M272.39 190.5h0M265.03 191.35h0M279.21 189.98h0M269.38 190.25h0M262.21 193.65h0M267.98 183.66h0M276.23 182.14h0M271.92 185.41h0M271.23 185.73h0M270.53 188.27h0M262.01 185.41h0M276.07 184.68h0M261.78 180.01h0M261.12 189.63h0M273.48 195.68h0M273.66 190.67h0M259.58 181.61h0M264.76 191.98h0M269.3 178.31h0M264.69 187.56h0M267.83 184.06h0M268.24 186.49h0M278.27 188.63h0M256.72 176.38h0M273.5 182.73h0M265.62 188.13h0M267.91 189.37h0M268.21 178.36h0M273.04 189.93h0M255.53 185.89h0M256.27 182.73h0M264.85 192.58h0M272.65 181.09h0M267.81 184.55h0M269.25 187.47h0M273.91 185.13h0M266.22 182.5h0M274.76 182.77h0M255.09 182.13h0M264.53 190.65h0M266.66 187.92h0M267.55 190.03h0M261.76 180.82h0M266.13 179.64h0M262.97 189.65h0M273.62 188.93h0M255.24 183.33h0M272.34 195.85h0M268.33 191.44h0M272.76 198.94h0M278.01 189.39h0M264.7 184.39h0M257.23 175.6h0M267.34 186.44h0M266.65 185.44h0M270.12 180.29h0M272.66 191.97h0M268.89 188.54h0M268.55 177.68h0M264.11 187.3h0M264.27 188.74h0M264.29 182.13h0M268.28 187.09h0M263.46 192.52h0M264.73 185.3h0M262.28 185.66h0M270.7 185.23h0M266.14 177.99h0M265.34 185.99h0M265.15 184.1h0M267.19 188.12h0M275.56 196.98h0M272.06 187.99h0M262.05 186.95h0M266.4 181.72h0M258.94 180.94h0M265 188.2h0M266.95 178.47h0M272.57 191.87h0M274.79 186.38h0M265.49 191.53h0M268.02 198.94h0M261.78 174.62h0M267.17 181.58h0M268.76 183h0M260.13 179.87h0M270.31 184.64h0M271.56 182.38h0M266.68 184.06h0M265.21 184.37h0M265.31 176.28h0M260.76 185.47h0M265.55 179.13h0M277.78 194.91h0M268.18 181.91h0M272.74 195.28h0M263.36 193.44h0M266.77 175.43h0M271.26 193.3h0M262.11 187.12h0M260.44 193.05h0M259.81 182.15h0M269.16 194.27h0M266.71 183.68h0M262.84 187.11h0M265.67 184.39h0M272.61 191.03h0M268.81 187.4h0M274.41 179.06h0M261.4 183.68h0M266.04 181.64h0M266.54 179.92h0M256.88 180.07h0M269.64 183.54h0M262.02 188.23h0M271.03 192.65h0M269.62 195.51h0M262.37 187.36h0M265.49 190.09h0M261.67 195.39h0M259.84 182.2h0M265.84 183.06h0M267.24 186.46h0M275.78 194.36h0M264.98 191.54h0M277.74 190.3h0M272.99 183.49h0M265.05 193.88h0M265.52 183.33h0M271.64 193.69h0M272.64 188.81h0M266.84 183.97h0M279.76 188.7h0M259.6 189.75h0M270.39 182.57h0M269.06 187.02h0M264.98 187.88h0M275.93 185.12h0M263.32 192.83h0M260.89 180.2h0M259.31 183.68h0M264.1 181.65h0M263.67 186.38h0M265.28 175.81h0M263.71 192.29h0M263.36 185.82h0M268.15 188.29h0M268.88 184.68h0M262.07 189.76h0M265.22 193.21h0M263.22 183.77h0M268.32 179.12h0M272.53 189.83h0M272.98 182.85h0M266.34 185.1h0M261.97 188.45h0M269.01 189.26h0M269.76 186.18h0M264.6 182.45h0M262.71 181.42h0M262.96 190.11h0M264.18 184.75h0M269.05 184.41h0M272.64 180.21h0M274.56 189.78h0M272.95 180.2h0M274.15 184.79h0M277.27 189.25h0M261.41 185.64h0M274.31 183.38h0M262.75 187.12h0M260.34 190.18h0M263.11 183.99h0M268.01 197.16h0M266.44 189.81h0M265.74 184.9h0M263.08 185.41h0M274.6 187h0M261.3 181.5h0M276.26 196.63h0M267.96 187.12h0M261.27 176.51h0M279.92 190.67h0M274.99 193.04h0M271.87 187.43h0M264.29 185.33h0M269.18 181.41h0M263.68 187.66h0M262.2 184.4h0M260.25 180.83h0M259 184.09h0M260.03 184.07h0M256.81 178.17h0M275.28 188.77h0M270.26 183.88h0M267.04 191.52h0M268.44 196.6h0M275.95 190.04h0M266 189.06h0M272.42 182.89h0M276.73 194.35h0M267.14 191.86h0M261.2 178.9h0M267.4 191.23h0M280.07 188.51h0M266.03 191.73h0M267.59 176.57h0M269.95 186.31h0M267.37 185.49h0M265.56 187.21h0M264.67 184.1h0M267.26 180.98h0M271.61 185.3h0M269.87 188.99h0M270.52 193.67h0M257.41 177.38h0M270.04 190.05h0M263.79 190.67h0M274.91 184.97h0M264.31 190.62h0M272.14 182.81h0M268.99 192.34h0M272.22 192.5h0M264.89 190.18h0M256.09 187.69h0M268.4 189.26h0M268.27 192.9h0M269.23 183.35h0M268.48 194.1h0M271.08 186.16h0M270.83 183.73h0M266.07 196.43h0M264.71 180.81h0M256.96 175.52h0M260.14 181.13h0M266.03 185.66h0M268.9 185.14h0M267.93 186.91h0M264.67 182.23h0M268.63 179.43h0M273.19 179.89h0M269.87 188.93h0M264.14 191.49h0M273.3 189.44h0M264.92 192.45h0M265.13 187.26h0M272.64 184.86h0M269.83 186.53h0M264.44 186.98h0M273.35 186.42h0M266.56 184.77h0M261.26 183.6h0M268.49 183.18h0M272.05 190.63h0M261.77 180.99h0M265.27 186.82h0M274.8 192.6h0M267.82 190.54h0M265.83 187.02h0M262.64 187.02h0M257.04 188.57h0M265.32 187.34h0M273.22 181.54h0M272.16 185.43h0M269.53 186.05h0M270.86 179.98h0M262.58 178.67h0M261.12 182.63h0M259.57 181.01h0M272.32 186.49h0M263.6 181.01h0M266.4 195.16h0M277.43 196.78h0M269.55 190.13h0M270.6 182.72h0M261.71 188.97h0M275.92 190.78h0M265.8 188.38h0M272.27 179.42h0M271.89 184.61h0M267.82 183.09h0M261.25 177.77h0M261.3 186.34h0M277.24 191.17h0M270.63 188.48h0M278.43 191.67h0M271.94 187.67h0M268.19 184.54h0M266.31 186.13h0M263.23 184.8h0M258.09 183.59h0M268.62 175.65h0M272.36 189.2h0M261.51 187.44h0M260.54 193.38h0M273.97 183.48h0M266.89 181.93h0M260.14 191.28h0M267.55 190.64h0M264.67 184.13h0M264.33 182.64h0M266.64 178.64h0M275.99 187.26h0M272.55 178.3h0M273.66 186.03h0M266.17 190.11h0M265.11 179.22h0M260.05 183.72h0M265.23 191.59h0M263.16 176.74h0M268.05 184.49h0M264.96 192.06h0M270.44 184.39h0M269.33 183.86h0M257.77 190.25h0M264.41 196.22h0M266.33 185.41h0M260.14 181.68h0M268.42 192.41h0M261.08 181.69h0M273.23 189.17h0M272.27 188.05h0M269.05 184.54h0M262.64 176.87h0M268.94 186.39h0M269.02 184.52h0M272.07 190.03h0M270.65 186.73h0M273.89 192.23h0M274.44 183.04h0M262.8 184.72h0M265.58 175.36h0M271.79 180.46h0M271.05 193.14h0M261.6 189.49h0M267.74 179.31h0M271.54 190.84h0M262.61 189.26h0M264.34 188.3h0M264.39 191.75h0M271.42 187.47h0M275.73 192.25h0M279.88 190.05h0M265.28 193.79h0M263.66 186.52h0M261.29 190.73h0M267.64 189.44h0M277.59 186.25h0M270.12 190.29h0M273.43 192.67h0M270.32 189.22h0M264 180.35h0M270.69 181.1h0M268.5 184.76h0M276.91 194.11h0M267.47 187.56h0M275.91 184.1h0M266.02 179.67h0M271.92 193.07h0M260.76 185.63h0M256.23 187.26h0M264.52 186.42h0M260.77 193.45h0M262.8 181.94h0M263.86 185.42h0M264.65 187.27h0M276.61 187.93h0M259.63 188.37h0M266.54 192.67h0M266.74 180.49h0M262.3 180.8h0M259.22 183.97h0M262.09 185.37h0M256.56 182.66h0M267.35 193.09h0M271.77 191.28h0M276.25 192.75h0M262.52 193.22h0M264.94 184.56h0M267.81 188.49h0M262.7 189.22h0M279.04 195.17h0M261.52 178.32h0M264.6 175.85h0M258.6 185.73h0M265.6 189.92h0M263.27 189.82h0M260.89 189.48h0M270.8 191.51h0M263.64 176.08h0M271.92 184.18h0M266.9 185.35h0M276.21 190.56h0M269.37 185.66h0M262.05 184.81h0M276.67 186.06h0M266.24 189.25h0M263.43 180.51h0M269 187.8h0M276.87 189.88h0M264.25 187.45h0M267.66 185.5h0M265.3 187.61h0M274.35 186.38h0M266.51 178.57h0M275.48 182.1h0M265.54 188.45h0M267.12 184.93h0M270.91 185.26h0M265.72 184.92h0M256.15 180.52h0M266.35 189.61h0M261.82 186.62h0M262.37 187.33h0M271.76 195.09h0M259.92 180.41h0M255.72 188.9h0M272.39 183.11h0M255.38 184.45h0M260.94 183.6h0M266.08 184.71h0M265.03 184.75h0M277.99 190.98h0M268.15 190.78h0M267.53 179.79h0M260.94 184.7h0M264.62 191.09h0M268.62 188.81h0M266.53 187.63h0M265.23 189.31h0M259.46 186.59h0M275.47 193.83h0M273.86 185.16h0M272.43 182.13h0M271.92 191.43h0M268.79 195.64h0M260.93 186.25h0M264.91 188.19h0M262 186.07h0M265.38 194.59h0M266.28 186.27h0M270.21 188.43h0M260.48 177.15h0M270.55 189.98h0M274.25 183.32h0M268.35 191.38h0M272.54 197.13h0M266.61 181.33h0M263.26 179.86h0M262.61 190.7h0M275.09 194.57h0M270.69 188.89h0M259.12 182.7h0M268.93 177.75h0M258.22 188.17h0M257.07 186.25h0M260.73 180.26h0M271 187.66h0M262.45 182.33h0M273.27 196.72h0M266.32 189.68h0M268.69 196.84h0M268.77 182.43h0M262.17 182.47h0M265.73 185.41h0M259.12 188.58h0M265.57 180.06h0M265.02 177.55h0M261.88 176.37h0M263.76 188.09h0M257 180.13h0M266.66 186.21h0M255.01 178.55h0M266.75 193.85h0M261.73 189.77h0M270.55 183.86h0M266.59 192.59h0M268.46 187.71h0M263.8 187.96h0M257.33 179.52h0M262.56 179.02h0M264.17 192.03h0M270.17 183.45h0M265.56 181.26h0M272.08 182.51h0M271.19 191.06h0M264.52 185.59h0M260.86 182.11h0M265.08 192.56h0M279.17 193.78h0M271.66 185.72h0M264.05 191.35h0M271.37 188.7h0M273.18 198.16h0M273.02 192.7h0M274.3 192.4h0M271.39 190.92h0M272.25 181.3h0M270.19 193.31h0M263.91 184.12h0M268.11 191.78h0M255.91 188.7h0M272.42 192.53h0M267.31 188.71h0M260.23 190.19h0M265.61 181.78h0M271.24 180.12h0M276.22 187.41h0M271.64 197.09h0M279.19 194.03h0M267.18 183.78h0M274.09 187.3h0M266.75 187.7h0M279.86 193.04h0M270.17 193.27h0M275.23 186.98h0M271.47 191.85h0M265.07 182.08h0M263.89 193.64h0M271.01 190.04h0M270.4 177.64h0M271.84 187.06h0M264.23 186.12h0M257.27 176.94h0M257.54 190.91h0M262.9 190.2h0M267.47 176.54h0M272.81 189.68h0M256.94 184.28h0M275.44 183.05h0M259.46 192.77h0M272.26 182.48h0M258.41 187.78h0M272.52 196.28h0M256.87 182.65h0M264.75 181.1h0M261.13 188.27h0M267.87 191.23h0M266.69 182.86h0M274.68 189.66h0M263.95 187.44h0M263.04 189.46h0M267.92 191.72h0M266.49 180.74h0M266.59 194.63h0M273.26 191.15h0M271.91 178.12h0M274.77 187.52h0M272.78 187.45h0M272.87 185.63h0M263.17 195.2h0M273.72 183.6h0M262.79 183.55h0M275.49 186.13h0M268.05 176.61h0M275.19 196.14h0M270.36 186.72h0M275.04 197.93h0M262.62 190.69h0M271.17 188.53h0M265.36 185.07h0M279.04 188.19h0M256.52 181.36h0M267.71 197.03h0M275.22 184.06h0M270.83 191.26h0M267.5 176.19h0M259.16 179.7h0M259.48 181.94h0M264.27 188.36h0M274.75 187.56h0M262.83 187.67h0M260.54 187.4h0M267.22 192.85h0M261.54 186.78h0M265.41 186.55h0M272.34 187.72h0M261.62 185.73h0M260.97 178.9h0M268.83 191.86h0M258.68 181.52h0M257.33 184.93h0M271.38 186.29h0M265.13 184.26h0M260.35 188.27h0M270.71 186.11h0M274.21 183.87h0M269.14 186.29h0M264.55 183.84h0M273.36 182.48h0M273.27 188.32h0M263.41 194.47h0M256.18 187.72h0M259.01 191.99h0M259.53 186.67h0M260.11 188.65h0M270.58 192.15h0M259.5 186.66h0M272.81 184.53h0M270.61 188.73h0M269.99 182.6h0M265.36 190.86h0M260.29 185.76h0M257.77 178.66h0M271.82 184.48h0M272.49 182.67h0M275.24 196.88h0M275.84 188.39h0M256.29 175.95h0M274.46 192.36h0M271.65 193.57h0M265.3 192.11h0M265.71 182.49h0M271.14 193.48h0M268.25 180.28h0M272.28 190.41h0M259.43 182.23h0M260.05 185.23h0M265.04 184.28h0M261.95 191.59h0M269.39 187.66h0M260.65 187.47h0M262.41 185.06h0M266.75 191.37h0M270.14 191.36h0M274.25 198.62h0M266.63 179.96h0M259.29 188.4h0M256.52 187.45h0M271.33 186.52h0M262.7 181.83h0M271.19 189.9h0M270.16 190.61h0M275.51 191.12h0M270.44 182h0M269.08 181.64h0M260.63 179.04h0M265.8 175.84h0M267.11 190.45h0M269.44 187.51h0M262.87 183.93h0M263.82 181.96h0M270.04 187.6h0M256.13 183.18h0M266.09 182.45h0M264.77 184h0M265.25 187.33h0M265.41 197.66h0M257.35 176.75h0M262.23 183.51h0M262.14 182.43h0M268.71 187.82h0M266.13 190.17h0M262.3 181.79h0M269.13 194.84h0M274.79 188.09h0M260.69 187.32h0M266.25 187.8h0" stroke="#a8a8a8" stroke-opacity="0.4" stroke-width="1.2" stroke-linecap="round" fill="none" filter="url(#b4)"/>
<path d="M266.4 189.6h0M270.55 187.51h0M269.99 188.99h0M267.14 189.21h0M269.84 188.15h0M266.7 185.62h0M270.17 186.53h0M267.09 187.58h0M266.36 185.7h0M268.92 189.59h0M264.77 185.34h0M264.73 188.59h0M265.92 191.25h0M271.24 187.61h0M271.49 189.97h0M268.22 188.74h0M263.89 188.06h0M270.56 187.39h0M264.83 186.72h0M270.69 192.01h0M269.96 188.76h0M270.21 192h0M267.78 186.11h0M268.4 190.99h0M264.79 191.93h0M267.65 185.3h0M270.8 193.7h0M270.46 190.2h0M268.28 188.96h0M270.5 188.69h0M268.22 193.88h0M268.91 186.12h0M264.36 189.06h0M268.27 186.14h0M271.3 190.78h0M267.41 189.9h0M270.77 191.56h0M273.13 190.93h0M266.38 188.87h0M272.75 187.28h0M266.83 189.31h0M265.46 191.48h0M264.75 185.86h0M269.18 184.4h0M268.17 188.22h0M268.65 186.89h0M272.13 188.87h0M269.38 185.19h0M273.48 188.79h0M273.88 190.88h0M265.96 191.43h0M264.17 188.8h0M266.4 185.33h0M269.32 190.55h0M268.85 190.04h0M265.69 188.83h0M266.38 184.61h0M269.6 190.02h0M269.59 187.01h0M268.15 185.37h0M265.52 186.39h0M270.99 188.15h0M270.94 186.9h0M269.92 189.07h0M268.13 189.01h0M271.18 191.9h0M266.88 187.73h0M268.64 190.54h0M272.21 189.66h0M264.94 187.38h0M265.35 187.22h0M266.57 184.39h0M269.9 189.18h0M269.77 190.7h0M268.46 190.45h0M263.3 187.47h0M266.77 184.4h0M270.07 189.05h0M271.63 188.08h0M267.38 188.47h0M267.8 189.38h0M271.2 193.49h0M266.36 186.64h0M269.39 186.93h0M270.65 189.57h0M268.11 190.4h0M274.24 192.23h0M271.7 192.69h0M266.67 187.57h0M267.82 186.84h0M265.13 184.74h0M262.52 186.28h0M270.39 189.26h0M268.47 189.12h0M267.55 188.79h0M267.47 189.23h0M266.64 187.25h0M273.62 191.03h0M265.29 188.73h0M269.05 189.78h0M269.62 188.56h0M266.59 188.59h0M267.97 190.3h0M266.59 191.38h0M271.97 189.67h0M273.03 191.26h0M272.03 189.74h0M269.14 189.88h0M262.69 186.45h0M271.06 189.61h0M271.5 186.17h0M268.73 186.97h0M270.18 191.16h0M266.41 190.47h0M265.91 188.77h0M267.33 189.15h0M265.72 190.59h0M264.44 191.32h0M271.65 189.18h0M265.47 190.18h0M273.77 189.97h0M267.97 190.28h0M266.66 190.01h0M270.07 187.63h0M268.8 188.43h0M267.94 188.58h0M270.57 188.35h0M272.53 187.7h0M269.31 191.13h0M271.82 187.31h0M267.1 188.19h0M268.44 191.13h0M265.03 185.7h0M272.8 189.26h0M266.51 185.56h0M268.34 187.9h0M270.95 192.03h0M262.98 186.18h0M267.43 190.54h0M266.33 191.16h0M269.62 188.41h0M264.37 187.92h0M270.93 185.72h0M268.44 192.87h0M262.9 185.44h0M267.35 193.18h0M272.47 190.28h0M268.42 191.12h0M262.94 188.2h0M268.35 191.38h0M265.22 188.43h0M268.9 188.32h0M268.07 189.57h0M265.07 185.71h0M271.86 187.02h0M270.05 190.36h0M267.87 184.89h0M264.35 187.8h0M266.24 187.39h0M266.13 189.49h0M270 193.16h0M268.37 192.12h0M273.75 191.11h0M270.12 188.42h0M268.96 188.67h0M267.67 190.37h0M267.49 191.28h0M265.33 190.55h0M273.54 193.85h0M267.22 189.35h0M272.56 188.08h0M272.82 186.6h0M265.72 187.05h0M271.06 187.63h0M266.61 191.19h0M263.88 186.39h0M273.48 189.41h0M270.52 192.22h0M267.76 188.32h0M268.36 188.93h0M269.17 187.28h0M267.93 193.71h0M265.86 190.9h0M268.72 185.18h0M269.57 190.7h0M271.02 188.32h0M266.01 189.8h0M271.73 192.77h0M264.99 189.74h0M274.12 191.62h0M266.17 185.48h0M267.69 187.05h0M265.27 187.99h0M271.21 187.39h0M269.45 190.5h0M265.93 186.95h0M270.36 188.44h0M269.47 188.45h0M267.88 186.74h0M266.89 192.62h0" stroke="#a8a8a8" stroke-opacity="0.45" stroke-width="1.2" stroke-linecap="round" fill="none" filter="url(#b4)"/>
<path d="M273.14 172.52h0M273.36 170.51h0M273.52 172.16h0M272.72 173.23h0M274.02 172.05h0M272.67 172.73h0M272.75 171.44h0M273.07 173.45h0M273.29 172.21h0M273.24 173.06h0M273.42 173.32h0M273.43 173.34h0M273.28 171.56h0M274.02 172.17h0M273.11 174h0" stroke="#a8a8a8" stroke-opacity="0.35" stroke-width="1.2" stroke-linecap="round" fill="none" filter="url(#b4)"/>
<rect x="250.6" y="163.3" width="40.2" height="40.2" fill="none" stroke="#484848" stroke-width="1"/>
<line x1="197.5" y1="210.3" x2="197.5" y2="177" stroke="#111" stroke-width="0.9"/>
<polygon points="197.5,174.3 195.6,178.6 199.4,178.6" fill="#111"/>
<line x1="197" y1="209.8" x2="227" y2="209.8" stroke="#111" stroke-width="0.9"/>
<polygon points="230.2,209.8 225.9,207.9 225.9,211.7" fill="#111"/>
<text x="191.88" y="192" font-size="8.6" text-anchor="middle" transform="rotate(-90 191.88 192)" font-weight="bold" textLength="21.7" lengthAdjust="spacingAndGlyphs" fill="#222" stroke="#222">UMAP2</text>
<text x="213.55" y="220.48" font-size="8.6" text-anchor="middle" font-weight="bold" fill="#222" stroke="#222" textLength="19.7" lengthAdjust="spacingAndGlyphs">UMAP1</text>
<text x="335.3" y="15.52" font-size="10.4" text-anchor="start" font-weight="bold" fill="#111" stroke="#111">C</text>
<line x1="368" y1="49" x2="368" y2="163.7" stroke="#333" stroke-width="1.1"/>
<line x1="367.5" y1="163.2" x2="513.5" y2="163.2" stroke="#333" stroke-width="1.1"/>
<line x1="364.5" y1="157.8" x2="368" y2="157.8" stroke="#333" stroke-width="0.8"/>
<text x="362.6" y="160.41" font-size="7.3" text-anchor="end" fill="#222" stroke="#222">0</text>
<line x1="364.5" y1="125.6" x2="368" y2="125.6" stroke="#333" stroke-width="0.8"/>
<text x="362.6" y="128.21" font-size="7.3" text-anchor="end" fill="#222" stroke="#222">5K</text>
<line x1="364.5" y1="93.4" x2="368" y2="93.4" stroke="#333" stroke-width="0.8"/>
<text x="362.6" y="96.01" font-size="7.3" text-anchor="end" fill="#222" stroke="#222">10K</text>
<line x1="364.5" y1="61.2" x2="368" y2="61.2" stroke="#333" stroke-width="0.8"/>
<text x="362.6" y="63.81" font-size="7.3" text-anchor="end" fill="#222" stroke="#222">15K</text>
<line x1="368.5" y1="157.8" x2="512" y2="157.8" stroke="#d8d8d8" stroke-width="0.8"/>
<line x1="385.8" y1="163.2" x2="385.8" y2="165.7" stroke="#333" stroke-width="0.8"/>
<text x="385.8" y="175.91" font-size="7.3" text-anchor="middle" fill="#222" stroke="#222">14</text>
<line x1="422.3" y1="163.2" x2="422.3" y2="165.7" stroke="#333" stroke-width="0.8"/>
<text x="422.3" y="175.91" font-size="7.3" text-anchor="middle" fill="#222" stroke="#222">30</text>
<line x1="459" y1="163.2" x2="459" y2="165.7" stroke="#333" stroke-width="0.8"/>
<text x="459" y="175.91" font-size="7.3" text-anchor="middle" fill="#222" stroke="#222">90</text>
<line x1="495.5" y1="163.2" x2="495.5" y2="165.7" stroke="#333" stroke-width="0.8"/>
<text x="495.5" y="175.91" font-size="7.3" text-anchor="middle" fill="#222" stroke="#222">180</text>
<text x="440.65" y="188.19" font-size="8.9" text-anchor="middle" fill="#222" stroke="#222" style="stroke-width:0.35px" textLength="32.7" lengthAdjust="spacingAndGlyphs">Time (days)</text>
<text x="341.81" y="106.4" font-size="8.4" text-anchor="middle" transform="rotate(-90 341.81 106.4)" textLength="52" lengthAdjust="spacingAndGlyphs" style="stroke-width:0.35px" fill="#222" stroke="#222">CAR-T cell number</text>
<rect x="490.4" y="54.2" width="4.2" height="4.2" fill="#2BA3DA" stroke="none" stroke-width="1"/>
<text x="497.8" y="58.95" font-size="7.4" text-anchor="start" fill="#333" stroke="#333">TR</text>
<rect x="490.4" y="64.5" width="4.2" height="4.2" fill="#E89A2A" stroke="none" stroke-width="1"/>
<text x="497.8" y="69.25" font-size="7.4" text-anchor="start" fill="#333" stroke="#333">DR</text>
<line x1="378.9" y1="100.8" x2="378.9" y2="120" stroke="#333" stroke-width="0.9"/>
<line x1="378.9" y1="133.9" x2="378.9" y2="148.8" stroke="#333" stroke-width="0.9"/>
<line x1="375.4" y1="100.8" x2="382.4" y2="100.8" stroke="#333" stroke-width="0.9"/>
<line x1="375.4" y1="148.8" x2="382.4" y2="148.8" stroke="#333" stroke-width="0.9"/>
<rect x="372" y="120" width="13.8" height="13.9" fill="#2AA9E0" stroke="none" stroke-width="1"/>
<line x1="372" y1="126.8" x2="385.8" y2="126.8" stroke="#1b2633" stroke-width="1.4"/>
<circle cx="379" cy="100.8" r="1.15" fill="#777" stroke="#444" stroke-width="0.3" fill-opacity="0.75"/>
<circle cx="379" cy="119.8" r="1.15" fill="#777" stroke="#444" stroke-width="0.3" fill-opacity="0.75"/>
<circle cx="379" cy="126.5" r="1.15" fill="#777" stroke="#444" stroke-width="0.3" fill-opacity="0.75"/>
<circle cx="378.2" cy="133.5" r="1.15" fill="#777" stroke="#444" stroke-width="0.3" fill-opacity="0.75"/>
<circle cx="379" cy="148.6" r="1.15" fill="#777" stroke="#444" stroke-width="0.3" fill-opacity="0.75"/>
<line x1="393.4" y1="110" x2="393.4" y2="113.2" stroke="#333" stroke-width="0.9"/>
<line x1="393.4" y1="122.7" x2="393.4" y2="122.7" stroke="#333" stroke-width="0.9"/>
<line x1="389.9" y1="110" x2="396.9" y2="110" stroke="#333" stroke-width="0.9"/>
<line x1="389.9" y1="122.7" x2="396.9" y2="122.7" stroke="#333" stroke-width="0.9"/>
<rect x="386.5" y="113.2" width="13.8" height="9.5" fill="#F7941D" stroke="none" stroke-width="1"/>
<line x1="386.5" y1="113.6" x2="400.3" y2="113.6" stroke="#1b2633" stroke-width="1.4"/>
<circle cx="393.5" cy="110" r="1.15" fill="#777" stroke="#444" stroke-width="0.3" fill-opacity="0.75"/>
<circle cx="394" cy="112.8" r="1.15" fill="#777" stroke="#444" stroke-width="0.3" fill-opacity="0.75"/>
<circle cx="393.8" cy="149.2" r="1.15" fill="#888" stroke="#555" stroke-width="0.3"/>
<circle cx="416.2" cy="53.8" r="1.15" fill="#888" stroke="#555" stroke-width="0.3"/>
<line x1="415.1" y1="130.2" x2="415.1" y2="132" stroke="#333" stroke-width="0.9"/>
<line x1="415.1" y1="153.5" x2="415.1" y2="157.8" stroke="#333" stroke-width="0.9"/>
<line x1="411.6" y1="130.2" x2="418.6" y2="130.2" stroke="#333" stroke-width="0.9"/>
<line x1="411.6" y1="157.8" x2="418.6" y2="157.8" stroke="#333" stroke-width="0.9"/>
<rect x="408.2" y="132" width="13.8" height="21.5" fill="#2AA9E0" stroke="none" stroke-width="1"/>
<line x1="408.2" y1="143.2" x2="422" y2="143.2" stroke="#1b2633" stroke-width="1.4"/>
<circle cx="415" cy="130.5" r="1.15" fill="#777" stroke="#444" stroke-width="0.3" fill-opacity="0.75"/>
<circle cx="415.5" cy="132.3" r="1.15" fill="#777" stroke="#444" stroke-width="0.3" fill-opacity="0.75"/>
<circle cx="415.5" cy="152.5" r="1.15" fill="#777" stroke="#444" stroke-width="0.3" fill-opacity="0.75"/>
<circle cx="414" cy="157.6" r="1.15" fill="#777" stroke="#444" stroke-width="0.3" fill-opacity="0.75"/>
<circle cx="416" cy="157.6" r="1.15" fill="#777" stroke="#444" stroke-width="0.3" fill-opacity="0.75"/>
<line x1="429.6" y1="102" x2="429.6" y2="117.6" stroke="#333" stroke-width="0.9"/>
<line x1="429.6" y1="155.8" x2="429.6" y2="157.8" stroke="#333" stroke-width="0.9"/>
<line x1="426.1" y1="102" x2="433.1" y2="102" stroke="#333" stroke-width="0.9"/>
<line x1="426.1" y1="157.8" x2="433.1" y2="157.8" stroke="#333" stroke-width="0.9"/>
<rect x="422.6" y="117.6" width="14" height="38.2" fill="#F7941D" stroke="none" stroke-width="1"/>
<line x1="422.6" y1="138.8" x2="436.6" y2="138.8" stroke="#1b2633" stroke-width="1.4"/>
<circle cx="431.5" cy="121.5" r="1.15" fill="#777" stroke="#444" stroke-width="0.3" fill-opacity="0.75"/>
<circle cx="429.5" cy="155.5" r="1.15" fill="#777" stroke="#444" stroke-width="0.3" fill-opacity="0.75"/>
<circle cx="430" cy="157.6" r="1.15" fill="#777" stroke="#444" stroke-width="0.3" fill-opacity="0.75"/>
<line x1="444" y1="157.5" x2="459" y2="157.5" stroke="#333" stroke-width="1.4"/>
<circle cx="449.7" cy="156.8" r="0.8" fill="#444"/>
<circle cx="453" cy="157.5" r="0.8" fill="#444"/>
<line x1="466.15" y1="116.8" x2="466.15" y2="137.6" stroke="#333" stroke-width="0.9"/>
<line x1="466.15" y1="155.6" x2="466.15" y2="157.6" stroke="#333" stroke-width="0.9"/>
<line x1="462.65" y1="116.8" x2="469.65" y2="116.8" stroke="#333" stroke-width="0.9"/>
<line x1="462.65" y1="157.6" x2="469.65" y2="157.6" stroke="#333" stroke-width="0.9"/>
<rect x="459.2" y="137.6" width="13.9" height="18" fill="#F7941D" stroke="none" stroke-width="1"/>
<line x1="459.2" y1="151.2" x2="473.1" y2="151.2" stroke="#1b2633" stroke-width="1.4"/>
<circle cx="468.5" cy="132.7" r="1.15" fill="#777" stroke="#444" stroke-width="0.3" fill-opacity="0.75"/>
<circle cx="465.7" cy="148.7" r="1.15" fill="#777" stroke="#444" stroke-width="0.3" fill-opacity="0.75"/>
<circle cx="468.5" cy="152.6" r="1.15" fill="#777" stroke="#444" stroke-width="0.3" fill-opacity="0.75"/>
<circle cx="464.5" cy="157.2" r="1.15" fill="#777" stroke="#444" stroke-width="0.3" fill-opacity="0.75"/>
<circle cx="467.5" cy="157.3" r="1.15" fill="#777" stroke="#444" stroke-width="0.3" fill-opacity="0.75"/>
<line x1="451.8" y1="98.8" x2="465.2" y2="98.8" stroke="#333" stroke-width="0.9"/>
<circle cx="458.7" cy="95.3" r="0.85" fill="#222"/>
<line x1="480.8" y1="157.6" x2="495.2" y2="157.6" stroke="#333" stroke-width="1.3"/>
<line x1="495.5" y1="157.6" x2="509.9" y2="157.6" stroke="#444" stroke-width="1.1"/>
<circle cx="487.5" cy="157" r="0.8" fill="#444"/>
<circle cx="501.4" cy="157.3" r="0.7" fill="#444"/>
<text x="6.8" y="246.52" font-size="10.4" text-anchor="start" font-weight="bold" fill="#111" stroke="#111">D</text>
<text x="107.4" y="264.34" font-size="8.5" text-anchor="middle" fill="#222" stroke="#222">All CAR-T</text>
<line x1="34.4" y1="270.6" x2="34.4" y2="367.8" stroke="#333" stroke-width="1"/>
<line x1="33.9" y1="367.3" x2="180.4" y2="367.3" stroke="#333" stroke-width="1"/>
<line x1="31.3" y1="367.3" x2="34.4" y2="367.3" stroke="#333" stroke-width="0.8"/>
<text x="28.6" y="370.06" font-size="7.7" text-anchor="end" fill="#222" stroke="#222">0</text>
<line x1="31.3" y1="351.5" x2="34.4" y2="351.5" stroke="#333" stroke-width="0.8"/>
<text x="28.6" y="354.26" font-size="7.7" text-anchor="end" fill="#222" stroke="#222">10</text>
<line x1="31.3" y1="335.7" x2="34.4" y2="335.7" stroke="#333" stroke-width="0.8"/>
<text x="28.6" y="338.46" font-size="7.7" text-anchor="end" fill="#222" stroke="#222">20</text>
<line x1="31.3" y1="319.9" x2="34.4" y2="319.9" stroke="#333" stroke-width="0.8"/>
<text x="28.6" y="322.66" font-size="7.7" text-anchor="end" fill="#222" stroke="#222">30</text>
<line x1="31.3" y1="304.1" x2="34.4" y2="304.1" stroke="#333" stroke-width="0.8"/>
<text x="28.6" y="306.86" font-size="7.7" text-anchor="end" fill="#222" stroke="#222">40</text>
<line x1="31.3" y1="288.3" x2="34.4" y2="288.3" stroke="#333" stroke-width="0.8"/>
<text x="28.6" y="291.06" font-size="7.7" text-anchor="end" fill="#222" stroke="#222">50</text>
<line x1="31.3" y1="272.5" x2="34.4" y2="272.5" stroke="#333" stroke-width="0.8"/>
<text x="28.6" y="275.26" font-size="7.7" text-anchor="end" fill="#222" stroke="#222">60</text>
<text x="13.68" y="318.4" font-size="8.6" text-anchor="middle" transform="rotate(-90 13.68 318.4)" textLength="52" lengthAdjust="spacingAndGlyphs" style="stroke-width:0.35px" fill="#222" stroke="#222">Cell frequency (%)</text>
<rect x="160.6" y="274.2" width="4.2" height="4.2" fill="#2BA3DA" stroke="none" stroke-width="1"/>
<text x="167.8" y="278.95" font-size="7.4" text-anchor="start" fill="#333" stroke="#333">TR</text>
<rect x="160.6" y="284.9" width="4.2" height="4.2" fill="#E89A2A" stroke="none" stroke-width="1"/>
<text x="167.8" y="289.65" font-size="7.4" text-anchor="start" fill="#333" stroke="#333">DR</text>
<rect x="35.5" y="351.97" width="4.3" height="15.33" fill="#2AA5DD" stroke="none" stroke-width="1"/>
<rect x="39.8" y="348.34" width="4.3" height="18.96" fill="#F39A2B" stroke="none" stroke-width="1"/>
<line x1="37.65" y1="351.97" x2="37.65" y2="345.97" stroke="#444" stroke-width="0.6"/>
<line x1="36.65" y1="345.97" x2="38.65" y2="345.97" stroke="#444" stroke-width="0.6"/>
<line x1="41.95" y1="348.34" x2="41.95" y2="342.02" stroke="#444" stroke-width="0.6"/>
<line x1="40.95" y1="342.02" x2="42.95" y2="342.02" stroke="#444" stroke-width="0.6"/>
<circle cx="37.96" cy="335.7" r="0.7" fill="#333" fill-opacity="0.75"/>
<circle cx="37.17" cy="346.76" r="0.7" fill="#333" fill-opacity="0.75"/>
<circle cx="37.77" cy="357.82" r="0.7" fill="#333" fill-opacity="0.75"/>
<circle cx="38.36" cy="365.72" r="0.7" fill="#333" fill-opacity="0.75"/>
<circle cx="37.89" cy="355.48" r="0.7" fill="#333" fill-opacity="0.75"/>
<circle cx="38.33" cy="360.55" r="0.7" fill="#333" fill-opacity="0.75"/>
<circle cx="37.36" cy="360.87" r="0.7" fill="#333" fill-opacity="0.75"/>
<circle cx="37.26" cy="354.6" r="0.7" fill="#333" fill-opacity="0.75"/>
<circle cx="42.03" cy="313.58" r="0.7" fill="#333" fill-opacity="0.75"/>
<circle cx="41.7" cy="330.96" r="0.7" fill="#333" fill-opacity="0.75"/>
<circle cx="41.99" cy="348.34" r="0.7" fill="#333" fill-opacity="0.75"/>
<circle cx="41.51" cy="354.66" r="0.7" fill="#333" fill-opacity="0.75"/>
<circle cx="41.42" cy="360.98" r="0.7" fill="#333" fill-opacity="0.75"/>
<circle cx="42.15" cy="357.68" r="0.7" fill="#333" fill-opacity="0.75"/>
<circle cx="41.25" cy="349.95" r="0.7" fill="#333" fill-opacity="0.75"/>
<circle cx="41.46" cy="348.1" r="0.7" fill="#333" fill-opacity="0.75"/>
<circle cx="41.21" cy="361.73" r="0.7" fill="#333" fill-opacity="0.75"/>
<line x1="39.8" y1="367.3" x2="39.8" y2="369.6" stroke="#333" stroke-width="0.7"/>
<text x="42.37" y="372.6" font-size="7.75" text-anchor="end" transform="rotate(-90 42.37 372.6)" fill="#222" stroke="#222">CD4 Tem</text>
<rect x="45.9" y="362.88" width="4.3" height="4.42" fill="#2AA5DD" stroke="none" stroke-width="1"/>
<rect x="50.2" y="349.92" width="4.3" height="17.38" fill="#F39A2B" stroke="none" stroke-width="1"/>
<line x1="48.05" y1="362.88" x2="48.05" y2="361.77" stroke="#444" stroke-width="0.6"/>
<line x1="47.05" y1="361.77" x2="49.05" y2="361.77" stroke="#444" stroke-width="0.6"/>
<line x1="52.35" y1="349.92" x2="52.35" y2="342.02" stroke="#444" stroke-width="0.6"/>
<line x1="51.35" y1="342.02" x2="53.35" y2="342.02" stroke="#444" stroke-width="0.6"/>
<circle cx="48.09" cy="362.56" r="0.7" fill="#333" fill-opacity="0.75"/>
<circle cx="47.99" cy="365.72" r="0.7" fill="#333" fill-opacity="0.75"/>
<circle cx="52.04" cy="319.9" r="0.7" fill="#333" fill-opacity="0.75"/>
<circle cx="52.38" cy="342.02" r="0.7" fill="#333" fill-opacity="0.75"/>
<circle cx="52.85" cy="354.66" r="0.7" fill="#333" fill-opacity="0.75"/>
<circle cx="52.1" cy="364.14" r="0.7" fill="#333" fill-opacity="0.75"/>
<circle cx="51.7" cy="353.31" r="0.7" fill="#333" fill-opacity="0.75"/>
<circle cx="51.78" cy="362.09" r="0.7" fill="#333" fill-opacity="0.75"/>
<circle cx="52.71" cy="360.17" r="0.7" fill="#333" fill-opacity="0.75"/>
<circle cx="52.31" cy="350.55" r="0.7" fill="#333" fill-opacity="0.75"/>
<line x1="50.2" y1="367.3" x2="50.2" y2="369.6" stroke="#333" stroke-width="0.7"/>
<text x="52.77" y="372.6" font-size="7.75" text-anchor="end" transform="rotate(-90 52.77 372.6)" fill="#222" stroke="#222">CD4 Tnaive</text>
<rect x="56.3" y="330.96" width="4.3" height="36.34" fill="#2AA5DD" stroke="none" stroke-width="1"/>
<rect x="60.6" y="317.69" width="4.3" height="49.61" fill="#F39A2B" stroke="none" stroke-width="1"/>
<line x1="58.45" y1="330.96" x2="58.45" y2="324.64" stroke="#444" stroke-width="0.6"/>
<line x1="57.45" y1="324.64" x2="59.45" y2="324.64" stroke="#444" stroke-width="0.6"/>
<line x1="62.75" y1="317.69" x2="62.75" y2="305.68" stroke="#444" stroke-width="0.6"/>
<line x1="61.75" y1="305.68" x2="63.75" y2="305.68" stroke="#444" stroke-width="0.6"/>
<circle cx="58.36" cy="308.84" r="0.7" fill="#333" fill-opacity="0.75"/>
<circle cx="58.32" cy="315.16" r="0.7" fill="#333" fill-opacity="0.75"/>
<circle cx="57.7" cy="327.8" r="0.7" fill="#333" fill-opacity="0.75"/>
<circle cx="59.32" cy="335.7" r="0.7" fill="#333" fill-opacity="0.75"/>
<circle cx="58.27" cy="359.4" r="0.7" fill="#333" fill-opacity="0.75"/>
<circle cx="58.2" cy="329.74" r="0.7" fill="#333" fill-opacity="0.75"/>
<circle cx="57.78" cy="354.23" r="0.7" fill="#333" fill-opacity="0.75"/>
<circle cx="57.82" cy="337.21" r="0.7" fill="#333" fill-opacity="0.75"/>
<circle cx="57.88" cy="348.4" r="0.7" fill="#333" fill-opacity="0.75"/>
<circle cx="61.98" cy="305.68" r="0.7" fill="#333" fill-opacity="0.75"/>
<circle cx="62.84" cy="310.42" r="0.7" fill="#333" fill-opacity="0.75"/>
<circle cx="63.01" cy="319.9" r="0.7" fill="#333" fill-opacity="0.75"/>
<circle cx="63.38" cy="332.54" r="0.7" fill="#333" fill-opacity="0.75"/>
<circle cx="62.32" cy="343.6" r="0.7" fill="#333" fill-opacity="0.75"/>
<circle cx="63.3" cy="346.56" r="0.7" fill="#333" fill-opacity="0.75"/>
<circle cx="63.2" cy="326.05" r="0.7" fill="#333" fill-opacity="0.75"/>
<circle cx="61.95" cy="344.77" r="0.7" fill="#333" fill-opacity="0.75"/>
<circle cx="62.21" cy="349.43" r="0.7" fill="#333" fill-opacity="0.75"/>
<line x1="60.6" y1="367.3" x2="60.6" y2="369.6" stroke="#333" stroke-width="0.7"/>
<text x="63.17" y="372.6" font-size="7.75" text-anchor="end" transform="rotate(-90 63.17 372.6)" fill="#222" stroke="#222">CD8 GZMB+ Teff</text>
<rect x="66.7" y="363.82" width="4.3" height="3.48" fill="#2AA5DD" stroke="none" stroke-width="1"/>
<rect x="71" y="355.61" width="4.3" height="11.69" fill="#F39A2B" stroke="none" stroke-width="1"/>
<line x1="68.85" y1="363.82" x2="68.85" y2="362.88" stroke="#444" stroke-width="0.6"/>
<line x1="67.85" y1="362.88" x2="69.85" y2="362.88" stroke="#444" stroke-width="0.6"/>
<line x1="73.15" y1="355.61" x2="73.15" y2="349.13" stroke="#444" stroke-width="0.6"/>
<line x1="72.15" y1="349.13" x2="74.15" y2="349.13" stroke="#444" stroke-width="0.6"/>
<circle cx="68.39" cy="364.14" r="0.7" fill="#333" fill-opacity="0.75"/>
<circle cx="68.24" cy="365.72" r="0.7" fill="#333" fill-opacity="0.75"/>
<circle cx="73.38" cy="330.96" r="0.7" fill="#333" fill-opacity="0.75"/>
<circle cx="73.02" cy="349.92" r="0.7" fill="#333" fill-opacity="0.75"/>
<circle cx="73.95" cy="357.82" r="0.7" fill="#333" fill-opacity="0.75"/>
<circle cx="73.76" cy="364.14" r="0.7" fill="#333" fill-opacity="0.75"/>
<circle cx="72.76" cy="363.31" r="0.7" fill="#333" fill-opacity="0.75"/>
<circle cx="72.74" cy="355.87" r="0.7" fill="#333" fill-opacity="0.75"/>
<circle cx="73.15" cy="357.25" r="0.7" fill="#333" fill-opacity="0.75"/>
<circle cx="72.98" cy="364.85" r="0.7" fill="#333" fill-opacity="0.75"/>
<line x1="71" y1="367.3" x2="71" y2="369.6" stroke="#333" stroke-width="0.7"/>
<text x="73.57" y="372.6" font-size="7.75" text-anchor="end" transform="rotate(-90 73.57 372.6)" fill="#222" stroke="#222">CD8 GZMB+ Tem</text>
<rect x="77.1" y="336.96" width="4.3" height="30.34" fill="#2AA5DD" stroke="none" stroke-width="1"/>
<rect x="81.4" y="345.97" width="4.3" height="21.33" fill="#F39A2B" stroke="none" stroke-width="1"/>
<line x1="79.25" y1="336.96" x2="79.25" y2="330.17" stroke="#444" stroke-width="0.6"/>
<line x1="78.25" y1="330.17" x2="80.25" y2="330.17" stroke="#444" stroke-width="0.6"/>
<line x1="83.55" y1="345.97" x2="83.55" y2="342.02" stroke="#444" stroke-width="0.6"/>
<line x1="82.55" y1="342.02" x2="84.55" y2="342.02" stroke="#444" stroke-width="0.6"/>
<circle cx="80.08" cy="329.38" r="0.7" fill="#333" fill-opacity="0.75"/>
<circle cx="79.96" cy="334.12" r="0.7" fill="#333" fill-opacity="0.75"/>
<circle cx="80.12" cy="342.02" r="0.7" fill="#333" fill-opacity="0.75"/>
<circle cx="79.15" cy="348.34" r="0.7" fill="#333" fill-opacity="0.75"/>
<circle cx="79.74" cy="360.98" r="0.7" fill="#333" fill-opacity="0.75"/>
<circle cx="79.85" cy="339.85" r="0.7" fill="#333" fill-opacity="0.75"/>
<circle cx="78.89" cy="357.2" r="0.7" fill="#333" fill-opacity="0.75"/>
<circle cx="79.17" cy="337.77" r="0.7" fill="#333" fill-opacity="0.75"/>
<circle cx="80.01" cy="345.78" r="0.7" fill="#333" fill-opacity="0.75"/>
<circle cx="84.06" cy="326.22" r="0.7" fill="#333" fill-opacity="0.75"/>
<circle cx="83.2" cy="342.02" r="0.7" fill="#333" fill-opacity="0.75"/>
<circle cx="84.04" cy="346.76" r="0.7" fill="#333" fill-opacity="0.75"/>
<circle cx="82.86" cy="353.08" r="0.7" fill="#333" fill-opacity="0.75"/>
<circle cx="83.36" cy="356.13" r="0.7" fill="#333" fill-opacity="0.75"/>
<circle cx="83.68" cy="344.5" r="0.7" fill="#333" fill-opacity="0.75"/>
<circle cx="83.2" cy="357.04" r="0.7" fill="#333" fill-opacity="0.75"/>
<circle cx="82.67" cy="348.48" r="0.7" fill="#333" fill-opacity="0.75"/>
<line x1="81.4" y1="367.3" x2="81.4" y2="369.6" stroke="#333" stroke-width="0.7"/>
<text x="83.97" y="372.6" font-size="7.75" text-anchor="end" transform="rotate(-90 83.97 372.6)" fill="#222" stroke="#222">CD8 GZMK+ Trm</text>
<rect x="87.5" y="359.4" width="4.3" height="7.9" fill="#2AA5DD" stroke="none" stroke-width="1"/>
<rect x="91.8" y="362.88" width="4.3" height="4.42" fill="#F39A2B" stroke="none" stroke-width="1"/>
<line x1="89.65" y1="359.4" x2="89.65" y2="353.87" stroke="#444" stroke-width="0.6"/>
<line x1="88.65" y1="353.87" x2="90.65" y2="353.87" stroke="#444" stroke-width="0.6"/>
<line x1="93.95" y1="362.88" x2="93.95" y2="360.19" stroke="#444" stroke-width="0.6"/>
<line x1="92.95" y1="360.19" x2="94.95" y2="360.19" stroke="#444" stroke-width="0.6"/>
<circle cx="88.88" cy="346.76" r="0.7" fill="#333" fill-opacity="0.75"/>
<circle cx="88.83" cy="354.66" r="0.7" fill="#333" fill-opacity="0.75"/>
<circle cx="89.73" cy="362.56" r="0.7" fill="#333" fill-opacity="0.75"/>
<circle cx="88.82" cy="361.8" r="0.7" fill="#333" fill-opacity="0.75"/>
<circle cx="89.12" cy="361.51" r="0.7" fill="#333" fill-opacity="0.75"/>
<circle cx="89.65" cy="361.15" r="0.7" fill="#333" fill-opacity="0.75"/>
<circle cx="89.43" cy="364.87" r="0.7" fill="#333" fill-opacity="0.75"/>
<circle cx="94.28" cy="354.66" r="0.7" fill="#333" fill-opacity="0.75"/>
<circle cx="93.29" cy="360.98" r="0.7" fill="#333" fill-opacity="0.75"/>
<circle cx="93.98" cy="364.14" r="0.7" fill="#333" fill-opacity="0.75"/>
<line x1="91.8" y1="367.3" x2="91.8" y2="369.6" stroke="#333" stroke-width="0.7"/>
<text x="94.37" y="372.6" font-size="7.75" text-anchor="end" transform="rotate(-90 94.37 372.6)" fill="#222" stroke="#222">CD8 Tnaive</text>
<rect x="97.9" y="327.48" width="4.3" height="39.82" fill="#2AA5DD" stroke="none" stroke-width="1"/>
<rect x="102.2" y="336.02" width="4.3" height="31.28" fill="#F39A2B" stroke="none" stroke-width="1"/>
<line x1="100.05" y1="327.48" x2="100.05" y2="321.48" stroke="#444" stroke-width="0.6"/>
<line x1="99.05" y1="321.48" x2="101.05" y2="321.48" stroke="#444" stroke-width="0.6"/>
<line x1="104.35" y1="336.02" x2="104.35" y2="324.64" stroke="#444" stroke-width="0.6"/>
<line x1="103.35" y1="324.64" x2="105.35" y2="324.64" stroke="#444" stroke-width="0.6"/>
<circle cx="100.77" cy="308.84" r="0.7" fill="#333" fill-opacity="0.75"/>
<circle cx="99.78" cy="319.9" r="0.7" fill="#333" fill-opacity="0.75"/>
<circle cx="99.68" cy="327.8" r="0.7" fill="#333" fill-opacity="0.75"/>
<circle cx="100.6" cy="335.7" r="0.7" fill="#333" fill-opacity="0.75"/>
<circle cx="100.15" cy="354.66" r="0.7" fill="#333" fill-opacity="0.75"/>
<circle cx="100.22" cy="345.36" r="0.7" fill="#333" fill-opacity="0.75"/>
<circle cx="100.43" cy="353.93" r="0.7" fill="#333" fill-opacity="0.75"/>
<circle cx="100.09" cy="326.95" r="0.7" fill="#333" fill-opacity="0.75"/>
<circle cx="100.63" cy="326.06" r="0.7" fill="#333" fill-opacity="0.75"/>
<circle cx="104.45" cy="283.56" r="0.7" fill="#333" fill-opacity="0.75"/>
<circle cx="104.78" cy="319.9" r="0.7" fill="#333" fill-opacity="0.75"/>
<circle cx="103.47" cy="332.54" r="0.7" fill="#333" fill-opacity="0.75"/>
<circle cx="104.32" cy="348.34" r="0.7" fill="#333" fill-opacity="0.75"/>
<circle cx="105.08" cy="359.4" r="0.7" fill="#333" fill-opacity="0.75"/>
<circle cx="104.33" cy="333.94" r="0.7" fill="#333" fill-opacity="0.75"/>
<circle cx="104.7" cy="355.14" r="0.7" fill="#333" fill-opacity="0.75"/>
<circle cx="104.41" cy="361.88" r="0.7" fill="#333" fill-opacity="0.75"/>
<circle cx="105.13" cy="341.89" r="0.7" fill="#333" fill-opacity="0.75"/>
<line x1="102.2" y1="367.3" x2="102.2" y2="369.6" stroke="#333" stroke-width="0.7"/>
<text x="104.77" y="372.6" font-size="7.75" text-anchor="end" transform="rotate(-90 104.77 372.6)" fill="#222" stroke="#222">GNLY+ T</text>
<rect x="108.3" y="364.14" width="4.3" height="3.16" fill="#2AA5DD" stroke="none" stroke-width="1"/>
<rect x="112.6" y="364.3" width="4.3" height="3" fill="#F39A2B" stroke="none" stroke-width="1"/>
<line x1="110.45" y1="364.14" x2="110.45" y2="362.56" stroke="#444" stroke-width="0.6"/>
<line x1="109.45" y1="362.56" x2="111.45" y2="362.56" stroke="#444" stroke-width="0.6"/>
<line x1="114.75" y1="364.3" x2="114.75" y2="362.56" stroke="#444" stroke-width="0.6"/>
<line x1="113.75" y1="362.56" x2="115.75" y2="362.56" stroke="#444" stroke-width="0.6"/>
<circle cx="109.69" cy="359.4" r="0.7" fill="#333" fill-opacity="0.75"/>
<circle cx="110.06" cy="364.14" r="0.7" fill="#333" fill-opacity="0.75"/>
<circle cx="109.85" cy="365.72" r="0.7" fill="#333" fill-opacity="0.75"/>
<circle cx="115.42" cy="362.56" r="0.7" fill="#333" fill-opacity="0.75"/>
<circle cx="115.61" cy="365.72" r="0.7" fill="#333" fill-opacity="0.75"/>
<line x1="112.6" y1="367.3" x2="112.6" y2="369.6" stroke="#333" stroke-width="0.7"/>
<text x="115.17" y="372.6" font-size="7.75" text-anchor="end" transform="rotate(-90 115.17 372.6)" fill="#222" stroke="#222">IFN-responding T</text>
<rect x="118.7" y="355.29" width="4.3" height="12.01" fill="#2AA5DD" stroke="none" stroke-width="1"/>
<rect x="123" y="359.4" width="4.3" height="7.9" fill="#F39A2B" stroke="none" stroke-width="1"/>
<line x1="120.85" y1="355.29" x2="120.85" y2="350.71" stroke="#444" stroke-width="0.6"/>
<line x1="119.85" y1="350.71" x2="121.85" y2="350.71" stroke="#444" stroke-width="0.6"/>
<line x1="125.15" y1="359.4" x2="125.15" y2="356.24" stroke="#444" stroke-width="0.6"/>
<line x1="124.15" y1="356.24" x2="126.15" y2="356.24" stroke="#444" stroke-width="0.6"/>
<circle cx="120.84" cy="340.44" r="0.7" fill="#333" fill-opacity="0.75"/>
<circle cx="120.61" cy="346.76" r="0.7" fill="#333" fill-opacity="0.75"/>
<circle cx="120.77" cy="353.08" r="0.7" fill="#333" fill-opacity="0.75"/>
<circle cx="120.01" cy="359.4" r="0.7" fill="#333" fill-opacity="0.75"/>
<circle cx="120.02" cy="363.31" r="0.7" fill="#333" fill-opacity="0.75"/>
<circle cx="121.69" cy="362.24" r="0.7" fill="#333" fill-opacity="0.75"/>
<circle cx="120.47" cy="362.69" r="0.7" fill="#333" fill-opacity="0.75"/>
<circle cx="120.58" cy="358.59" r="0.7" fill="#333" fill-opacity="0.75"/>
<circle cx="126.01" cy="340.44" r="0.7" fill="#333" fill-opacity="0.75"/>
<circle cx="124.81" cy="349.92" r="0.7" fill="#333" fill-opacity="0.75"/>
<circle cx="124.42" cy="357.82" r="0.7" fill="#333" fill-opacity="0.75"/>
<circle cx="125.82" cy="362.56" r="0.7" fill="#333" fill-opacity="0.75"/>
<circle cx="124.97" cy="360.79" r="0.7" fill="#333" fill-opacity="0.75"/>
<circle cx="125.42" cy="364.2" r="0.7" fill="#333" fill-opacity="0.75"/>
<circle cx="124.79" cy="359.91" r="0.7" fill="#333" fill-opacity="0.75"/>
<circle cx="124.48" cy="362.72" r="0.7" fill="#333" fill-opacity="0.75"/>
<line x1="123" y1="367.3" x2="123" y2="369.6" stroke="#333" stroke-width="0.7"/>
<text x="125.57" y="372.6" font-size="7.75" text-anchor="end" transform="rotate(-90 125.57 372.6)" fill="#222" stroke="#222">MAIT</text>
<rect x="129.1" y="365.4" width="4.3" height="1.9" fill="#2AA5DD" stroke="none" stroke-width="1"/>
<rect x="133.4" y="365.4" width="4.3" height="1.9" fill="#F39A2B" stroke="none" stroke-width="1"/>
<line x1="131.25" y1="365.4" x2="131.25" y2="364.14" stroke="#444" stroke-width="0.6"/>
<line x1="130.25" y1="364.14" x2="132.25" y2="364.14" stroke="#444" stroke-width="0.6"/>
<line x1="135.55" y1="365.4" x2="135.55" y2="364.14" stroke="#444" stroke-width="0.6"/>
<line x1="134.55" y1="364.14" x2="136.55" y2="364.14" stroke="#444" stroke-width="0.6"/>
<circle cx="130.74" cy="364.14" r="0.7" fill="#333" fill-opacity="0.75"/>
<circle cx="131.73" cy="365.72" r="0.7" fill="#333" fill-opacity="0.75"/>
<circle cx="135.62" cy="362.56" r="0.7" fill="#333" fill-opacity="0.75"/>
<circle cx="135.84" cy="365.72" r="0.7" fill="#333" fill-opacity="0.75"/>
<line x1="133.4" y1="367.3" x2="133.4" y2="369.6" stroke="#333" stroke-width="0.7"/>
<text x="135.97" y="372.6" font-size="7.75" text-anchor="end" transform="rotate(-90 135.97 372.6)" fill="#222" stroke="#222">NKT</text>
<rect x="139.5" y="362.56" width="4.3" height="4.74" fill="#2AA5DD" stroke="none" stroke-width="1"/>
<rect x="143.8" y="357.03" width="4.3" height="10.27" fill="#F39A2B" stroke="none" stroke-width="1"/>
<line x1="141.65" y1="362.56" x2="141.65" y2="360.19" stroke="#444" stroke-width="0.6"/>
<line x1="140.65" y1="360.19" x2="142.65" y2="360.19" stroke="#444" stroke-width="0.6"/>
<line x1="145.95" y1="357.03" x2="145.95" y2="353.87" stroke="#444" stroke-width="0.6"/>
<line x1="144.95" y1="353.87" x2="146.95" y2="353.87" stroke="#444" stroke-width="0.6"/>
<circle cx="141.08" cy="359.4" r="0.7" fill="#333" fill-opacity="0.75"/>
<circle cx="141.54" cy="364.14" r="0.7" fill="#333" fill-opacity="0.75"/>
<circle cx="146.56" cy="340.44" r="0.7" fill="#333" fill-opacity="0.75"/>
<circle cx="145.45" cy="346.76" r="0.7" fill="#333" fill-opacity="0.75"/>
<circle cx="146.45" cy="353.08" r="0.7" fill="#333" fill-opacity="0.75"/>
<circle cx="146.54" cy="357.82" r="0.7" fill="#333" fill-opacity="0.75"/>
<circle cx="146.37" cy="362.56" r="0.7" fill="#333" fill-opacity="0.75"/>
<circle cx="145.25" cy="358.64" r="0.7" fill="#333" fill-opacity="0.75"/>
<circle cx="145.28" cy="360.18" r="0.7" fill="#333" fill-opacity="0.75"/>
<circle cx="146.51" cy="359.12" r="0.7" fill="#333" fill-opacity="0.75"/>
<circle cx="145.44" cy="363.87" r="0.7" fill="#333" fill-opacity="0.75"/>
<line x1="143.8" y1="367.3" x2="143.8" y2="369.6" stroke="#333" stroke-width="0.7"/>
<text x="146.37" y="372.6" font-size="7.75" text-anchor="end" transform="rotate(-90 146.37 372.6)" fill="#222" stroke="#222">Proliferative</text>
<rect x="149.9" y="365.4" width="4.3" height="1.9" fill="#2AA5DD" stroke="none" stroke-width="1"/>
<rect x="154.2" y="364.14" width="4.3" height="3.16" fill="#F39A2B" stroke="none" stroke-width="1"/>
<line x1="152.05" y1="365.4" x2="152.05" y2="364.14" stroke="#444" stroke-width="0.6"/>
<line x1="151.05" y1="364.14" x2="153.05" y2="364.14" stroke="#444" stroke-width="0.6"/>
<line x1="156.35" y1="364.14" x2="156.35" y2="360.98" stroke="#444" stroke-width="0.6"/>
<line x1="155.35" y1="360.98" x2="157.35" y2="360.98" stroke="#444" stroke-width="0.6"/>
<circle cx="151.19" cy="362.56" r="0.7" fill="#333" fill-opacity="0.75"/>
<circle cx="152.2" cy="365.72" r="0.7" fill="#333" fill-opacity="0.75"/>
<circle cx="156.7" cy="349.92" r="0.7" fill="#333" fill-opacity="0.75"/>
<circle cx="156.93" cy="360.98" r="0.7" fill="#333" fill-opacity="0.75"/>
<circle cx="156.74" cy="365.72" r="0.7" fill="#333" fill-opacity="0.75"/>
<line x1="154.2" y1="367.3" x2="154.2" y2="369.6" stroke="#333" stroke-width="0.7"/>
<text x="156.77" y="372.6" font-size="7.75" text-anchor="end" transform="rotate(-90 156.77 372.6)" fill="#222" stroke="#222">Treg</text>
<rect x="160.3" y="364.14" width="4.3" height="3.16" fill="#2AA5DD" stroke="none" stroke-width="1"/>
<rect x="164.6" y="364.14" width="4.3" height="3.16" fill="#F39A2B" stroke="none" stroke-width="1"/>
<line x1="162.45" y1="364.14" x2="162.45" y2="362.56" stroke="#444" stroke-width="0.6"/>
<line x1="161.45" y1="362.56" x2="163.45" y2="362.56" stroke="#444" stroke-width="0.6"/>
<line x1="166.75" y1="364.14" x2="166.75" y2="361.77" stroke="#444" stroke-width="0.6"/>
<line x1="165.75" y1="361.77" x2="167.75" y2="361.77" stroke="#444" stroke-width="0.6"/>
<circle cx="162.62" cy="362.56" r="0.7" fill="#333" fill-opacity="0.75"/>
<circle cx="162.2" cy="365.72" r="0.7" fill="#333" fill-opacity="0.75"/>
<circle cx="167.52" cy="362.56" r="0.7" fill="#333" fill-opacity="0.75"/>
<circle cx="166.33" cy="365.72" r="0.7" fill="#333" fill-opacity="0.75"/>
<line x1="164.6" y1="367.3" x2="164.6" y2="369.6" stroke="#333" stroke-width="0.7"/>
<text x="167.17" y="372.6" font-size="7.75" text-anchor="end" transform="rotate(-90 167.17 372.6)" fill="#222" stroke="#222">γδT</text>
<rect x="170.7" y="364.14" width="4.3" height="3.16" fill="#2AA5DD" stroke="none" stroke-width="1"/>
<rect x="175" y="364.14" width="4.3" height="3.16" fill="#F39A2B" stroke="none" stroke-width="1"/>
<line x1="172.85" y1="364.14" x2="172.85" y2="362.56" stroke="#444" stroke-width="0.6"/>
<line x1="171.85" y1="362.56" x2="173.85" y2="362.56" stroke="#444" stroke-width="0.6"/>
<line x1="177.15" y1="364.14" x2="177.15" y2="361.77" stroke="#444" stroke-width="0.6"/>
<line x1="176.15" y1="361.77" x2="178.15" y2="361.77" stroke="#444" stroke-width="0.6"/>
<circle cx="172.76" cy="362.56" r="0.7" fill="#333" fill-opacity="0.75"/>
<circle cx="172.15" cy="365.72" r="0.7" fill="#333" fill-opacity="0.75"/>
<circle cx="177.29" cy="360.98" r="0.7" fill="#333" fill-opacity="0.75"/>
<circle cx="177.49" cy="365.72" r="0.7" fill="#333" fill-opacity="0.75"/>
<line x1="175" y1="367.3" x2="175" y2="369.6" stroke="#333" stroke-width="0.7"/>
<text x="177.57" y="372.6" font-size="7.75" text-anchor="end" transform="rotate(-90 177.57 372.6)" fill="#222" stroke="#222">cycling CD8</text>
<line x1="67.3" y1="323" x2="74" y2="323" stroke="#444" stroke-width="0.7"/>
<circle cx="70.7" cy="321.4" r="0.5" fill="#222"/>
<text x="200.5" y="247.08" font-size="10" text-anchor="start" font-weight="bold" fill="#111" stroke="#111">E</text>
<text x="285.8" y="260.69" font-size="8.9" text-anchor="middle" fill="#222" stroke="#222">CD4+ CAR-T</text>
<text x="411.9" y="260.59" font-size="8.9" text-anchor="middle" fill="#222" stroke="#222">CD8+ CAR-T</text>
<path d="M281.56 361.97h0M301.22 358.31h0M303.45 357.48h0M277.29 347.49h0M282.1 348h0M285.77 340.53h0M280.58 355.99h0M277.57 348.27h0M282.47 353.26h0M278.45 350.11h0M295.3 362.52h0M296.4 360.86h0M277.09 355.47h0M292.67 354.58h0M286.02 351.98h0M281.21 361.64h0M289.31 361.66h0M296.84 358.82h0M299.89 354.66h0M293.79 358.92h0M285.77 358.46h0M301.11 350.66h0M284.86 362.71h0M277.01 361.27h0M294.37 353.53h0M290.26 360.46h0M280.97 355.98h0M296.08 362.72h0M299.5 358.32h0M287.61 356.65h0M288.84 357.19h0M295.9 351.42h0M288.48 354.58h0M289.65 361h0M296.77 346.76h0M286.61 355.04h0M295.7 359.48h0M284.11 341.71h0M284.77 346.72h0M280.07 335.25h0M292.93 358.1h0M287.14 354.9h0M273.67 356.42h0M292.96 356.96h0M285.11 358.21h0M284.04 360.91h0M281.57 351.41h0M303.9 356.4h0M296.3 359.5h0M291.36 354.91h0M306.71 343.65h0M287.36 353.81h0M286.66 358.02h0M304.14 343.36h0M284.77 341.7h0M287.93 359.73h0M258.5 355.39h0M276.39 350.43h0M284.57 354.76h0M283.44 362.41h0M273.17 342.93h0M299.94 355.4h0M287.7 355.15h0M278.46 343.88h0M310.12 345.6h0M290.91 360.41h0M298.22 361.36h0M289.28 356.18h0M303.2 355.65h0M299.15 347.75h0M292.83 347.66h0M304.12 356.07h0M282.18 350.04h0M298.71 357.34h0M286.11 359.48h0M269.73 346.42h0M310.73 355.03h0M281.43 346.88h0M294.08 350.49h0M273.14 340.8h0M275.27 355.56h0M282.27 362h0M294.35 362.87h0M303.03 357.02h0M297.69 342.26h0M302.76 358.19h0M303.64 358.03h0M301.09 354.02h0M287.36 342.93h0M297 358.44h0M293.5 354.2h0M304.23 346.41h0M268.74 347.12h0M296.93 355.35h0M283.24 357.05h0M288.05 356.07h0M307.08 357.86h0M282.41 360.84h0M290.59 358.68h0M286.46 352.56h0M296.71 351.72h0M278.2 359.15h0M297.16 358.6h0M293.77 351.29h0M293.9 357.26h0M284.7 353.92h0M289.92 362.53h0M305.71 358.72h0M282.61 353.02h0M267.69 358.09h0M310.17 361.02h0M282.29 350.79h0M295.19 359.59h0M278.76 362.46h0M284.61 351.2h0M273.09 348.88h0M281.3 360.44h0M289.1 362.79h0M291.7 362.57h0M301.98 346.25h0M289.99 355.74h0M286.08 359.4h0M279.69 359.76h0M287.81 358.81h0M299.81 356.16h0M293.43 362.96h0M287.41 346.07h0M295.91 362.67h0M281.46 343.12h0M288.42 358.82h0M284.13 357.79h0M290.93 358.7h0M288.24 353.94h0M293.22 356.53h0M295.94 338.31h0M292.05 362.4h0M298.49 352.35h0M287.88 361.35h0M287.55 351.79h0M291.92 351.15h0M307.46 347.62h0M297.54 348.23h0M294.99 362.71h0M268.78 359.68h0M299.63 353.59h0M297.28 354.76h0M279.79 358.55h0M288.33 356.75h0M287.66 356.43h0M294.7 361.52h0M296.18 333.59h0M291.22 361.19h0M281.3 354.5h0M280.39 344.74h0M290.95 362.18h0M291.59 356.51h0M277.55 349.38h0M297.34 353.49h0M297.57 358.24h0M280.5 348.79h0M287.04 359.63h0M289.08 361.18h0M298.41 357.33h0M285.29 361.21h0M280.84 360.39h0M287.57 359.66h0M287.27 351.69h0M291.49 348.86h0M309.49 357.55h0M280.2 353.51h0M305.71 360.6h0M285.58 357.25h0M279.77 362.34h0M297.42 351.69h0M292.62 357.78h0M281.92 354.24h0M293.6 343.5h0M299.27 347.85h0M305.61 350.93h0M287.89 348.98h0M283.22 349.87h0M290.61 355.51h0M279.17 357.58h0M287.67 353.81h0M282.49 351.48h0M298.52 355.29h0M279.3 353.17h0M288.36 360.28h0M287.27 355.28h0M291.99 361.74h0M299.21 358.81h0M291.67 360.28h0M281.29 358.94h0M299.83 358.86h0M278.59 362.27h0M290.42 362.35h0M289.32 362.58h0M281.33 362.39h0M296.61 353.07h0M292.56 358.55h0M292.33 356.53h0M283.22 357.64h0M286.96 354.57h0M283.87 356.5h0M285.64 355.16h0M303.2 335.65h0M290.71 346.92h0M279.73 350.89h0M289.74 362.41h0M276.5 361.61h0M280.4 336.47h0M293.6 349.18h0M304.34 333.72h0M279.38 351.24h0M295.9 353.15h0M299.35 348.09h0M286.87 362.31h0M299.44 360.91h0M301.19 341.92h0M281.97 357.1h0M285.47 352.69h0M289.89 362.57h0M291.36 341.53h0M287.42 351.84h0M293.72 355.23h0M286.89 346.83h0M297.79 353.57h0M278.22 360.23h0M282.9 356.04h0M299.9 356.49h0M292.35 354.31h0M285.64 348.02h0M287.7 357.75h0M278.89 357.91h0M291 361.67h0M294.12 358.95h0M291 357.59h0M282.71 361.07h0M286.6 353.65h0M288.21 351.92h0M302.82 347.67h0M276.62 358.99h0M301.48 354.33h0M279 350.11h0M298.02 353.49h0M288.98 352.28h0M295.67 358.53h0M274.3 360.63h0M312.48 357.99h0M278.62 348.78h0M286.4 359.93h0M285.21 349.28h0M285.89 361.19h0M292.37 348.25h0M298.24 358.56h0M271.86 359.87h0M288.94 349.37h0M274.69 357.09h0M288.43 360.33h0M294.42 348.49h0M305.96 344.95h0M280.62 360.25h0M293.92 360.24h0M294.35 347.82h0M280.32 357.3h0M280.5 348.01h0M293.29 362.41h0M288.32 347.46h0M284.25 346.8h0M295.38 354.8h0M287.92 362.64h0M285.08 360.59h0M275.28 362.93h0M306.38 346.32h0M289.58 354.19h0M300.39 353.02h0M264.08 342.67h0M278.26 360.08h0M287.18 358.52h0M284.69 359.25h0M283.31 362.72h0M287.1 344.79h0M286.66 356.06h0M303.01 356.22h0M271.02 342.24h0M298.19 352.35h0M294.26 356.07h0M284.58 358.22h0M311.25 359.38h0M276.88 350.27h0M307.87 362.18h0M273.81 361.38h0M287.62 356.67h0M281.28 360.34h0M287.11 357.92h0M291.37 362.65h0M293.19 357.59h0M296 349.32h0M286.66 361.63h0M281.52 339.08h0M303.94 346.59h0M281.9 351.28h0M289.68 349.67h0M278.71 359.91h0M295.5 360.47h0M287.63 352.08h0M286.65 354.5h0M278.83 362.67h0M284.81 355.94h0M279.08 356.13h0M288.98 350.15h0M295.45 356.18h0M281.15 350.06h0M301.11 352.35h0M280.25 354.33h0M288.39 351.24h0M284.65 356.34h0M293.49 338.01h0M296.78 361.12h0M286.55 362.68h0M292.86 356.04h0M293.38 357.07h0M276.82 361.51h0M274.54 348.02h0M288.75 352.67h0M283.15 356.48h0M274.54 356.6h0M296.77 361.29h0M288.42 358.88h0M292.13 354.26h0M294.34 357.93h0M292.03 343.77h0M284.69 351.68h0M292.9 339.38h0M273.69 351.35h0M307.03 340.74h0M292.3 352.52h0M280.98 353.28h0M298.55 354.15h0M298.94 356.17h0M292.76 355.23h0M297.12 356.81h0M295.7 358.65h0M285.16 360.43h0M280.01 362.31h0M286.21 356.4h0M293.27 352.53h0M294.2 350.99h0M276.78 348.88h0M293.84 351.48h0M288.89 358.11h0M296.84 352.51h0M278.06 361.09h0M288.28 359.74h0M309.26 357.01h0M289.39 357.39h0M290.68 359.16h0M285.11 356.48h0M294.13 361.79h0M285.32 362.71h0M298.98 349.94h0M290.85 357.6h0M294.52 362.75h0M287.9 356.35h0M289.41 350.55h0M304.97 361.3h0M298.19 337.35h0M287.02 358.99h0M288.64 358.35h0M300.21 356.47h0M286.59 347.23h0M289.78 338.52h0M292.99 354.25h0M278.27 360.37h0M283.29 362.98h0M284.68 349.42h0M303.75 352.26h0M297.28 356.95h0M293.49 358.37h0M283.97 362.2h0M298.53 352.89h0M296.71 356.39h0M296.19 358.23h0M282.34 344.08h0M295.71 347.51h0M288.02 354h0M300.88 343.24h0M287.64 353.97h0M294.61 354.24h0M279.75 356.21h0M291.91 352.62h0M294.26 358.06h0M290.97 362.94h0M293.69 351.66h0M293.25 358.83h0M301.95 351.91h0M283.88 358.81h0M296.19 351.03h0M292.53 350.39h0M287.54 361.29h0M278.42 360.81h0M296.67 341.6h0M282.04 353.52h0M286.05 353.68h0M297.92 361.61h0M283.35 361.38h0M283.94 358.45h0M308.91 355.28h0M298.63 347.7h0M299.58 352.4h0M295.96 359.87h0M302.33 352.06h0M285.74 353.25h0M286.42 340.41h0M290.58 361h0M287.69 360.44h0M302.98 348.7h0M294.21 362.87h0M286.96 361.55h0M288.48 358.72h0M294.11 358.55h0M298.74 343.52h0M301.22 354.15h0M286.92 353.5h0M291.31 356.96h0M292.9 360.85h0M287.55 351.51h0M299.52 356.65h0M282.5 362.94h0M297.27 357.7h0M297.93 348.3h0M287.93 355.48h0M296.61 346.63h0M297.79 356.66h0M286.2 358.19h0M296.52 360.12h0M280.76 357.43h0M294.45 349.4h0M295.58 361.24h0M287.1 354.79h0M293.95 356.46h0M281.33 362.97h0M285.92 346.91h0M287.16 342.12h0M278.97 358.99h0M273.96 347.06h0M281.82 344.87h0M275.27 362.11h0M291.2 355.2h0M281.98 356.62h0M293.96 354.35h0M297.06 360.17h0M298.48 350.43h0M278.28 360.34h0M296.87 353.46h0M279.27 358.39h0M279.12 360.75h0M293.86 362.66h0M297.12 359.67h0M291.33 361.28h0M289.58 345.38h0M295.13 362.75h0M291.68 353.75h0M293.12 362.77h0M281.79 354.69h0M292.01 354.5h0M286.09 349.1h0M293.42 347.95h0M287.38 358.67h0M302.15 361.14h0M293.49 347.86h0M282.81 356.62h0M298.52 359.39h0M295.1 357.33h0M290.8 350.38h0M302.85 347.9h0M286.2 340.98h0M297.68 348.07h0M282.53 353.29h0M296.9 354.14h0M300.76 352.52h0M303 353.92h0M297.53 358.49h0M297.3 348.47h0M280.42 362.26h0M283.38 356.92h0M283.89 354h0M285.6 359.97h0M295.5 349.91h0M280.94 357.42h0M281.87 361.74h0M296.81 362.86h0M282.73 361.26h0M283.92 357.88h0M287.35 361.64h0M284.73 353.84h0M278.88 350.17h0M296.79 360h0M290.15 352.56h0" stroke="#b0b0b0" stroke-opacity="0.3" stroke-width="1.1" stroke-linecap="round" fill="none"/>
<path d="M315.63 324.45h0M287.64 362.89h0M308.34 330.61h0M298.32 334.58h0M300.5 335.08h0M285.6 338.78h0M285.1 358.2h0M298.9 336.1h0M292.19 360.02h0M297.88 360.65h0M303.8 344.87h0M294.63 338.13h0M298.51 353.42h0M302.77 351.57h0M290.55 355.75h0M310.97 323.24h0M291.37 352.4h0M275.98 338.94h0M306.79 343.6h0M300.43 328.23h0M312.11 333.36h0M311.95 342.34h0M300.3 359.72h0M295.46 332.03h0M301.32 334.28h0M301.48 360.18h0M290.69 337.4h0M291.19 336.06h0M292.61 347.81h0M294.35 333.88h0M296.6 353.52h0M293.88 329.9h0M299.49 330.57h0M294.1 354.5h0M321.96 360.63h0M298.66 329.97h0M299.5 336.98h0M297.43 343.06h0M307.86 322.99h0M267.42 350.66h0M293.03 342.56h0M301.82 357.46h0M295.05 362.82h0M295.22 351.54h0M310.1 344.01h0M315.35 344.87h0M296.91 349.14h0M290.45 342.83h0M306.04 346.7h0M310.59 351.61h0M300.8 354.62h0M295.56 322.57h0M289.94 333.19h0M289.94 334.33h0M294.17 340.06h0M296.29 355.42h0M306.13 350.91h0M288.4 352.24h0M318.91 344.78h0M308.65 332.6h0M301.68 357.07h0M313.88 326.19h0M296.75 337.51h0M288.9 351.03h0M306.97 344.66h0M301.18 359.7h0M298.55 354.49h0M294.21 360.23h0M302.09 359.03h0M279.03 336.48h0M304.93 341.28h0M296.57 343.61h0M300.99 339.65h0M303.97 361.28h0M306.68 322.26h0M286.82 355.76h0M274.83 339.52h0M312.82 347.13h0M304.65 329.72h0M302.12 361.55h0M288.72 343.49h0M308.75 348.21h0M304.56 328.66h0M287.93 340.05h0M304.6 353.7h0M299.65 338.57h0M322.49 357.93h0M292.52 352.08h0M300.52 361h0M292.34 349.85h0M304.54 353.83h0M308.64 329.41h0M296.83 355.01h0M316.03 335.73h0M300.45 327.62h0M296.65 347.22h0M298.85 362.47h0M297.01 350.39h0M309.8 334.63h0M292.46 356.88h0M301.75 329.35h0M291 326.12h0M303.01 338.32h0M311.78 342.99h0M299.36 357.19h0M297.58 355.87h0M304.06 331.8h0M299.63 327.25h0M315.07 337.77h0M297.98 359.85h0M294.88 350.98h0M297.31 344h0M303.28 346.63h0M297.18 361.46h0M308.43 330.46h0M305.55 350.66h0M298.17 350.33h0M279.15 361.82h0M298.94 351.13h0M296.25 324h0M295.76 345.52h0M307.34 336.68h0M285.76 339.3h0M302.91 350.19h0M292.07 347.58h0M293.16 329.13h0M297.27 350.49h0M298.33 346.77h0M305.22 350.89h0M291.87 347.61h0M308.24 337.39h0M283.55 358.15h0M303.45 331.42h0M297.51 354.99h0M302.42 358.2h0M300.98 342.9h0M302.32 346.39h0M308.54 342.32h0M304.68 346.57h0M284.29 345.17h0M299.13 331.62h0M298.91 361.44h0M305.9 361.35h0M284.52 359.08h0M295.02 361.55h0M316.37 358.99h0M291.9 362.25h0M306.68 362.21h0M313.44 356.76h0M306.73 332.69h0M307.81 347.05h0M301.26 361.38h0M277.23 362.5h0M306.89 346.37h0M288.53 357.79h0M287.15 355.86h0M311.66 357.41h0M300.34 346.22h0M286.85 361.34h0M301.21 344.75h0M300.7 353.49h0M299.5 357.3h0M308.45 361.04h0M298.54 342.13h0M302.86 354.73h0M296.08 330.77h0M300.23 347.54h0M309.57 356.41h0M297.91 322.89h0M299.38 358.71h0M299.64 350.94h0M315.54 359.76h0M288.15 322.17h0M290.47 350.1h0M294.06 351.91h0M296.67 346.05h0M289.97 324.21h0M288.88 351.01h0M299.24 354.78h0M287.62 343.45h0M316.41 328.39h0M297.79 362.78h0M307.9 358.51h0M305.97 358.65h0M292.26 362.06h0M297.45 342.65h0M290.75 360.33h0M301.19 333.77h0M286.46 337.75h0M274.81 335.03h0M301.92 355.21h0M293.54 322.81h0M306.7 355.49h0M297.56 327.96h0M287.24 353.44h0M307.04 337.93h0M295.21 353.07h0M291.54 332.03h0M304.38 344.37h0M307.26 354.19h0M288.44 347.61h0M311.73 352.29h0M304.94 358.89h0M285.91 351.35h0M303.71 329.07h0M304.23 360.81h0M298.19 354.62h0M303.25 332.76h0M303.86 338.34h0M297.46 361.14h0M306.08 353.92h0M289.05 335.21h0M292.88 352.85h0M306.63 348.74h0M294.06 342.33h0M288.92 347.68h0M305.03 331.42h0M299.16 323.61h0M306.3 347.6h0M304.43 342.94h0M300.61 357.49h0M298.78 357.63h0M294.07 344.19h0M303.85 338.83h0M299.07 354.23h0M293.71 335.97h0M291.43 345.97h0M297.69 342.68h0M308.22 350.44h0M297.09 338.99h0M307.59 339.99h0M310.79 348.32h0M315.62 361.5h0M300.1 357.05h0M297.53 336.16h0M324.93 361.19h0M298.4 361.29h0M304.29 360.84h0M305.35 346.71h0M297.81 359.22h0M313.39 351.33h0M296.87 332.92h0M284.32 358.26h0M297.99 331.92h0M288.16 352.27h0M316.94 353.75h0M293.77 361.95h0M290.82 339.32h0M300.64 346.97h0M307.15 352.75h0M312.3 349.81h0M290.2 360.5h0M312.14 342.65h0M297.59 355.66h0M302.9 360.93h0M286.6 357.31h0M291.19 357.94h0M298.93 345.98h0M296.71 341.36h0M315.53 350.32h0M292.12 356.83h0M302.5 350.9h0M305.17 358.88h0M289.6 344.75h0M310.06 339.13h0M319.19 345.38h0M304.08 347.72h0M310.25 352.9h0M319.52 350.98h0M296.79 330.84h0M298.04 337.71h0M310.45 327h0M315.06 357.83h0M289.8 349.27h0M308.22 343.1h0M297.59 347.55h0M305.28 354.64h0M282.49 353.69h0M284.04 342.59h0M293.45 351.16h0M296.84 354.69h0M296.25 360.26h0M304.75 351.98h0M295.83 343.91h0M280.3 356.1h0M306.32 351.58h0M289.54 357.23h0M306.78 339.74h0M293.15 336.98h0M292.99 347.44h0M300.39 351.87h0M311.64 352.44h0M311.43 326.3h0M292 352.13h0M301.11 343.7h0M293.33 330.77h0M296.87 351.52h0M309.59 331.26h0M293.14 350.95h0M309.26 349.62h0M304.73 361.81h0M302.11 348.84h0M292.06 360.08h0M295.96 357.68h0M303.04 360.54h0M305.29 348.05h0M302.04 332.03h0M305.22 333.47h0M320.86 354.91h0M307.92 331.7h0M313.86 333.1h0M293.96 337.18h0M307.27 348.09h0M298.16 356.04h0M293.22 336.68h0M297.87 354.57h0M295.79 348.47h0M301.64 353.34h0M307.13 336.13h0M296.06 345.78h0" stroke="#b8b8b8" stroke-opacity="0.3" stroke-width="1.1" stroke-linecap="round" fill="none"/>
<path d="M303.12 351.92h0M329.5 279.6h0M287.56 298.05h0M292.1 350.63h0M278.11 304.84h0M311.18 319.96h0M274.1 356.09h0M268.93 288.05h0M287.27 355.11h0M278.46 346.96h0M275.64 288.15h0M283.62 335.14h0M305.46 352.2h0M318.76 314.86h0M292.46 349.97h0M323.62 337.67h0M288.72 347.02h0M287.77 320.05h0M293.02 355.32h0M279.92 331.59h0M283.42 316.15h0M281.24 359.19h0M284.42 358.83h0M281.12 282.67h0M295.92 344.09h0M281.85 352.28h0M311.94 331.72h0M305.95 311.58h0M280.84 362.3h0M314.83 333.72h0M303.11 303.22h0M293.99 342.22h0M288.88 332.76h0M293.75 348.16h0M294.25 357.69h0M308.35 278.6h0M273.07 337.06h0M278.98 350.96h0M294.03 362.24h0M296.88 327.67h0M280.42 326.56h0M305.6 333.5h0M306.83 351.7h0M295.83 362.84h0M317.09 355.45h0M299.28 343.99h0M299.45 344.79h0M315.39 305.92h0M281.12 314.61h0M278.23 310.8h0M318.84 332.69h0M288.8 345.63h0M269.68 328.31h0M273.8 339.67h0M296.76 358.95h0M258.93 353.03h0M305.2 362.05h0M310.09 358.89h0M314.27 356.18h0M302.49 320.14h0M290.07 355.25h0M322.46 285.85h0M319.52 340.96h0M320.71 342.64h0M267.61 334.97h0M298.38 337.11h0M307.01 341.73h0M285.27 348.87h0M281.51 335.96h0M279.27 324.68h0M316.72 342.45h0M298.95 340.54h0M324.38 302.84h0M297.19 359.38h0M281.81 351.83h0M306.05 361.91h0M304.25 325.46h0" stroke="#c0c0c0" stroke-opacity="0.4" stroke-width="1" stroke-linecap="round" fill="none"/>
<path d="M302.98 316.56h0M298.16 328.17h0M307.81 321.72h0M318.68 303.66h0M311.43 332.04h0M294.54 343.65h0M301.78 338.49h0M315.05 323.01h0M284.88 319.14h0M281.26 330.75h0M276.43 308.82h0M295.74 312.69h0M322.3 330.75h0M325.92 317.85h0M270.39 320.43h0M290.91 334.62h0M309.02 343.65h0M317.47 337.2h0M278.84 341.07h0M274.02 325.59h0" stroke="#E07080" stroke-opacity="0.45" stroke-width="1" stroke-linecap="round" fill="none"/>
<path d="M246.25 273.99h0M249.88 297.21h0M328.33 301.08h0M324.71 308.82h0M260.74 311.4h0M300.57 293.34h0M315.05 288.18h0M271.6 333.33h0" stroke="#bbbbbb" stroke-opacity="0.6" stroke-width="1.1" stroke-linecap="round" fill="none"/>
<path d="M399.66 351.62h0M425 356.26h0M431.5 357.01h0M404.31 359.81h0M414.53 362.15h0M399.51 357.12h0M408.81 352.62h0M423.97 357.47h0M429.34 358.63h0M429.96 352.63h0M428.44 357.2h0M393.07 356.09h0M422.88 360.6h0M393.09 358.78h0M428.7 347.63h0M406.26 359.91h0M398.69 361.05h0M394.65 351.38h0M422.88 343.09h0M428.23 355.75h0M425.09 349.6h0M419.72 354.02h0M415.97 361.63h0M402.76 357.23h0M401.55 357.98h0M401.49 361.04h0M439.27 342.67h0M401.84 361.84h0M401.36 360.03h0M435.12 346.66h0M416.33 357.61h0M403.64 355.88h0M416.93 357.07h0M438.36 353.25h0M414.17 358.99h0M409.93 360.05h0M415.73 342.3h0M370.58 350h0M427.28 352.82h0M423.52 342.19h0M446.22 360.3h0M415.6 344.83h0M428.99 341.85h0M397.99 357.29h0M421.25 352.21h0M399.35 344.37h0M415.61 347.42h0M410.6 352.83h0M402.21 360.72h0M431.63 362.06h0M409.76 351.72h0M420.1 352.06h0M425 347.9h0M421.07 357.96h0M426.52 356.36h0M429.57 350.42h0M416.16 357.78h0M407.57 358.77h0M407.28 360.92h0M434.52 340.67h0M400.35 356.27h0M432.61 353.71h0M389.19 354.31h0M422.11 354.51h0M409.78 361.19h0M394.52 355.63h0M387.67 362.27h0M395.18 357.69h0M416.85 350.96h0M412.38 350.72h0M401.24 351.47h0M413.98 343.27h0M428.4 339.69h0M417.73 356.68h0M418.41 347.47h0M427.23 358.04h0M385.38 360.66h0M419.55 341.96h0M425.86 353.8h0M398.4 356.67h0M397.68 361.15h0M404.65 347.28h0M425.63 362.09h0M404.18 347.46h0M422.72 340.76h0M407.86 361.83h0M403.16 340.29h0M423.47 354.3h0M422.63 350.91h0M417.34 353.7h0M436.73 355.02h0M385.45 344.55h0M423.41 354.57h0M401.93 355.71h0M420 339.38h0M404.21 352.51h0M422.87 347.69h0M429.87 356.8h0M424.41 352.52h0M411.28 343.73h0M396.24 356.44h0M412.12 338.55h0M391.35 351.14h0M428.87 351.36h0M405.59 359.33h0M420.52 352.51h0M420.93 348.98h0M434.82 361.19h0M421.94 351.74h0M412.28 359.48h0M397.15 357.04h0M405.22 354.31h0M406.4 348.38h0M423.74 353.79h0M410.97 360h0M381.53 360.26h0M435.06 357.5h0M404.98 360.68h0M405.32 358.4h0M405.59 361.73h0M430.54 358.7h0M405 361.81h0M410.47 362.32h0M421.44 350.46h0M405.7 351.25h0M408.73 359.67h0M429.32 354.18h0M406.8 361.54h0M423.99 358.42h0M411.56 345.59h0M400.92 361.41h0M434.08 340.89h0M404.12 352.03h0M415.31 360.11h0M383.03 352.68h0M385.73 355.33h0M412.57 353.24h0M414.05 361.63h0M410.78 360.8h0M413.49 360.32h0M417.57 347.35h0M394.48 353.53h0M421.12 355.29h0M438.77 346.08h0M447.46 355.26h0M425.6 352.01h0M423.51 358.5h0M412.65 359.09h0M402.02 357.7h0M403.09 354.03h0M415.2 350.75h0M420.11 346.71h0M404.94 362.02h0M398.89 360.43h0M409.55 340.56h0M427.19 362.37h0M422.26 353.18h0M421.79 349.84h0M406.27 354.14h0M433.93 341.68h0M439.99 343.58h0M410.66 359.82h0M402.96 348.85h0M405.11 355.64h0M407.14 345.57h0M418.26 353.25h0M405.35 354.88h0M410.79 360.38h0M397.5 342.95h0M424.34 355.72h0M448.88 351.66h0M403.38 344.04h0M399.96 353.85h0M426.76 358.98h0M416.83 362.27h0M380.18 358.77h0M396.89 353.03h0M423.98 347.56h0M420.53 359.03h0M394.67 359.19h0M430.34 349.11h0M403.17 358.6h0M402.82 350.75h0M410.45 362.2h0M401.09 355.5h0M396.38 353.75h0M414.79 348.38h0M415.07 349.23h0M406.49 361.03h0M394.63 353.64h0M397.25 347.36h0M410.88 357.9h0M405.95 354.98h0M390.37 339.22h0M394.02 344.28h0M421.42 361.37h0M381.04 352.82h0M407.11 341.74h0M421.59 359.88h0M418.41 359.49h0M402.02 358.83h0M420.29 354.84h0M404.03 346.6h0M417.75 352.47h0M429.37 357.78h0M413.99 359.91h0M422.48 339.25h0M400.35 342.49h0M406.07 353.8h0M401.27 343.39h0M392.78 361.3h0M412.26 358.25h0M434.05 350.23h0M436.65 360.39h0M421.24 350.86h0M392.17 357.38h0M408.71 355.27h0M427.47 354.35h0M400.44 355.43h0M378.65 343.12h0M415.47 355.06h0M403.53 346.07h0M386.61 361.03h0M401.02 360.86h0M406.12 354.19h0M405.03 357.92h0M421.39 355.26h0M413.06 357.07h0M405.2 361.81h0M403.16 360.27h0M403.05 361.51h0M426.88 357.04h0M421.08 341.41h0M418.2 353.8h0M389.22 352.63h0M426.08 353.07h0M413.02 360.11h0M384.28 347.52h0M409.91 346.49h0M410.57 361.64h0M416.35 349.03h0M411.54 357.33h0M405.87 357.67h0M421.13 360.25h0M423.68 352.64h0M415.48 342.55h0M405.5 354.02h0M393.35 357.72h0M438.45 342.9h0M418.21 342.51h0M426.24 352.49h0M413.33 357.64h0M393.92 360.96h0M388.89 353.72h0M396.63 357.4h0M417.59 356.34h0M405.22 361.77h0M412.98 355.08h0M390.18 352.95h0M415.94 359.84h0M390.97 362h0M414.98 352.22h0M429.93 354.12h0M419.77 346.15h0M410.18 359.7h0M436.27 360.43h0M420.78 360.1h0M407.71 346.03h0M414 360.07h0M412.09 344.7h0M404.75 358.82h0M440.24 354.39h0M425.1 356.44h0M409.37 347.27h0M422.56 361.88h0M391.14 359.84h0M440.15 345.96h0M414.02 348.42h0M407.27 351.67h0M396.13 358.7h0M422.91 351.35h0M408.96 350.48h0M432.92 344.01h0M426.5 340.88h0M404.22 351.91h0M414.79 358.24h0M397.93 348.58h0M420.36 352.98h0M404.92 348.88h0M436.67 338.37h0M433.93 360.56h0M423.24 356.78h0M429.83 357.19h0M416.3 360.89h0M403.35 359.33h0M439.92 360.19h0M419.39 349.16h0M421.81 347.42h0M415.29 358.39h0M431.59 356.29h0M405 349.37h0M409.8 350.09h0M398.92 353.42h0M406.73 362.09h0M391.49 357.12h0M421.37 343.62h0M377.71 348.44h0M406.18 359.46h0M420.79 357.08h0M430.93 355.97h0M400.79 351.07h0M418.39 354.26h0M424.9 352.45h0M408.66 354.44h0M415.5 348.32h0M393.96 354.35h0M406.21 356.78h0M375.27 360.83h0M419.79 361.43h0M416.69 359.57h0M402.84 358.95h0M421.39 350.65h0M423.28 349.05h0M420.43 361.55h0M435.65 360.76h0M398.01 360.94h0M409 359.91h0M414.03 340.13h0M392.01 341.27h0M431.43 355.61h0M406.63 352.05h0M418.14 356.03h0M408.21 360.15h0M420.83 349.63h0M398.4 348.49h0M398.56 359.28h0M398.98 353.56h0M405.82 353.2h0M382.81 355.17h0M375.88 353.01h0M436.44 349.62h0M408.98 360.35h0M417.74 353.02h0M406.79 360.3h0M398.04 347.55h0M402.77 354.38h0M422.62 362.23h0M398.25 360.61h0M401.88 349.39h0M425.47 340.16h0M388.5 341.95h0M418.52 361.39h0M419.58 356.57h0M436.95 361.74h0M415.26 350.82h0M421.48 362.05h0M412.29 354.06h0M380.4 343.11h0M402.41 352.38h0M440.3 352.79h0M427.06 355.99h0M419.54 354.33h0M415.45 353.52h0M422.87 344.97h0M411.07 360.22h0M420.84 339.78h0M370.12 359.53h0M413.7 360.56h0M416.49 357.77h0M412.6 346.77h0M429.81 341.09h0M406.39 349.58h0M408.89 352.58h0M429.96 359.55h0M424.91 356.91h0M390.37 353.48h0M400.86 360.65h0M403.32 350.64h0M421.03 355.78h0M411.33 355.03h0M407.77 359.66h0M412.9 354.64h0M419.99 346.53h0M420.2 343.79h0M420.24 342.4h0M416.33 350.22h0M413.32 352.63h0M424.66 352.45h0M422.85 356.45h0M435.81 346.13h0M410.51 351.84h0M420.95 349.13h0M431.57 347.49h0M412.51 357.9h0M403.25 350.1h0M393.92 348.37h0M433.96 355.66h0M405.26 356.03h0M417.3 359.2h0M419.62 350.18h0M411.82 360.99h0M407.63 360.37h0M436.51 356.96h0M401.48 357.2h0M407.14 352.53h0M392.94 353.46h0M419.77 346.35h0M391.94 340.73h0M420.08 341.3h0M406.54 360.74h0M427.08 348.72h0M399.7 355.54h0M416.52 359.26h0M423.88 353.4h0M386.17 341.49h0M397.86 361.36h0M396.95 353.58h0M393.61 347.94h0M433.71 354.96h0M406.17 358.23h0M422.25 360.7h0M409.04 354.23h0M392.02 361.13h0M407.75 349.8h0M429.45 360.11h0M398.01 354.26h0M409.64 342.49h0M424.19 353.4h0M407.81 359.99h0M407.19 357.55h0M425.73 347.12h0M413.97 360.13h0M384.41 349.82h0M418.91 353.22h0M389.17 341.87h0M412.59 354.62h0M428.55 357.1h0M407.96 360.13h0M421.62 351.14h0M407.5 360.23h0M424.03 349.97h0M395.5 349.44h0M396.77 350.22h0M392.39 347.58h0M405.86 362.11h0M406.87 359.89h0M415.02 359.39h0M388.79 353.5h0M407.86 361.35h0M414.92 350.72h0M410.31 342.8h0M406.35 355.74h0M393.93 353.66h0M424.27 345.19h0M383.16 360.78h0M417.25 358.8h0M400.43 358.93h0M410.71 353.16h0M412.41 348.79h0M423.15 346.05h0M410.96 361.93h0M408.77 352.6h0M400.01 361.78h0M426.4 339.41h0M424.1 351.11h0M415.21 351.97h0M404.48 355.19h0M407.28 359.31h0M443.89 350.6h0M431.4 356.05h0M391.37 357.1h0M397.71 361.87h0M414.82 353.23h0M408.85 358.35h0M407.14 360.36h0M412.5 354.67h0M383.71 351.75h0M410.37 357.18h0M403.73 353.03h0M420.92 361.68h0M398.54 353.04h0M390.19 362.17h0M388.8 349.19h0M402.76 356.39h0M415.88 345.36h0M402.5 360.32h0M381.29 345.68h0M400.17 357.41h0M406.98 360.03h0M418.1 360.86h0M404.62 356.32h0M427.2 357.73h0M408.17 361.04h0M407.32 350.28h0M403.4 356.43h0M421.5 354.26h0M424.01 360.55h0M411.49 351.28h0M394.46 348.56h0M401.38 359.13h0M410.47 350.58h0M397.61 360.78h0M391.68 356.88h0M421.2 343.57h0M384.32 351.84h0M413.18 342.98h0M399.79 359.5h0M410.41 355.93h0M407.06 360.14h0M399.23 343.39h0M407.95 350.5h0M412.43 354.94h0M392.51 359.51h0M404.63 338.64h0M427.24 353.95h0M423.05 360.93h0M408.26 350.5h0M406.99 350h0M426.5 356.77h0M409.86 343.04h0M423.09 352.9h0M436.86 344.61h0M410.25 358.95h0M399.16 345.99h0M412.35 355.43h0M405.06 352.75h0M399.88 362.24h0M402.67 338.35h0M419.69 359.75h0M414.97 349h0M400.25 351.68h0M426.05 356.48h0M416.23 358.57h0M405.42 359.78h0M412.12 345.22h0M423.79 359.74h0M420.37 350.41h0M404.03 343.22h0M421.96 350.53h0M388.37 346.71h0M404.71 359.31h0M425.61 360.67h0M399.99 353.92h0M409.08 353.15h0M403.82 361.45h0M425.44 361.55h0M405.61 354.01h0M415.9 360.81h0M418.73 356.14h0M412.34 357.07h0M398.22 338.7h0M423.13 353.22h0M414.41 343.23h0M398.21 349.9h0M406.05 359.94h0M397.51 349.49h0M428.7 343.93h0M390.82 361.34h0M408.73 355.19h0M421.09 346.94h0M407.57 355.81h0M406.08 341.07h0M401.31 352.69h0M395.24 350.09h0M428.32 361.55h0M439.48 346.91h0M406.34 348.32h0M435.26 350.41h0M412.37 358.72h0M403.95 346.92h0M400.59 357.09h0M408.92 361.7h0M413.28 357.57h0M419.59 360.13h0M398.93 347.72h0M432.17 348.43h0M418.4 341.69h0M414.76 359.88h0M410.11 360.45h0M407.16 358.4h0M414.86 350.96h0M406.05 353.59h0M409.07 345.82h0M402.74 353.46h0M420.43 356.73h0M410.65 360.57h0M398.83 361.07h0M404.42 355.88h0M389.94 359.53h0M417.67 359.55h0M390.71 361.87h0M418.2 361.48h0M413.49 350.85h0M420.51 362.22h0M386.63 352.54h0M440.31 352.81h0M415.77 359.34h0M394.69 355.78h0M422.59 350.45h0M425.37 355.06h0M398.42 358.57h0M399.29 356.56h0M404.39 349.98h0M399.16 354.65h0M430.54 346.48h0M408.62 359h0M403.87 356.79h0M409.82 360.27h0M420.11 346.92h0M429.15 346.57h0M394.57 352.13h0M408.26 357h0M400.9 348.9h0M431.64 359.88h0M386.78 361.86h0M410.91 351.99h0M438.54 351.32h0M415.82 356.56h0M402.89 346.26h0M397.39 356.34h0M424.2 341.14h0M408.96 348.32h0M413.71 360.5h0M420.86 340.92h0M396.7 360.59h0M435.77 359.17h0M414.34 361.38h0M410.13 354.07h0M436.46 354.94h0M430.04 344.08h0M392.64 357.5h0M428.19 349.39h0M404.95 343.4h0M418.77 358.2h0M408.92 350.09h0M405.31 352.99h0M402.41 362.1h0M407.79 361.98h0M392.83 354.64h0M407.88 362.11h0M379.79 356.87h0M402.64 356.06h0M415.81 349.57h0M412.04 357.05h0M404.98 358h0M406.33 357.76h0M391.09 355.24h0M403.04 354.8h0M384.65 343.68h0M411.76 350.51h0M416.35 361.12h0M411.63 359.93h0M401.56 347.84h0M446.36 346.35h0M380.85 352.73h0M418.07 344.59h0M430.86 352.51h0M404.3 352.75h0M398.91 361.9h0M422.38 351.56h0M420.96 355.4h0M410.86 339.56h0M432.4 351.66h0M411.2 361.84h0M380.65 352.07h0M407.64 355.38h0M420.47 349.81h0M421.31 353.26h0M440.19 357.55h0M439.86 357.18h0M413.48 358.55h0M401.36 349.41h0M398.65 360.3h0M399.58 353.86h0M425.86 352.3h0M423.31 349.2h0M406.56 357.76h0M389.32 360.8h0M424 360.45h0M405.14 354.94h0M428.65 358.7h0M410.79 355.5h0M417.33 352.4h0M421.05 351.42h0M416.38 349.84h0M422.61 354.78h0M417.04 343.04h0M399.27 349.31h0M414.17 353.87h0M411.75 357.17h0M407.52 359.31h0M415.23 360.36h0M425.25 341.29h0M394.58 347.54h0M410.13 362.22h0M390.15 356.23h0M406.52 354.77h0M413.54 360.77h0M412.81 359.13h0M422.66 360.42h0M388.03 360.75h0M419.45 350.31h0M425.23 350.79h0M417.99 361.69h0M400.3 355.36h0M427.83 351.99h0M399.92 340.84h0M395.98 362.2h0M406.52 358.67h0M413.35 357.68h0M413.63 346.61h0M416.23 355.72h0M398.43 343.41h0M408.79 344.92h0M406.39 346.02h0M375.23 354.29h0M409.34 350.25h0M397.97 352.93h0M398.42 347.19h0M420.76 345.06h0M423.95 357.53h0M407.03 354.67h0M413.9 361.22h0M401.61 352.81h0M406.68 361.37h0M436.49 351.45h0M417.82 350.07h0M409.43 357.68h0M411.77 354.57h0M387.9 355.5h0M414.79 351.87h0M417.03 361.5h0M406.38 359.08h0M404.2 344.01h0M398.57 361.12h0M386.99 346.72h0M432.6 360.64h0M433.03 345.52h0M421.88 351.92h0M422.08 344.55h0M415.23 354.6h0M424.82 345.62h0" stroke="#b0b0b0" stroke-opacity="0.28" stroke-width="1.1" stroke-linecap="round" fill="none"/>
<path d="M417.71 356.57h0M404.69 328.11h0M388.1 337.58h0M420.86 330.56h0M424.86 336.36h0M395.66 331.63h0M429.6 359.51h0M410.84 335.41h0M428.41 350.98h0M380.81 304.47h0M392.8 309.82h0M383.33 332.31h0M418.38 297.98h0M418.93 342.42h0M434.68 348.42h0M424.18 352.23h0M425.21 340.9h0M393.95 346.56h0M413.71 329.03h0M366.21 351.65h0M409.9 358.06h0M437.03 312.42h0M405.58 315.93h0M398.46 360.48h0M419.2 313.85h0M426.08 322.94h0M368.07 292.51h0M409.78 338.4h0M426.59 328.73h0M404.03 357.01h0M396.05 360.27h0M392.23 309.08h0M416.28 355.7h0M393.16 327.91h0M449.2 320.14h0M411.12 347.39h0M408.75 324.96h0M428.71 352.18h0M394.21 361.09h0M419.48 334.01h0M426.67 361.53h0M391.09 359.57h0M363.68 346.58h0M387.45 354.32h0M389.07 290.42h0M436.26 303.21h0M446.75 297.31h0M424.36 289.69h0M397.85 337h0M399.37 309.88h0M399.72 349.74h0M398.63 323.78h0M421.63 320.78h0M398.55 339.36h0M425.08 321h0M393.97 345.51h0M391.12 348.5h0M367.5 284.77h0M394.92 354.7h0M394.82 349.57h0M403.96 344.4h0M401.7 331.4h0M383.79 334.06h0M435.62 353.87h0M412.37 338.83h0M426.13 319.92h0M413.99 356.85h0M406.44 350.12h0M368.36 344.14h0M430.54 298.89h0M386.66 333.01h0M368.05 286.23h0M413.89 325.58h0M392.67 345.32h0M420.59 331.17h0M407.67 360.91h0M420.87 352.75h0M431.92 351.75h0M406.53 337.18h0M429.95 333.67h0M407.13 360.76h0M411.78 334.54h0M420.53 350.43h0M418.3 331.82h0M395.78 335.22h0M389.28 359.71h0" stroke="#c0c0c0" stroke-opacity="0.4" stroke-width="1" stroke-linecap="round" fill="none"/>
<path d="M435.04 332.67h0M446.11 339.9h0M433.91 351.76h0M431.37 330.65h0M418.16 356.05h0M410.84 353.54h0M425.64 342.5h0M426.21 330.53h0M433.25 329.82h0M419.96 351.73h0M432.2 356.32h0M438.95 345.33h0M439.22 338.77h0M444.32 348.1h0M448.25 318.3h0M426.99 341.19h0M410.77 347.51h0M427.46 335.51h0M440.33 332h0M450.17 353.99h0M424.24 341.31h0M447.1 343.3h0M441.78 327.65h0M430.17 336.56h0M440.56 333.25h0M444.37 353.24h0M443.93 353.48h0M434.23 345.23h0M431.67 331.67h0M422.04 344.87h0M440.76 337.54h0M432.89 337.96h0M449.68 351.7h0M427.93 334.29h0M412.12 342.63h0M424.87 352.48h0M441.09 332.32h0M439.93 330.72h0M440.59 322.22h0M444.68 352.92h0" stroke="#E07080" stroke-opacity="0.45" stroke-width="1" stroke-linecap="round" fill="none"/>
<path d="M368.15 302.6h0M378.14 330.15h0M401.32 338.09h0M381.35 274.51h0M391.76 306.89h0M372.78 289h0M381.03 275.47h0M379.51 325.31h0M381.51 279.54h0M394.5 306.21h0M366.26 345.63h0M378.12 296.04h0M378.51 328.45h0M381.75 358.09h0" stroke="#bbbbbb" stroke-opacity="0.55" stroke-width="1.1" stroke-linecap="round" fill="none"/>
<ellipse cx="413" cy="357.5" rx="17" ry="4.5" fill="#6a78b8" fill-opacity="0.25"/>
<ellipse cx="405" cy="361" rx="14" ry="3" fill="#7fbf7f" fill-opacity="0.25"/>
<text x="270.8" y="295.62" font-size="3.7" text-anchor="middle" fill="#3B5BA5" fill-opacity="0.85">HAVCR2</text>
<text x="273" y="314.72" font-size="3.7" text-anchor="middle" fill="#5DAA48" fill-opacity="0.85">HIF1</text>
<text x="271.5" y="321.12" font-size="3.7" text-anchor="middle" fill="#7B3F9E" fill-opacity="0.85">TIGIT</text>
<text x="266" y="327.12" font-size="3.7" text-anchor="middle" fill="#5DAA48" fill-opacity="0.85">GZMB/KLRG1</text>
<text x="283.8" y="336.72" font-size="3.7" text-anchor="middle" fill="#3B5BA5" fill-opacity="0.85">LAG3</text>
<text x="273" y="339.92" font-size="3.7" text-anchor="middle" fill="#3B5BA5" fill-opacity="0.85">CTLA4</text>
<text x="283" y="344.32" font-size="3.7" text-anchor="middle" fill="#3B5BA5" fill-opacity="0.85">PDCD1</text>
<text x="270.8" y="348.32" font-size="3.7" text-anchor="middle" fill="#5DAA48" fill-opacity="0.85">CD96</text>
<text x="276" y="359.82" font-size="3.7" text-anchor="middle" fill="#3B5BA5" fill-opacity="0.85">CD160 TOX</text>
<text x="275.4" y="364.12" font-size="3.7" text-anchor="middle" fill="#3B5BA5" fill-opacity="0.85">CD244</text>
<text x="306" y="359.82" font-size="3.7" text-anchor="middle" fill="#3B5BA5" fill-opacity="0.85">LAYN</text>
<text x="301.5" y="364.92" font-size="3.7" text-anchor="middle" fill="#3B5BA5" fill-opacity="0.85">ENTPD1</text>
<text x="291" y="363.32" font-size="3.7" text-anchor="middle" fill="#5DAA48" fill-opacity="0.85">GZMK</text>
<text x="404.6" y="336.82" font-size="3.7" text-anchor="middle" fill="#3B5BA5" fill-opacity="0.85">HAVCR2</text>
<text x="397" y="342.82" font-size="3.7" text-anchor="middle" fill="#5DAA48" fill-opacity="0.85">KLRG1</text>
<text x="410.5" y="345.52" font-size="3.7" text-anchor="middle" fill="#5DAA48" fill-opacity="0.85">GZMB</text>
<text x="424.6" y="347.82" font-size="3.7" text-anchor="middle" fill="#5DAA48" fill-opacity="0.85">GZMK</text>
<text x="394.6" y="349.92" font-size="3.7" text-anchor="middle" fill="#7B3F9E" fill-opacity="0.85">PDCD1</text>
<text x="415" y="349.82" font-size="3.7" text-anchor="middle" fill="#D94F5C" fill-opacity="0.85">LAG3</text>
<text x="436" y="349.82" font-size="3.7" text-anchor="middle" fill="#D94F5C" fill-opacity="0.85">NKG7</text>
<text x="401" y="354.12" font-size="3.7" text-anchor="middle" fill="#5DAA48" fill-opacity="0.85">CD96</text>
<text x="413.5" y="354.12" font-size="3.7" text-anchor="middle" fill="#3B5BA5" fill-opacity="0.85">ENTPD1</text>
<text x="395.4" y="358.32" font-size="3.7" text-anchor="middle" fill="#3B5BA5" fill-opacity="0.85">CTLA4</text>
<text x="414" y="358.32" font-size="3.7" text-anchor="middle" fill="#3B5BA5" fill-opacity="0.85">LAYN</text>
<text x="427" y="358.32" font-size="3.7" text-anchor="middle" fill="#3B5BA5" fill-opacity="0.85">CD244</text>
<text x="420" y="362.12" font-size="3.7" text-anchor="middle" fill="#3B5BA5" fill-opacity="0.85">TOX</text>
<text x="397" y="362.32" font-size="3.7" text-anchor="middle" fill="#5DAA48" fill-opacity="0.85">GNLY</text>
<text x="410.5" y="366.32" font-size="3.7" text-anchor="middle" fill="#3B5BA5" fill-opacity="0.85">TIGIT   CD160</text>
<rect x="233.9" y="265.5" width="103.8" height="101.8" fill="none" stroke="#2a2a2a" stroke-width="1.1"/>
<rect x="361.7" y="265.5" width="100.6" height="101.8" fill="none" stroke="#2a2a2a" stroke-width="1.1"/>
<line x1="288.5" y1="265.5" x2="288.5" y2="367.3" stroke="#333" stroke-width="0.8" stroke-dasharray="3.2,2.8"/>
<line x1="407.7" y1="265.5" x2="407.7" y2="367.3" stroke="#333" stroke-width="0.8" stroke-dasharray="3.2,2.8"/>
<line x1="230.9" y1="363" x2="233.9" y2="363" stroke="#333" stroke-width="0.8"/>
<text x="228.5" y="365.61" font-size="7.3" text-anchor="end" fill="#222" stroke="#222">0</text>
<line x1="230.9" y1="337.2" x2="233.9" y2="337.2" stroke="#333" stroke-width="0.8"/>
<text x="228.5" y="339.81" font-size="7.3" text-anchor="end" fill="#222" stroke="#222">2</text>
<line x1="230.9" y1="311.4" x2="233.9" y2="311.4" stroke="#333" stroke-width="0.8"/>
<text x="228.5" y="314.01" font-size="7.3" text-anchor="end" fill="#222" stroke="#222">4</text>
<line x1="230.9" y1="285.6" x2="233.9" y2="285.6" stroke="#333" stroke-width="0.8"/>
<text x="228.5" y="288.21" font-size="7.3" text-anchor="end" fill="#222" stroke="#222">6</text>
<line x1="240.22" y1="367.3" x2="240.22" y2="369.7" stroke="#333" stroke-width="0.8"/>
<text x="240.22" y="380.18" font-size="7.2" text-anchor="middle" fill="#222" stroke="#222">−4</text>
<line x1="264.36" y1="367.3" x2="264.36" y2="369.7" stroke="#333" stroke-width="0.8"/>
<text x="264.36" y="380.18" font-size="7.2" text-anchor="middle" fill="#222" stroke="#222">−2</text>
<line x1="288.5" y1="367.3" x2="288.5" y2="369.7" stroke="#333" stroke-width="0.8"/>
<text x="288.5" y="380.18" font-size="7.2" text-anchor="middle" fill="#222" stroke="#222">0</text>
<line x1="312.64" y1="367.3" x2="312.64" y2="369.7" stroke="#333" stroke-width="0.8"/>
<text x="312.64" y="380.18" font-size="7.2" text-anchor="middle" fill="#222" stroke="#222">2</text>
<line x1="336.78" y1="367.3" x2="336.78" y2="369.7" stroke="#333" stroke-width="0.8"/>
<text x="336.78" y="380.18" font-size="7.2" text-anchor="middle" fill="#222" stroke="#222">4</text>
<line x1="359.2" y1="362.4" x2="361.7" y2="362.4" stroke="#333" stroke-width="0.8"/>
<text x="356" y="364.98" font-size="7.2" text-anchor="end" fill="#222" stroke="#222">0</text>
<line x1="359.2" y1="332.2" x2="361.7" y2="332.2" stroke="#333" stroke-width="0.8"/>
<text x="356" y="334.78" font-size="7.2" text-anchor="end" fill="#222" stroke="#222">5</text>
<line x1="359.2" y1="302" x2="361.7" y2="302" stroke="#333" stroke-width="0.8"/>
<text x="356" y="304.58" font-size="7.2" text-anchor="end" fill="#222" stroke="#222">10</text>
<line x1="359.2" y1="271.8" x2="361.7" y2="271.8" stroke="#333" stroke-width="0.8"/>
<text x="356" y="274.38" font-size="7.2" text-anchor="end" fill="#222" stroke="#222">15</text>
<line x1="383.82" y1="367.3" x2="383.82" y2="369.7" stroke="#333" stroke-width="0.8"/>
<text x="383.82" y="380.38" font-size="7.2" text-anchor="middle" fill="#222" stroke="#222">−2.5</text>
<line x1="407.7" y1="367.3" x2="407.7" y2="369.7" stroke="#333" stroke-width="0.8"/>
<text x="407.7" y="380.38" font-size="7.2" text-anchor="middle" fill="#222" stroke="#222">0.0</text>
<line x1="431.57" y1="367.3" x2="431.57" y2="369.7" stroke="#333" stroke-width="0.8"/>
<text x="431.57" y="380.38" font-size="7.2" text-anchor="middle" fill="#222" stroke="#222">2.5</text>
<line x1="455.45" y1="367.3" x2="455.45" y2="369.7" stroke="#333" stroke-width="0.8"/>
<text x="455.45" y="380.38" font-size="7.2" text-anchor="middle" fill="#222" stroke="#222">5.0</text>
<text x="0" y="0" font-size="8.2" text-anchor="middle" transform="translate(219.3 316) rotate(-90) scale(0.79 1)" fill="#222" stroke="#222" style="stroke-width:0.3px">−log<tspan font-size="5.4" dy="1.6">10</tspan><tspan dy="-1.6">(</tspan><tspan font-style="italic">P</tspan> value)</text>
<line x1="263" y1="387.2" x2="314.2" y2="387.2" stroke="#333" stroke-width="0.8"/>
<polygon points="261,387.2 265,385.5 265,388.9" fill="#333"/>
<polygon points="316.2,387.2 312.2,385.5 312.2,388.9" fill="#333"/>
<line x1="288.5" y1="385.2" x2="288.5" y2="389.2" stroke="#333" stroke-width="0.8"/>
<line x1="382" y1="387.2" x2="433.7" y2="387.2" stroke="#333" stroke-width="0.8"/>
<polygon points="380,387.2 384,385.5 384,388.9" fill="#333"/>
<polygon points="435.7,387.2 431.7,385.5 431.7,388.9" fill="#333"/>
<line x1="407.7" y1="385.2" x2="407.7" y2="389.2" stroke="#333" stroke-width="0.8"/>
<text x="274.3" y="395.52" font-size="7.6" text-anchor="middle" fill="#222" stroke="#222">TR</text>
<text x="302.6" y="395.52" font-size="7.6" text-anchor="middle" fill="#222" stroke="#222">DR</text>
<text x="393.5" y="395.52" font-size="7.6" text-anchor="middle" fill="#222" stroke="#222">TR</text>
<text x="421.5" y="395.52" font-size="7.6" text-anchor="middle" fill="#222" stroke="#222">DR</text>
<text x="347.95" y="407.62" font-size="9" text-anchor="middle" fill="#222" stroke="#222" style="stroke-width:0.35px" textLength="38.5" lengthAdjust="spacingAndGlyphs">logFC(DR/TR)</text>
<circle cx="468.9" cy="270.3" r="1.3" fill="#4DAF4A"/>
<text x="472.5" y="272.81" font-size="7" text-anchor="start" fill="#222" stroke="#222">cytotoxic</text>
<circle cx="468.9" cy="281" r="1.3" fill="#1F3A70"/>
<text x="472.5" y="283.51" font-size="7" text-anchor="start" fill="#222" stroke="#222">activation</text>
<circle cx="468.9" cy="291.8" r="1.3" fill="#C8304A"/>
<text x="472.5" y="294.41" font-size="7" text-anchor="start" fill="#222" stroke="#222">DE</text>
<text x="106.5" y="458.72" font-size="10.4" text-anchor="start" font-weight="bold" fill="#111" stroke="#111">F</text>
<text x="171.6" y="472.75" font-size="8.8" text-anchor="middle" fill="#222" stroke="#222">cytotoxic</text>
<text x="292.1" y="473.11" font-size="8.7" text-anchor="middle" fill="#222" stroke="#222">exhaustion</text>
<circle cx="142.2" cy="486.1" r="4.2" fill="#F5A05A" stroke="#999" stroke-width="0.5"/>
<circle cx="153.8" cy="486.1" r="3.6" fill="#D5E8F3" stroke="#999" stroke-width="0.5"/>
<circle cx="165.4" cy="486.1" r="2.9" fill="#93BEDB" stroke="#999" stroke-width="0.5"/>
<circle cx="177.3" cy="486.1" r="3.1" fill="#FAF6D6" stroke="#999" stroke-width="0.5"/>
<circle cx="188.8" cy="486.1" r="0.5" fill="#888"/>
<circle cx="200.6" cy="486.1" r="0.6" fill="#777"/>
<line x1="130.1" y1="486.1" x2="132.6" y2="486.1" stroke="#333" stroke-width="0.8"/>
<text x="127.2" y="488.46" font-size="8" text-anchor="end" fill="#333" stroke="#333">DR</text>
<circle cx="142.2" cy="495.2" r="5" fill="#B0102A" stroke="#999" stroke-width="0.5"/>
<circle cx="153.8" cy="495.2" r="4.6" fill="#FCE9A6" stroke="#999" stroke-width="0.5"/>
<circle cx="165.4" cy="495.2" r="4.6" fill="#FBBF73" stroke="#999" stroke-width="0.5"/>
<circle cx="177.3" cy="495.2" r="2.3" fill="#6E9FCC" stroke="#999" stroke-width="0.5"/>
<circle cx="188.8" cy="495.2" r="0.6" fill="#888"/>
<circle cx="200.6" cy="495.2" r="0.7" fill="#444"/>
<line x1="130.1" y1="495.2" x2="132.6" y2="495.2" stroke="#333" stroke-width="0.8"/>
<text x="127.2" y="497.56" font-size="8" text-anchor="end" fill="#333" stroke="#333">TR</text>
<rect x="132.6" y="477.6" width="77.7" height="26" fill="none" stroke="#222" stroke-width="1.1"/>
<circle cx="244.5" cy="487.4" r="1.4" fill="#6F8FB0"/>
<circle cx="255.3" cy="487.4" r="0.6" fill="#333"/>
<circle cx="265.8" cy="487.4" r="1.7" fill="#EAF4F4" stroke="#8aa" stroke-width="0.6"/>
<circle cx="276.2" cy="487.4" r="2.4" fill="#F29848" stroke="#B07030" stroke-width="0.6"/>
<circle cx="286.6" cy="487.4" r="0.4" fill="#999"/>
<circle cx="296.9" cy="487.4" r="0.8" fill="#444"/>
<circle cx="307.6" cy="487.4" r="0.3" fill="#bbb"/>
<circle cx="318.1" cy="487.4" r="0.3" fill="#bbb"/>
<circle cx="328.7" cy="487.4" r="0.6" fill="#333"/>
<circle cx="339" cy="487.4" r="1.7" fill="#E3F0F4" stroke="#8aa" stroke-width="0.6"/>
<circle cx="244.5" cy="495.4" r="2.5" fill="#FBF7E3" stroke="#C9A35A" stroke-width="0.6"/>
<circle cx="255.3" cy="495.4" r="1.1" fill="#6A87AD"/>
<circle cx="265.8" cy="495.4" r="3.5" fill="#B0102A" stroke="#888" stroke-width="0.6"/>
<circle cx="276.2" cy="495.4" r="3.5" fill="#B0102A" stroke="#888" stroke-width="0.6"/>
<circle cx="286.6" cy="495.4" r="0.4" fill="#999"/>
<circle cx="296.9" cy="495.4" r="0.8" fill="#444"/>
<circle cx="307.6" cy="495.4" r="0.3" fill="#bbb"/>
<circle cx="318.1" cy="495.4" r="0.3" fill="#bbb"/>
<circle cx="328.7" cy="495.4" r="0.6" fill="#333"/>
<circle cx="339" cy="495.4" r="2.9" fill="#FCE6AA" stroke="#C9A35A" stroke-width="0.6"/>
<rect x="236.3" y="479.2" width="111.3" height="24.4" fill="none" stroke="#222" stroke-width="1.1"/>
<circle cx="142.2" cy="515.9" r="3.4" fill="#F2F7DF" stroke="#999" stroke-width="0.5"/>
<circle cx="153.8" cy="515.9" r="2.6" fill="#8FB9D6" stroke="#999" stroke-width="0.5"/>
<circle cx="165.4" cy="515.9" r="1" fill="#2a2a40"/>
<circle cx="177.3" cy="515.9" r="2.1" fill="#86B2D6" stroke="#999" stroke-width="0.5"/>
<circle cx="188.8" cy="515.9" r="1" fill="#222"/>
<circle cx="200.6" cy="515.9" r="0.5" fill="#aaa"/>
<line x1="130.1" y1="515.9" x2="132.6" y2="515.9" stroke="#333" stroke-width="0.8"/>
<text x="127.2" y="518.26" font-size="8" text-anchor="end" fill="#333" stroke="#333">DR</text>
<circle cx="142.2" cy="524.6" r="5.1" fill="#B0102A" stroke="#999" stroke-width="0.5"/>
<circle cx="153.8" cy="524.6" r="4.6" fill="#FCE8A8" stroke="#999" stroke-width="0.5"/>
<circle cx="165.4" cy="524.6" r="3.4" fill="#CFE6E6" stroke="#999" stroke-width="0.5"/>
<circle cx="177.3" cy="524.6" r="3.8" fill="#FAB86D" stroke="#999" stroke-width="0.5"/>
<circle cx="188.8" cy="524.6" r="1.1" fill="#222"/>
<circle cx="200.6" cy="524.6" r="0.5" fill="#999"/>
<line x1="130.1" y1="524.6" x2="132.6" y2="524.6" stroke="#333" stroke-width="0.8"/>
<text x="127.2" y="526.96" font-size="8" text-anchor="end" fill="#333" stroke="#333">TR</text>
<rect x="132.6" y="507.3" width="77.7" height="26" fill="none" stroke="#222" stroke-width="1.1"/>
<circle cx="244.5" cy="516.2" r="1.7" fill="#E6F1F6" stroke="#8aa" stroke-width="0.6"/>
<circle cx="255.3" cy="516.2" r="1.1" fill="#6F8FB0"/>
<circle cx="265.8" cy="516.2" r="1.1" fill="#6F8FB0"/>
<circle cx="276.2" cy="516.2" r="1.7" fill="#E3F0F2" stroke="#8aa" stroke-width="0.6"/>
<circle cx="286.6" cy="516.2" r="0.4" fill="#999"/>
<circle cx="296.9" cy="516.2" r="0.8" fill="#444"/>
<circle cx="307.6" cy="516.2" r="0.3" fill="#bbb"/>
<circle cx="318.1" cy="516.2" r="0.3" fill="#ccc"/>
<circle cx="328.7" cy="516.2" r="0.4" fill="#bbb"/>
<circle cx="339" cy="516.2" r="1.7" fill="#E3F0F4" stroke="#8aa" stroke-width="0.6"/>
<circle cx="244.5" cy="524.6" r="2.3" fill="#FCE4A4" stroke="#C9A35A" stroke-width="0.6"/>
<circle cx="255.3" cy="524.6" r="2.2" fill="#FDF0C8" stroke="#C9A35A" stroke-width="0.6"/>
<circle cx="265.8" cy="524.6" r="3.5" fill="#B0102A" stroke="#888" stroke-width="0.6"/>
<circle cx="276.2" cy="524.6" r="3.5" fill="#B0102A" stroke="#888" stroke-width="0.6"/>
<circle cx="286.6" cy="524.6" r="0.4" fill="#aaa"/>
<circle cx="296.9" cy="524.6" r="0.8" fill="#444"/>
<circle cx="307.6" cy="524.6" r="0.3" fill="#ccc"/>
<circle cx="318.1" cy="524.6" r="0.3" fill="#ccc"/>
<circle cx="328.7" cy="524.6" r="0.3" fill="#ccc"/>
<circle cx="339" cy="524.6" r="3.9" fill="#B0102A" stroke="#888" stroke-width="0.6"/>
<rect x="236.3" y="508.5" width="111.3" height="24.8" fill="none" stroke="#222" stroke-width="1.1"/>
<defs><linearGradient id="rdylbu" x1="0" y1="0" x2="0" y2="1"><stop offset="0" stop-color="#C8363A"/><stop offset="0.2" stop-color="#F07A4A"/><stop offset="0.38" stop-color="#FBC46A"/><stop offset="0.52" stop-color="#FDF3C0"/><stop offset="0.64" stop-color="#E3F1F3"/><stop offset="0.8" stop-color="#8BBCDB"/><stop offset="1" stop-color="#2F5FA5"/></linearGradient></defs>
<rect x="214" y="477.4" width="5.6" height="26.3" fill="url(#rdylbu)" stroke="none" stroke-width="1"/>
<rect x="214" y="507.2" width="5.6" height="26.3" fill="url(#rdylbu)" stroke="none" stroke-width="1"/>
<rect x="352.7" y="476.9" width="5.7" height="28.8" fill="url(#rdylbu)" stroke="none" stroke-width="1"/>
<rect x="352.7" y="508.2" width="5.7" height="27.2" fill="url(#rdylbu)" stroke="none" stroke-width="1"/>
<line x1="219.6" y1="479" x2="221" y2="479" stroke="#333" stroke-width="0.7"/>
<text x="223.3" y="481.72" font-size="7.6" text-anchor="start" fill="#333" stroke="#333">4</text>
<line x1="219.6" y1="491.4" x2="221" y2="491.4" stroke="#333" stroke-width="0.7"/>
<text x="223.3" y="494.12" font-size="7.6" text-anchor="start" fill="#333" stroke="#333">2</text>
<line x1="219.6" y1="512.4" x2="221" y2="512.4" stroke="#333" stroke-width="0.7"/>
<text x="223.3" y="515.12" font-size="7.6" text-anchor="start" fill="#333" stroke="#333">2</text>
<line x1="219.6" y1="523" x2="221" y2="523" stroke="#333" stroke-width="0.7"/>
<text x="223.3" y="525.72" font-size="7.6" text-anchor="start" fill="#333" stroke="#333">1</text>
<line x1="358.4" y1="485.4" x2="359.8" y2="485.4" stroke="#333" stroke-width="0.7"/>
<text x="362.8" y="488.12" font-size="7.6" text-anchor="start" fill="#333" stroke="#333">0.5</text>
<line x1="358.4" y1="496.2" x2="359.8" y2="496.2" stroke="#333" stroke-width="0.7"/>
<text x="362.8" y="498.92" font-size="7.6" text-anchor="start" fill="#333" stroke="#333">0.25</text>
<line x1="358.4" y1="511.3" x2="359.8" y2="511.3" stroke="#333" stroke-width="0.7"/>
<text x="362.8" y="514.02" font-size="7.6" text-anchor="start" fill="#333" stroke="#333">0.3</text>
<line x1="358.4" y1="519.2" x2="359.8" y2="519.2" stroke="#333" stroke-width="0.7"/>
<text x="362.8" y="521.92" font-size="7.6" text-anchor="start" fill="#333" stroke="#333">0.2</text>
<line x1="358.4" y1="527" x2="359.8" y2="527" stroke="#333" stroke-width="0.7"/>
<text x="362.8" y="529.72" font-size="7.6" text-anchor="start" fill="#333" stroke="#333">0.1</text>
<text x="380" y="489.86" font-size="8" text-anchor="start" fill="#333" stroke="#333">CD8+</text>
<text x="380" y="499.06" font-size="8" text-anchor="start" fill="#333" stroke="#333">CAR-T</text>
<text x="380" y="519.46" font-size="8" text-anchor="start" fill="#333" stroke="#333">CD4+</text>
<text x="380" y="529.06" font-size="8" text-anchor="start" fill="#333" stroke="#333">CAR-T</text>
<line x1="142.2" y1="533.3" x2="142.2" y2="535.6" stroke="#333" stroke-width="0.8"/>
<text x="145.46" y="539.2" font-size="9.1" text-anchor="end" transform="rotate(-90 145.46 539.2)" fill="#222" stroke="#222">NKG7</text>
<line x1="153.8" y1="533.3" x2="153.8" y2="535.6" stroke="#333" stroke-width="0.8"/>
<text x="157.06" y="539.2" font-size="9.1" text-anchor="end" transform="rotate(-90 157.06 539.2)" fill="#222" stroke="#222">PRF1</text>
<line x1="165.4" y1="533.3" x2="165.4" y2="535.6" stroke="#333" stroke-width="0.8"/>
<text x="168.66" y="539.2" font-size="9.1" text-anchor="end" transform="rotate(-90 168.66 539.2)" fill="#222" stroke="#222">GZMB</text>
<line x1="177.3" y1="533.3" x2="177.3" y2="535.6" stroke="#333" stroke-width="0.8"/>
<text x="180.56" y="539.2" font-size="9.1" text-anchor="end" transform="rotate(-90 180.56 539.2)" fill="#222" stroke="#222">GZMK</text>
<line x1="188.8" y1="533.3" x2="188.8" y2="535.6" stroke="#333" stroke-width="0.8"/>
<text x="192.06" y="539.2" font-size="9.1" text-anchor="end" transform="rotate(-90 192.06 539.2)" fill="#222" stroke="#222">TNF</text>
<line x1="200.6" y1="533.3" x2="200.6" y2="535.6" stroke="#333" stroke-width="0.8"/>
<text x="203.86" y="539.2" font-size="9.1" text-anchor="end" transform="rotate(-90 203.86 539.2)" fill="#222" stroke="#222">IFNG</text>
<line x1="244.5" y1="533.3" x2="244.5" y2="535.6" stroke="#333" stroke-width="0.8"/>
<text x="247.76" y="539.2" font-size="9.1" text-anchor="end" transform="rotate(-90 247.76 539.2)" fill="#222" stroke="#222">PDCD1</text>
<line x1="255.3" y1="533.3" x2="255.3" y2="535.6" stroke="#333" stroke-width="0.8"/>
<text x="258.56" y="539.2" font-size="9.1" text-anchor="end" transform="rotate(-90 258.56 539.2)" fill="#222" stroke="#222">CTLA4</text>
<line x1="265.8" y1="533.3" x2="265.8" y2="535.6" stroke="#333" stroke-width="0.8"/>
<text x="269.06" y="539.2" font-size="9.1" text-anchor="end" transform="rotate(-90 269.06 539.2)" fill="#222" stroke="#222">HAVCR2</text>
<line x1="276.2" y1="533.3" x2="276.2" y2="535.6" stroke="#333" stroke-width="0.8"/>
<text x="279.46" y="539.2" font-size="9.1" text-anchor="end" transform="rotate(-90 279.46 539.2)" fill="#222" stroke="#222">LAG3</text>
<line x1="286.6" y1="533.3" x2="286.6" y2="535.6" stroke="#333" stroke-width="0.8"/>
<text x="289.86" y="539.2" font-size="9.1" text-anchor="end" transform="rotate(-90 289.86 539.2)" fill="#222" stroke="#222">ENTPD1</text>
<line x1="296.9" y1="533.3" x2="296.9" y2="535.6" stroke="#333" stroke-width="0.8"/>
<text x="300.16" y="539.2" font-size="9.1" text-anchor="end" transform="rotate(-90 300.16 539.2)" fill="#222" stroke="#222">TOX</text>
<line x1="307.6" y1="533.3" x2="307.6" y2="535.6" stroke="#333" stroke-width="0.8"/>
<text x="310.86" y="539.2" font-size="9.1" text-anchor="end" transform="rotate(-90 310.86 539.2)" fill="#222" stroke="#222">LAYN</text>
<line x1="318.1" y1="533.3" x2="318.1" y2="535.6" stroke="#333" stroke-width="0.8"/>
<text x="321.36" y="539.2" font-size="9.1" text-anchor="end" transform="rotate(-90 321.36 539.2)" fill="#222" stroke="#222">CD160</text>
<line x1="328.7" y1="533.3" x2="328.7" y2="535.6" stroke="#333" stroke-width="0.8"/>
<text x="331.96" y="539.2" font-size="9.1" text-anchor="end" transform="rotate(-90 331.96 539.2)" fill="#222" stroke="#222">CD244</text>
<line x1="339" y1="533.3" x2="339" y2="535.6" stroke="#333" stroke-width="0.8"/>
<text x="342.26" y="539.2" font-size="9.1" text-anchor="end" transform="rotate(-90 342.26 539.2)" fill="#222" stroke="#222">TIGIT</text>
<text x="170.5" y="576.99" font-size="8.9" text-anchor="middle" fill="#222" stroke="#222">fraction of cells (%)</text>
<circle cx="145.5" cy="587.7" r="1.5" fill="#9a9a9a"/>
<line x1="145.5" y1="596.5" x2="145.5" y2="598.6" stroke="#333" stroke-width="0.8"/>
<text x="145.5" y="608.32" font-size="7.6" text-anchor="middle" fill="#333" stroke="#333">10</text>
<circle cx="158.2" cy="587.7" r="2.5" fill="#9a9a9a"/>
<line x1="158.2" y1="596.5" x2="158.2" y2="598.6" stroke="#333" stroke-width="0.8"/>
<text x="158.2" y="608.32" font-size="7.6" text-anchor="middle" fill="#333" stroke="#333">20</text>
<circle cx="170.4" cy="587.7" r="3.6" fill="#9a9a9a"/>
<line x1="170.4" y1="596.5" x2="170.4" y2="598.6" stroke="#333" stroke-width="0.8"/>
<text x="170.4" y="608.32" font-size="7.6" text-anchor="middle" fill="#333" stroke="#333">40</text>
<circle cx="182.6" cy="587.7" r="4.7" fill="#9a9a9a"/>
<line x1="182.6" y1="596.5" x2="182.6" y2="598.6" stroke="#333" stroke-width="0.8"/>
<text x="182.6" y="608.32" font-size="7.6" text-anchor="middle" fill="#333" stroke="#333">60</text>
<circle cx="195" cy="587.7" r="5.3" fill="#9a9a9a"/>
<line x1="195" y1="596.5" x2="195" y2="598.6" stroke="#333" stroke-width="0.8"/>
<text x="195" y="608.32" font-size="7.6" text-anchor="middle" fill="#333" stroke="#333">80</text>
</svg></body></html>
